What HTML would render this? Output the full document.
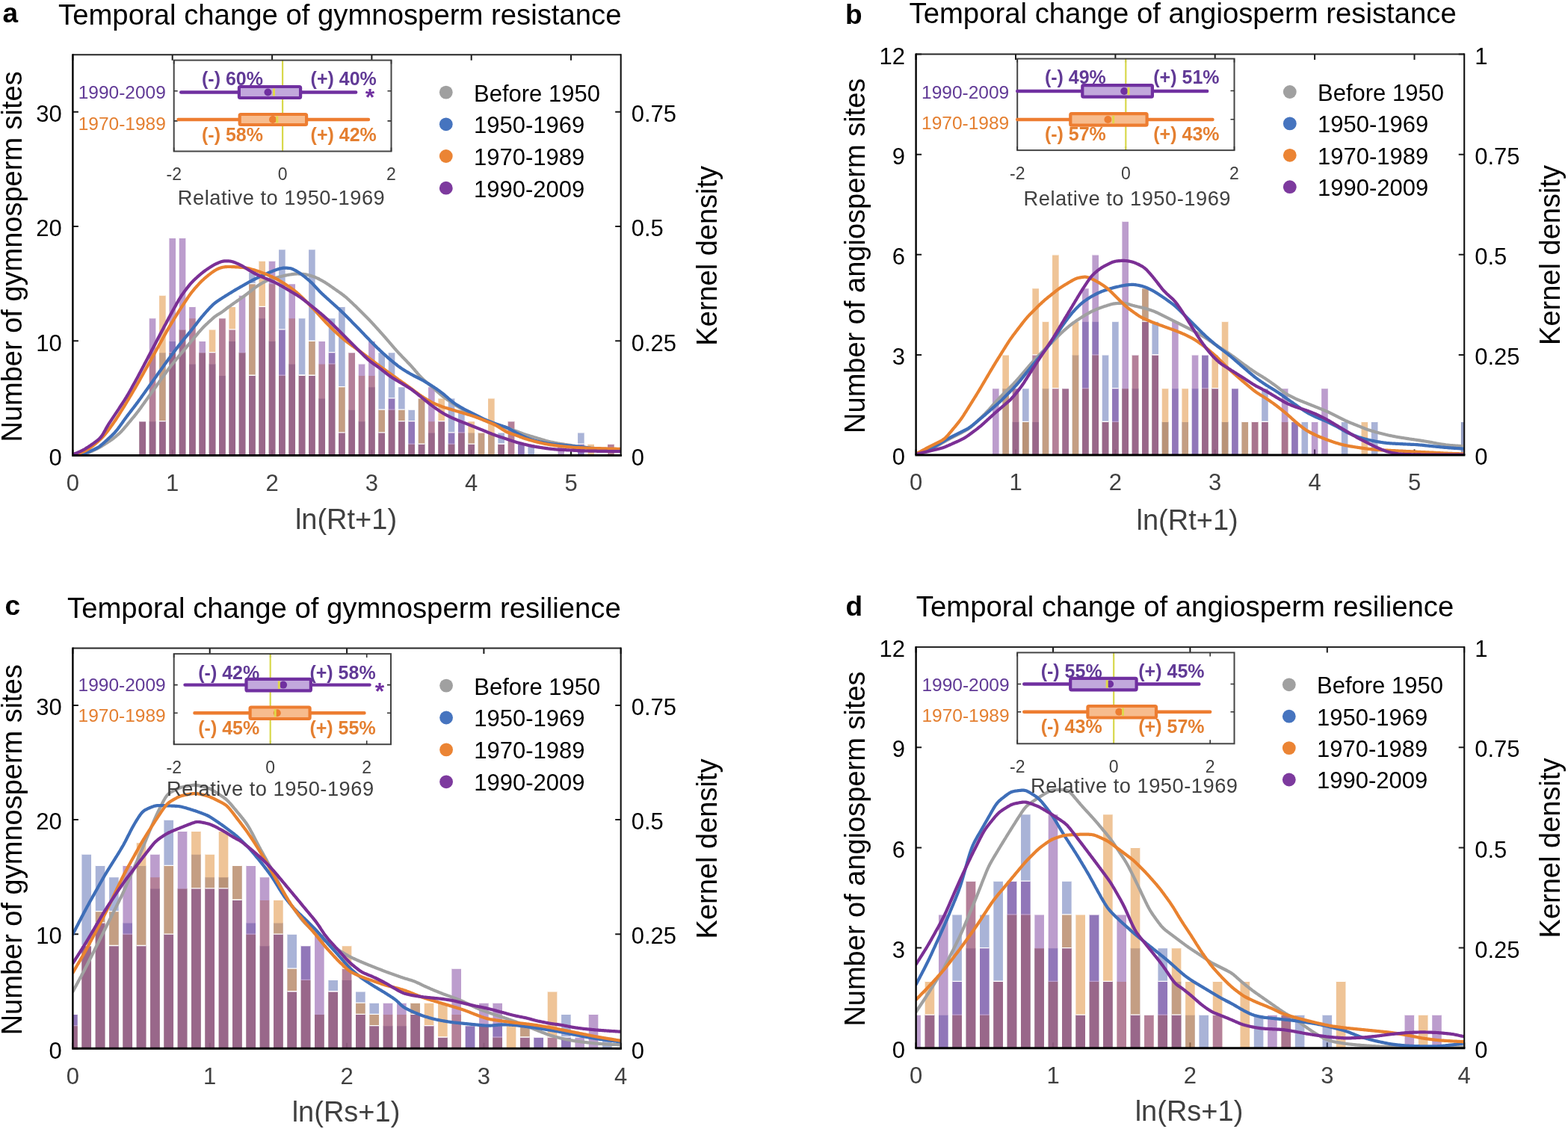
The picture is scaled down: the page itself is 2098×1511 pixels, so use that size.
<!DOCTYPE html><html><head><meta charset="utf-8"><style>html,body{margin:0;padding:0;background:#fff;overflow:hidden}svg{display:block}</style></head><body><svg width="2098" height="1511" viewBox="0 0 2098 1511" font-family="'Liberation Sans', Arial, Helvetica, sans-serif">
<rect width="2098" height="1511" fill="#fff"/>
<clipPath id="clipa"><rect x="97.4" y="71.2" width="733.3000000000001" height="538.3"/></clipPath>
<path d="M97.4,609.5 v-7.5 M97.4,73.2 v7.5 M230.7,609.5 v-7.5 M230.7,73.2 v7.5 M364.1,609.5 v-7.5 M364.1,73.2 v7.5 M497.4,609.5 v-7.5 M497.4,73.2 v7.5 M630.7,609.5 v-7.5 M630.7,73.2 v7.5 M764.0,609.5 v-7.5 M764.0,73.2 v7.5 M97.4,609.5 h7.5 M97.4,456.3 h7.5 M97.4,303.0 h7.5 M97.4,149.8 h7.5 M830.7,609.5 h-7.5 M830.7,456.3 h-7.5 M830.7,303.0 h-7.5 M830.7,149.8 h-7.5" stroke="#1a1a1a" stroke-width="2" fill="none"/>
<g clip-path="url(#clipa)">
<g fill="#a5a5a5" fill-opacity="0.5"><rect x="186.43" y="563.53" width="8.60" height="45.97"/><rect x="199.76" y="563.53" width="8.60" height="45.97"/><rect x="213.09" y="563.53" width="8.60" height="45.97"/><rect x="226.43" y="471.59" width="8.60" height="137.91"/><rect x="239.76" y="471.59" width="8.60" height="137.91"/><rect x="253.09" y="486.92" width="8.60" height="122.58"/><rect x="266.43" y="471.59" width="8.60" height="137.91"/><rect x="279.76" y="486.92" width="8.60" height="122.58"/><rect x="293.09" y="502.24" width="8.60" height="107.26"/><rect x="306.42" y="456.27" width="8.60" height="153.23"/><rect x="319.76" y="471.59" width="8.60" height="137.91"/><rect x="333.09" y="502.24" width="8.60" height="107.26"/><rect x="346.42" y="425.63" width="8.60" height="183.87"/><rect x="359.75" y="456.27" width="8.60" height="153.23"/><rect x="373.09" y="502.24" width="8.60" height="107.26"/><rect x="386.42" y="486.92" width="8.60" height="122.58"/><rect x="399.75" y="502.24" width="8.60" height="107.26"/><rect x="413.09" y="502.24" width="8.60" height="107.26"/><rect x="426.42" y="532.89" width="8.60" height="76.61"/><rect x="439.75" y="486.92" width="8.60" height="122.58"/><rect x="453.08" y="578.85" width="8.60" height="30.65"/><rect x="466.42" y="548.21" width="8.60" height="61.29"/><rect x="479.75" y="563.53" width="8.60" height="45.97"/><rect x="493.08" y="517.56" width="8.60" height="91.94"/><rect x="506.41" y="578.85" width="8.60" height="30.65"/><rect x="519.75" y="548.21" width="8.60" height="61.29"/><rect x="533.08" y="563.53" width="8.60" height="45.97"/><rect x="546.41" y="594.18" width="8.60" height="15.32"/><rect x="559.75" y="594.18" width="8.60" height="15.32"/><rect x="573.08" y="578.85" width="8.60" height="30.65"/><rect x="586.41" y="563.53" width="8.60" height="45.97"/><rect x="599.74" y="594.18" width="8.60" height="15.32"/><rect x="613.08" y="578.85" width="8.60" height="30.65"/><rect x="626.41" y="594.18" width="8.60" height="15.32"/><rect x="666.41" y="594.18" width="8.60" height="15.32"/></g>
<path d="M186.43,563.53 h8.60 M199.76,563.53 h8.60 M213.09,563.53 h8.60 M226.43,471.59 h8.60 M239.76,471.59 h8.60 M253.09,486.92 h8.60 M266.43,471.59 h8.60 M279.76,486.92 h8.60 M293.09,502.24 h8.60 M306.42,456.27 h8.60 M319.76,471.59 h8.60 M333.09,502.24 h8.60 M346.42,425.63 h8.60 M359.75,456.27 h8.60 M373.09,502.24 h8.60 M386.42,486.92 h8.60 M399.75,502.24 h8.60 M413.09,502.24 h8.60 M426.42,532.89 h8.60 M439.75,486.92 h8.60 M453.08,578.85 h8.60 M466.42,548.21 h8.60 M479.75,563.53 h8.60 M493.08,517.56 h8.60 M506.41,578.85 h8.60 M519.75,548.21 h8.60 M533.08,563.53 h8.60 M546.41,594.18 h8.60 M559.75,594.18 h8.60 M573.08,578.85 h8.60 M586.41,563.53 h8.60 M599.74,594.18 h8.60 M613.08,578.85 h8.60 M626.41,594.18 h8.60 M666.41,594.18 h8.60" stroke="#fff" stroke-width="1.3" fill="none"/>
<g fill="#5468b0" fill-opacity="0.5"><rect x="186.43" y="563.53" width="8.60" height="45.97"/><rect x="199.76" y="563.53" width="8.60" height="45.97"/><rect x="213.09" y="471.59" width="8.60" height="137.91"/><rect x="226.43" y="456.27" width="8.60" height="153.23"/><rect x="239.76" y="440.95" width="8.60" height="168.55"/><rect x="253.09" y="486.92" width="8.60" height="122.58"/><rect x="266.43" y="471.59" width="8.60" height="137.91"/><rect x="279.76" y="486.92" width="8.60" height="122.58"/><rect x="293.09" y="502.24" width="8.60" height="107.26"/><rect x="306.42" y="456.27" width="8.60" height="153.23"/><rect x="319.76" y="471.59" width="8.60" height="137.91"/><rect x="333.09" y="364.33" width="8.60" height="245.17"/><rect x="346.42" y="425.63" width="8.60" height="183.87"/><rect x="359.75" y="456.27" width="8.60" height="153.23"/><rect x="373.09" y="333.69" width="8.60" height="275.81"/><rect x="386.42" y="486.92" width="8.60" height="122.58"/><rect x="399.75" y="425.63" width="8.60" height="183.87"/><rect x="413.09" y="333.69" width="8.60" height="275.81"/><rect x="426.42" y="532.89" width="8.60" height="76.61"/><rect x="439.75" y="425.63" width="8.60" height="183.87"/><rect x="453.08" y="410.30" width="8.60" height="199.20"/><rect x="466.42" y="548.21" width="8.60" height="61.29"/><rect x="479.75" y="563.53" width="8.60" height="45.97"/><rect x="493.08" y="517.56" width="8.60" height="91.94"/><rect x="506.41" y="471.59" width="8.60" height="137.91"/><rect x="519.75" y="471.59" width="8.60" height="137.91"/><rect x="533.08" y="517.56" width="8.60" height="91.94"/><rect x="546.41" y="548.21" width="8.60" height="61.29"/><rect x="559.75" y="532.89" width="8.60" height="76.61"/><rect x="573.08" y="578.85" width="8.60" height="30.65"/><rect x="586.41" y="563.53" width="8.60" height="45.97"/><rect x="599.74" y="532.89" width="8.60" height="76.61"/><rect x="613.08" y="548.21" width="8.60" height="61.29"/><rect x="626.41" y="578.85" width="8.60" height="30.65"/><rect x="639.74" y="578.85" width="8.60" height="30.65"/><rect x="653.07" y="578.85" width="8.60" height="30.65"/><rect x="666.41" y="578.85" width="8.60" height="30.65"/><rect x="693.07" y="594.18" width="8.60" height="15.32"/><rect x="706.41" y="594.18" width="8.60" height="15.32"/><rect x="773.07" y="578.85" width="8.60" height="30.65"/></g>
<path d="M186.43,563.53 h8.60 M199.76,563.53 h8.60 M213.09,471.59 h8.60 M226.43,456.27 h8.60 M239.76,440.95 h8.60 M253.09,486.92 h8.60 M266.43,471.59 h8.60 M279.76,486.92 h8.60 M293.09,502.24 h8.60 M306.42,456.27 h8.60 M319.76,471.59 h8.60 M333.09,364.33 h8.60 M346.42,425.63 h8.60 M359.75,456.27 h8.60 M373.09,333.69 h8.60 M386.42,486.92 h8.60 M399.75,425.63 h8.60 M413.09,333.69 h8.60 M426.42,532.89 h8.60 M439.75,425.63 h8.60 M453.08,410.30 h8.60 M466.42,548.21 h8.60 M479.75,563.53 h8.60 M493.08,517.56 h8.60 M506.41,471.59 h8.60 M519.75,471.59 h8.60 M533.08,517.56 h8.60 M546.41,548.21 h8.60 M559.75,532.89 h8.60 M573.08,578.85 h8.60 M586.41,563.53 h8.60 M599.74,532.89 h8.60 M613.08,548.21 h8.60 M626.41,578.85 h8.60 M639.74,578.85 h8.60 M653.07,578.85 h8.60 M666.41,578.85 h8.60 M693.07,594.18 h8.60 M706.41,594.18 h8.60 M773.07,578.85 h8.60" stroke="#fff" stroke-width="1.3" fill="none"/>
<g fill="#e08a30" fill-opacity="0.5"><rect x="186.43" y="563.53" width="8.60" height="45.97"/><rect x="199.76" y="471.59" width="8.60" height="137.91"/><rect x="213.09" y="394.98" width="8.60" height="214.52"/><rect x="226.43" y="471.59" width="8.60" height="137.91"/><rect x="239.76" y="440.95" width="8.60" height="168.55"/><rect x="253.09" y="425.63" width="8.60" height="183.87"/><rect x="266.43" y="471.59" width="8.60" height="137.91"/><rect x="279.76" y="440.95" width="8.60" height="168.55"/><rect x="293.09" y="425.63" width="8.60" height="183.87"/><rect x="306.42" y="410.30" width="8.60" height="199.20"/><rect x="319.76" y="471.59" width="8.60" height="137.91"/><rect x="333.09" y="379.66" width="8.60" height="229.84"/><rect x="346.42" y="349.01" width="8.60" height="260.49"/><rect x="359.75" y="379.66" width="8.60" height="229.84"/><rect x="373.09" y="502.24" width="8.60" height="107.26"/><rect x="386.42" y="425.63" width="8.60" height="183.87"/><rect x="399.75" y="502.24" width="8.60" height="107.26"/><rect x="413.09" y="456.27" width="8.60" height="153.23"/><rect x="426.42" y="486.92" width="8.60" height="122.58"/><rect x="439.75" y="486.92" width="8.60" height="122.58"/><rect x="453.08" y="517.56" width="8.60" height="91.94"/><rect x="466.42" y="471.59" width="8.60" height="137.91"/><rect x="479.75" y="502.24" width="8.60" height="107.26"/><rect x="493.08" y="502.24" width="8.60" height="107.26"/><rect x="506.41" y="548.21" width="8.60" height="61.29"/><rect x="519.75" y="548.21" width="8.60" height="61.29"/><rect x="533.08" y="548.21" width="8.60" height="61.29"/><rect x="546.41" y="594.18" width="8.60" height="15.32"/><rect x="559.75" y="532.89" width="8.60" height="76.61"/><rect x="573.08" y="563.53" width="8.60" height="45.97"/><rect x="586.41" y="532.89" width="8.60" height="76.61"/><rect x="599.74" y="594.18" width="8.60" height="15.32"/><rect x="613.08" y="578.85" width="8.60" height="30.65"/><rect x="626.41" y="563.53" width="8.60" height="45.97"/><rect x="639.74" y="578.85" width="8.60" height="30.65"/><rect x="653.07" y="532.89" width="8.60" height="76.61"/><rect x="666.41" y="594.18" width="8.60" height="15.32"/><rect x="679.74" y="563.53" width="8.60" height="45.97"/><rect x="786.40" y="594.18" width="8.60" height="15.32"/><rect x="813.07" y="594.18" width="8.60" height="15.32"/></g>
<path d="M186.43,563.53 h8.60 M199.76,471.59 h8.60 M213.09,394.98 h8.60 M226.43,471.59 h8.60 M239.76,440.95 h8.60 M253.09,425.63 h8.60 M266.43,471.59 h8.60 M279.76,440.95 h8.60 M293.09,425.63 h8.60 M306.42,410.30 h8.60 M319.76,471.59 h8.60 M333.09,379.66 h8.60 M346.42,349.01 h8.60 M359.75,379.66 h8.60 M373.09,502.24 h8.60 M386.42,425.63 h8.60 M399.75,502.24 h8.60 M413.09,456.27 h8.60 M426.42,486.92 h8.60 M439.75,486.92 h8.60 M453.08,517.56 h8.60 M466.42,471.59 h8.60 M479.75,502.24 h8.60 M493.08,502.24 h8.60 M506.41,548.21 h8.60 M519.75,548.21 h8.60 M533.08,548.21 h8.60 M546.41,594.18 h8.60 M559.75,532.89 h8.60 M573.08,563.53 h8.60 M586.41,532.89 h8.60 M599.74,594.18 h8.60 M613.08,578.85 h8.60 M626.41,563.53 h8.60 M639.74,578.85 h8.60 M653.07,532.89 h8.60 M666.41,594.18 h8.60 M679.74,563.53 h8.60 M786.40,594.18 h8.60 M813.07,594.18 h8.60" stroke="#fff" stroke-width="1.3" fill="none"/>
<g fill="#7a3c9c" fill-opacity="0.5"><rect x="186.43" y="563.53" width="8.60" height="45.97"/><rect x="199.76" y="425.63" width="8.60" height="183.87"/><rect x="213.09" y="563.53" width="8.60" height="45.97"/><rect x="226.43" y="318.37" width="8.60" height="291.13"/><rect x="239.76" y="318.37" width="8.60" height="291.13"/><rect x="253.09" y="410.30" width="8.60" height="199.20"/><rect x="266.43" y="456.27" width="8.60" height="153.23"/><rect x="279.76" y="471.59" width="8.60" height="137.91"/><rect x="293.09" y="425.63" width="8.60" height="183.87"/><rect x="306.42" y="440.95" width="8.60" height="168.55"/><rect x="319.76" y="394.98" width="8.60" height="214.52"/><rect x="333.09" y="502.24" width="8.60" height="107.26"/><rect x="346.42" y="410.30" width="8.60" height="199.20"/><rect x="359.75" y="349.01" width="8.60" height="260.49"/><rect x="373.09" y="440.95" width="8.60" height="168.55"/><rect x="386.42" y="379.66" width="8.60" height="229.84"/><rect x="399.75" y="502.24" width="8.60" height="107.26"/><rect x="413.09" y="502.24" width="8.60" height="107.26"/><rect x="426.42" y="456.27" width="8.60" height="153.23"/><rect x="439.75" y="471.59" width="8.60" height="137.91"/><rect x="453.08" y="578.85" width="8.60" height="30.65"/><rect x="466.42" y="471.59" width="8.60" height="137.91"/><rect x="479.75" y="486.92" width="8.60" height="122.58"/><rect x="493.08" y="456.27" width="8.60" height="153.23"/><rect x="506.41" y="578.85" width="8.60" height="30.65"/><rect x="519.75" y="532.89" width="8.60" height="76.61"/><rect x="533.08" y="563.53" width="8.60" height="45.97"/><rect x="546.41" y="563.53" width="8.60" height="45.97"/><rect x="559.75" y="594.18" width="8.60" height="15.32"/><rect x="573.08" y="517.56" width="8.60" height="91.94"/><rect x="586.41" y="563.53" width="8.60" height="45.97"/><rect x="599.74" y="578.85" width="8.60" height="30.65"/><rect x="613.08" y="563.53" width="8.60" height="45.97"/><rect x="626.41" y="594.18" width="8.60" height="15.32"/><rect x="666.41" y="594.18" width="8.60" height="15.32"/><rect x="679.74" y="563.53" width="8.60" height="45.97"/><rect x="693.07" y="594.18" width="8.60" height="15.32"/><rect x="746.40" y="594.18" width="8.60" height="15.32"/><rect x="773.07" y="594.18" width="8.60" height="15.32"/><rect x="813.07" y="594.18" width="8.60" height="15.32"/></g>
<path d="M186.43,563.53 h8.60 M199.76,425.63 h8.60 M213.09,563.53 h8.60 M226.43,318.37 h8.60 M239.76,318.37 h8.60 M253.09,410.30 h8.60 M266.43,456.27 h8.60 M279.76,471.59 h8.60 M293.09,425.63 h8.60 M306.42,440.95 h8.60 M319.76,394.98 h8.60 M333.09,502.24 h8.60 M346.42,410.30 h8.60 M359.75,349.01 h8.60 M373.09,440.95 h8.60 M386.42,379.66 h8.60 M399.75,502.24 h8.60 M413.09,502.24 h8.60 M426.42,456.27 h8.60 M439.75,471.59 h8.60 M453.08,578.85 h8.60 M466.42,471.59 h8.60 M479.75,486.92 h8.60 M493.08,456.27 h8.60 M506.41,578.85 h8.60 M519.75,532.89 h8.60 M533.08,563.53 h8.60 M546.41,563.53 h8.60 M559.75,594.18 h8.60 M573.08,517.56 h8.60 M586.41,563.53 h8.60 M599.74,578.85 h8.60 M613.08,563.53 h8.60 M626.41,594.18 h8.60 M666.41,594.18 h8.60 M679.74,563.53 h8.60 M693.07,594.18 h8.60 M746.40,594.18 h8.60 M773.07,594.18 h8.60 M813.07,594.18 h8.60" stroke="#fff" stroke-width="1.3" fill="none"/>
</g>
<path d="M97.0,609.2 L98.0,609.1 L99.0,609.1 L100.0,609.0 L101.0,608.9 L102.0,608.8 L103.0,608.8 L104.0,608.7 L105.0,608.6 L106.0,608.5 L107.0,608.5 L108.0,608.4 L109.0,608.3 L110.0,608.2 L111.0,608.0 L112.0,607.9 L113.0,607.6 L114.0,607.4 L115.0,607.1 L116.0,606.7 L117.0,606.4 L118.0,606.0 L119.0,605.5 L120.0,605.1 L121.0,604.7 L122.0,604.2 L123.0,603.7 L124.0,603.3 L125.0,602.8 L126.0,602.4 L127.0,601.9 L128.0,601.4 L129.0,600.9 L130.0,600.5 L131.0,599.9 L132.0,599.4 L133.0,598.9 L134.0,598.3 L135.0,597.7 L136.0,597.1 L137.0,596.5 L138.0,595.8 L139.0,595.2 L140.0,594.6 L141.0,593.9 L142.0,593.3 L143.0,592.6 L144.0,592.0 L145.0,591.3 L146.0,590.7 L147.0,590.0 L148.0,589.4 L149.0,588.7 L150.0,588.0 L151.0,587.2 L152.0,586.5 L153.0,585.7 L154.0,584.9 L155.0,584.1 L156.0,583.2 L157.0,582.4 L158.0,581.5 L159.0,580.6 L160.0,579.7 L161.0,578.7 L162.0,577.7 L163.0,576.7 L164.0,575.6 L165.0,574.5 L166.0,573.3 L167.0,572.1 L168.0,571.0 L169.0,569.8 L170.0,568.6 L171.0,567.4 L172.0,566.2 L173.0,565.0 L174.0,563.8 L175.0,562.6 L176.0,561.4 L177.0,560.2 L178.0,559.0 L179.0,557.8 L180.0,556.6 L181.0,555.3 L182.0,554.1 L183.0,552.8 L184.0,551.5 L185.0,550.2 L186.0,548.9 L187.0,547.5 L188.0,546.2 L189.0,544.8 L190.0,543.4 L191.0,542.0 L192.0,540.6 L193.0,539.2 L194.0,537.8 L195.0,536.4 L196.0,535.0 L197.0,533.6 L198.0,532.2 L199.0,530.8 L200.0,529.4 L201.0,528.0 L202.0,526.6 L203.0,525.2 L204.0,523.8 L205.0,522.4 L206.0,521.0 L207.0,519.6 L208.0,518.2 L209.0,516.8 L210.0,515.4 L211.0,514.0 L212.0,512.6 L213.0,511.2 L214.0,509.8 L215.0,508.4 L216.0,507.0 L217.0,505.6 L218.0,504.2 L219.0,502.8 L220.0,501.4 L221.0,500.1 L222.0,498.7 L223.0,497.3 L224.0,495.9 L225.0,494.5 L226.0,493.2 L227.0,491.9 L228.0,490.6 L229.0,489.3 L230.0,488.0 L231.0,486.8 L232.0,485.6 L233.0,484.4 L234.0,483.1 L235.0,481.9 L236.0,480.7 L237.0,479.5 L238.0,478.3 L239.0,477.1 L240.0,475.9 L241.0,474.7 L242.0,473.5 L243.0,472.3 L244.0,471.1 L245.0,469.9 L246.0,468.7 L247.0,467.5 L248.0,466.3 L249.0,465.1 L250.0,463.9 L251.0,462.7 L252.0,461.5 L253.0,460.3 L254.0,459.1 L255.0,457.9 L256.0,456.7 L257.0,455.5 L258.0,454.3 L259.0,453.1 L260.0,451.9 L261.0,450.7 L262.0,449.5 L263.0,448.3 L264.0,447.1 L265.0,445.9 L266.0,444.7 L267.0,443.6 L268.0,442.4 L269.0,441.3 L270.0,440.2 L271.0,439.1 L272.0,438.0 L273.0,437.0 L274.0,436.0 L275.0,435.1 L276.0,434.1 L277.0,433.2 L278.0,432.3 L279.0,431.3 L280.0,430.4 L281.0,429.5 L282.0,428.6 L283.0,427.7 L284.0,426.8 L285.0,425.9 L286.0,425.0 L287.0,424.2 L288.0,423.4 L289.0,422.7 L290.0,422.0 L291.0,421.3 L292.0,420.7 L293.0,420.1 L294.0,419.6 L295.0,418.9 L296.0,418.3 L297.0,417.6 L298.0,416.9 L299.0,416.2 L300.0,415.4 L301.0,414.6 L302.0,413.8 L303.0,413.0 L304.0,412.3 L305.0,411.5 L306.0,410.8 L307.0,410.1 L308.0,409.4 L309.0,408.7 L310.0,407.9 L311.0,407.2 L312.0,406.5 L313.0,405.8 L314.0,405.1 L315.0,404.4 L316.0,403.7 L317.0,403.0 L318.0,402.3 L319.0,401.6 L320.0,400.9 L321.0,400.2 L322.0,399.5 L323.0,398.8 L324.0,398.1 L325.0,397.4 L326.0,396.7 L327.0,396.0 L328.0,395.2 L329.0,394.5 L330.0,393.7 L331.0,393.0 L332.0,392.2 L333.0,391.4 L334.0,390.6 L335.0,389.8 L336.0,389.0 L337.0,388.2 L338.0,387.5 L339.0,386.7 L340.0,385.9 L341.0,385.2 L342.0,384.4 L343.0,383.7 L344.0,383.0 L345.0,382.4 L346.0,381.7 L347.0,381.1 L348.0,380.5 L349.0,379.9 L350.0,379.3 L351.0,378.7 L352.0,378.1 L353.0,377.6 L354.0,377.1 L355.0,376.6 L356.0,376.1 L357.0,375.7 L358.0,375.2 L359.0,374.9 L360.0,374.5 L361.0,374.2 L362.0,373.9 L363.0,373.5 L364.0,373.2 L365.0,372.9 L366.0,372.6 L367.0,372.4 L368.0,372.1 L369.0,371.8 L370.0,371.5 L371.0,371.2 L372.0,371.0 L373.0,370.7 L374.0,370.5 L375.0,370.2 L376.0,370.0 L377.0,369.7 L378.0,369.5 L379.0,369.2 L380.0,369.0 L381.0,368.8 L382.0,368.6 L383.0,368.4 L384.0,368.2 L385.0,368.0 L386.0,367.8 L387.0,367.7 L388.0,367.5 L389.0,367.4 L390.0,367.2 L391.0,367.1 L392.0,366.9 L393.0,366.8 L394.0,366.7 L395.0,366.6 L396.0,366.6 L397.0,366.5 L398.0,366.5 L399.0,366.5 L400.0,366.6 L401.0,366.6 L402.0,366.6 L403.0,366.7 L404.0,366.8 L405.0,366.8 L406.0,366.9 L407.0,367.0 L408.0,367.2 L409.0,367.3 L410.0,367.5 L411.0,367.7 L412.0,368.0 L413.0,368.2 L414.0,368.5 L415.0,368.8 L416.0,369.1 L417.0,369.4 L418.0,369.7 L419.0,370.1 L420.0,370.4 L421.0,370.8 L422.0,371.2 L423.0,371.6 L424.0,372.1 L425.0,372.5 L426.0,373.0 L427.0,373.5 L428.0,374.1 L429.0,374.6 L430.0,375.2 L431.0,375.7 L432.0,376.3 L433.0,376.9 L434.0,377.4 L435.0,378.0 L436.0,378.7 L437.0,379.3 L438.0,380.0 L439.0,380.6 L440.0,381.3 L441.0,382.0 L442.0,382.7 L443.0,383.4 L444.0,384.1 L445.0,384.8 L446.0,385.5 L447.0,386.2 L448.0,386.9 L449.0,387.6 L450.0,388.3 L451.0,389.0 L452.0,389.7 L453.0,390.4 L454.0,391.1 L455.0,391.8 L456.0,392.5 L457.0,393.2 L458.0,394.0 L459.0,394.7 L460.0,395.5 L461.0,396.3 L462.0,397.1 L463.0,397.9 L464.0,398.8 L465.0,399.7 L466.0,400.6 L467.0,401.5 L468.0,402.5 L469.0,403.4 L470.0,404.4 L471.0,405.3 L472.0,406.3 L473.0,407.2 L474.0,408.2 L475.0,409.1 L476.0,410.1 L477.0,411.1 L478.0,412.1 L479.0,413.0 L480.0,414.0 L481.0,415.0 L482.0,416.0 L483.0,417.0 L484.0,418.0 L485.0,419.0 L486.0,420.0 L487.0,421.0 L488.0,422.0 L489.0,423.0 L490.0,424.0 L491.0,425.0 L492.0,426.0 L493.0,427.0 L494.0,428.1 L495.0,429.1 L496.0,430.2 L497.0,431.2 L498.0,432.3 L499.0,433.4 L500.0,434.5 L501.0,435.6 L502.0,436.7 L503.0,437.8 L504.0,438.9 L505.0,440.0 L506.0,441.1 L507.0,442.2 L508.0,443.3 L509.0,444.5 L510.0,445.6 L511.0,446.7 L512.0,447.8 L513.0,448.9 L514.0,450.1 L515.0,451.2 L516.0,452.4 L517.0,453.5 L518.0,454.7 L519.0,455.8 L520.0,457.0 L521.0,458.2 L522.0,459.3 L523.0,460.5 L524.0,461.7 L525.0,462.8 L526.0,464.0 L527.0,465.2 L528.0,466.3 L529.0,467.4 L530.0,468.6 L531.0,469.7 L532.0,470.8 L533.0,471.9 L534.0,473.0 L535.0,474.0 L536.0,475.1 L537.0,476.1 L538.0,477.2 L539.0,478.2 L540.0,479.2 L541.0,480.3 L542.0,481.3 L543.0,482.3 L544.0,483.3 L545.0,484.4 L546.0,485.4 L547.0,486.5 L548.0,487.5 L549.0,488.6 L550.0,489.7 L551.0,490.8 L552.0,491.9 L553.0,493.1 L554.0,494.2 L555.0,495.4 L556.0,496.6 L557.0,497.7 L558.0,498.9 L559.0,500.1 L560.0,501.2 L561.0,502.3 L562.0,503.4 L563.0,504.5 L564.0,505.5 L565.0,506.5 L566.0,507.5 L567.0,508.4 L568.0,509.3 L569.0,510.2 L570.0,511.0 L571.0,511.9 L572.0,512.7 L573.0,513.5 L574.0,514.4 L575.0,515.2 L576.0,516.1 L577.0,516.9 L578.0,517.8 L579.0,518.7 L580.0,519.5 L581.0,520.4 L582.0,521.3 L583.0,522.2 L584.0,523.1 L585.0,524.0 L586.0,524.9 L587.0,525.7 L588.0,526.6 L589.0,527.5 L590.0,528.3 L591.0,529.2 L592.0,530.0 L593.0,530.8 L594.0,531.6 L595.0,532.3 L596.0,533.1 L597.0,533.8 L598.0,534.5 L599.0,535.2 L600.0,535.9 L601.0,536.6 L602.0,537.3 L603.0,538.0 L604.0,538.7 L605.0,539.4 L606.0,540.0 L607.0,540.7 L608.0,541.3 L609.0,542.0 L610.0,542.6 L611.0,543.2 L612.0,543.8 L613.0,544.4 L614.0,545.0 L615.0,545.6 L616.0,546.2 L617.0,546.7 L618.0,547.3 L619.0,547.9 L620.0,548.4 L621.0,549.0 L622.0,549.5 L623.0,550.1 L624.0,550.6 L625.0,551.1 L626.0,551.6 L627.0,552.1 L628.0,552.6 L629.0,553.1 L630.0,553.6 L631.0,554.1 L632.0,554.6 L633.0,555.1 L634.0,555.6 L635.0,556.1 L636.0,556.6 L637.0,557.1 L638.0,557.6 L639.0,558.1 L640.0,558.6 L641.0,559.1 L642.0,559.6 L643.0,560.1 L644.0,560.6 L645.0,561.1 L646.0,561.5 L647.0,562.0 L648.0,562.5 L649.0,562.9 L650.0,563.4 L651.0,563.8 L652.0,564.2 L653.0,564.6 L654.0,565.0 L655.0,565.4 L656.0,565.8 L657.0,566.2 L658.0,566.6 L659.0,567.0 L660.0,567.4 L661.0,567.7 L662.0,568.1 L663.0,568.4 L664.0,568.8 L665.0,569.1 L666.0,569.4 L667.0,569.7 L668.0,570.0 L669.0,570.3 L670.0,570.6 L671.0,570.9 L672.0,571.2 L673.0,571.5 L674.0,571.8 L675.0,572.1 L676.0,572.4 L677.0,572.7 L678.0,573.0 L679.0,573.3 L680.0,573.6 L681.0,573.9 L682.0,574.2 L683.0,574.5 L684.0,574.8 L685.0,575.1 L686.0,575.4 L687.0,575.8 L688.0,576.1 L689.0,576.4 L690.0,576.8 L691.0,577.1 L692.0,577.5 L693.0,577.9 L694.0,578.3 L695.0,578.7 L696.0,579.1 L697.0,579.4 L698.0,579.8 L699.0,580.2 L700.0,580.6 L701.0,580.9 L702.0,581.3 L703.0,581.6 L704.0,581.9 L705.0,582.2 L706.0,582.5 L707.0,582.8 L708.0,583.1 L709.0,583.4 L710.0,583.7 L711.0,584.0 L712.0,584.3 L713.0,584.6 L714.0,584.9 L715.0,585.2 L716.0,585.5 L717.0,585.8 L718.0,586.1 L719.0,586.4 L720.0,586.7 L721.0,587.0 L722.0,587.3 L723.0,587.6 L724.0,587.9 L725.0,588.2 L726.0,588.5 L727.0,588.8 L728.0,589.1 L729.0,589.4 L730.0,589.7 L731.0,590.0 L732.0,590.2 L733.0,590.5 L734.0,590.8 L735.0,591.0 L736.0,591.3 L737.0,591.5 L738.0,591.7 L739.0,591.9 L740.0,592.1 L741.0,592.3 L742.0,592.5 L743.0,592.7 L744.0,592.9 L745.0,593.1 L746.0,593.3 L747.0,593.5 L748.0,593.6 L749.0,593.8 L750.0,594.0 L751.0,594.1 L752.0,594.3 L753.0,594.4 L754.0,594.6 L755.0,594.7 L756.0,594.9 L757.0,595.0 L758.0,595.2 L759.0,595.3 L760.0,595.5 L761.0,595.6 L762.0,595.8 L763.0,595.9 L764.0,596.1 L765.0,596.2 L766.0,596.4 L767.0,596.5 L768.0,596.7 L769.0,596.8 L770.0,597.0 L771.0,597.1 L772.0,597.3 L773.0,597.4 L774.0,597.6 L775.0,597.7 L776.0,597.8 L777.0,598.0 L778.0,598.1 L779.0,598.2 L780.0,598.3 L781.0,598.4 L782.0,598.6 L783.0,598.7 L784.0,598.8 L785.0,598.9 L786.0,599.0 L787.0,599.1 L788.0,599.2 L789.0,599.3 L790.0,599.4 L791.0,599.5 L792.0,599.6 L793.0,599.7 L794.0,599.8 L795.0,599.9 L796.0,600.0 L797.0,600.1 L798.0,600.2 L799.0,600.3 L800.0,600.4 L801.0,600.5 L802.0,600.5 L803.0,600.6 L804.0,600.7 L805.0,600.7 L806.0,600.8 L807.0,600.8 L808.0,600.8 L809.0,600.9 L810.0,600.9 L811.0,601.0 L812.0,601.0 L813.0,601.0 L814.0,601.1 L815.0,601.1 L816.0,601.1 L817.0,601.2 L818.0,601.2 L819.0,601.3 L820.0,601.3 L821.0,601.3 L822.0,601.4 L823.0,601.4 L824.0,601.4 L825.0,601.5 L826.0,601.5 L827.0,601.6 L828.0,601.6 L829.0,601.6 L830.0,601.7 L831.0,601.7" fill="none" stroke="#a0a0a0" stroke-width="4.2" stroke-linejoin="round" stroke-linecap="round" clip-path="url(#clipa)"/>
<path d="M97.0,609.0 L98.0,608.9 L99.0,608.8 L100.0,608.6 L101.0,608.5 L102.0,608.4 L103.0,608.3 L104.0,608.2 L105.0,608.0 L106.0,607.9 L107.0,607.8 L108.0,607.7 L109.0,607.5 L110.0,607.4 L111.0,607.2 L112.0,607.0 L113.0,606.7 L114.0,606.5 L115.0,606.1 L116.0,605.8 L117.0,605.4 L118.0,605.0 L119.0,604.6 L120.0,604.2 L121.0,603.7 L122.0,603.3 L123.0,602.8 L124.0,602.4 L125.0,601.9 L126.0,601.5 L127.0,601.0 L128.0,600.5 L129.0,600.0 L130.0,599.5 L131.0,598.9 L132.0,598.3 L133.0,597.6 L134.0,596.8 L135.0,596.0 L136.0,595.2 L137.0,594.4 L138.0,593.5 L139.0,592.6 L140.0,591.7 L141.0,590.8 L142.0,589.9 L143.0,589.0 L144.0,588.0 L145.0,587.1 L146.0,586.2 L147.0,585.3 L148.0,584.4 L149.0,583.5 L150.0,582.5 L151.0,581.5 L152.0,580.5 L153.0,579.5 L154.0,578.4 L155.0,577.2 L156.0,576.0 L157.0,574.8 L158.0,573.5 L159.0,572.1 L160.0,570.8 L161.0,569.4 L162.0,568.0 L163.0,566.6 L164.0,565.2 L165.0,563.8 L166.0,562.4 L167.0,561.0 L168.0,559.6 L169.0,558.3 L170.0,556.9 L171.0,555.6 L172.0,554.3 L173.0,553.0 L174.0,551.7 L175.0,550.4 L176.0,549.1 L177.0,547.8 L178.0,546.5 L179.0,545.2 L180.0,543.9 L181.0,542.6 L182.0,541.2 L183.0,539.9 L184.0,538.6 L185.0,537.2 L186.0,535.8 L187.0,534.5 L188.0,533.1 L189.0,531.7 L190.0,530.3 L191.0,528.9 L192.0,527.5 L193.0,526.1 L194.0,524.7 L195.0,523.3 L196.0,521.9 L197.0,520.5 L198.0,519.1 L199.0,517.7 L200.0,516.3 L201.0,514.9 L202.0,513.5 L203.0,512.1 L204.0,510.7 L205.0,509.3 L206.0,507.9 L207.0,506.5 L208.0,505.1 L209.0,503.7 L210.0,502.2 L211.0,500.8 L212.0,499.4 L213.0,498.0 L214.0,496.6 L215.0,495.3 L216.0,493.9 L217.0,492.5 L218.0,491.1 L219.0,489.7 L220.0,488.3 L221.0,486.9 L222.0,485.5 L223.0,484.1 L224.0,482.8 L225.0,481.4 L226.0,480.0 L227.0,478.7 L228.0,477.3 L229.0,476.0 L230.0,474.6 L231.0,473.3 L232.0,472.0 L233.0,470.7 L234.0,469.4 L235.0,468.0 L236.0,466.7 L237.0,465.4 L238.0,464.1 L239.0,462.8 L240.0,461.6 L241.0,460.3 L242.0,459.0 L243.0,457.8 L244.0,456.5 L245.0,455.3 L246.0,454.1 L247.0,452.9 L248.0,451.7 L249.0,450.5 L250.0,449.3 L251.0,448.1 L252.0,446.9 L253.0,445.7 L254.0,444.5 L255.0,443.2 L256.0,442.0 L257.0,440.7 L258.0,439.5 L259.0,438.2 L260.0,436.9 L261.0,435.7 L262.0,434.4 L263.0,433.1 L264.0,431.8 L265.0,430.5 L266.0,429.2 L267.0,427.9 L268.0,426.7 L269.0,425.4 L270.0,424.2 L271.0,423.0 L272.0,421.8 L273.0,420.6 L274.0,419.5 L275.0,418.3 L276.0,417.2 L277.0,416.1 L278.0,415.0 L279.0,413.9 L280.0,412.8 L281.0,411.7 L282.0,410.7 L283.0,409.7 L284.0,408.7 L285.0,407.7 L286.0,406.9 L287.0,406.0 L288.0,405.2 L289.0,404.5 L290.0,403.7 L291.0,403.0 L292.0,402.4 L293.0,401.7 L294.0,401.0 L295.0,400.4 L296.0,399.7 L297.0,399.1 L298.0,398.4 L299.0,397.8 L300.0,397.2 L301.0,396.5 L302.0,395.9 L303.0,395.3 L304.0,394.7 L305.0,394.1 L306.0,393.4 L307.0,392.8 L308.0,392.2 L309.0,391.6 L310.0,391.0 L311.0,390.4 L312.0,389.8 L313.0,389.1 L314.0,388.5 L315.0,388.0 L316.0,387.4 L317.0,386.8 L318.0,386.2 L319.0,385.6 L320.0,385.1 L321.0,384.5 L322.0,383.9 L323.0,383.3 L324.0,382.8 L325.0,382.2 L326.0,381.6 L327.0,381.1 L328.0,380.5 L329.0,379.9 L330.0,379.4 L331.0,378.8 L332.0,378.2 L333.0,377.7 L334.0,377.1 L335.0,376.6 L336.0,376.1 L337.0,375.5 L338.0,375.0 L339.0,374.5 L340.0,374.0 L341.0,373.5 L342.0,373.0 L343.0,372.6 L344.0,372.1 L345.0,371.6 L346.0,371.1 L347.0,370.7 L348.0,370.2 L349.0,369.7 L350.0,369.2 L351.0,368.8 L352.0,368.3 L353.0,367.8 L354.0,367.4 L355.0,366.9 L356.0,366.5 L357.0,366.1 L358.0,365.6 L359.0,365.2 L360.0,364.8 L361.0,364.4 L362.0,364.0 L363.0,363.6 L364.0,363.2 L365.0,362.8 L366.0,362.4 L367.0,362.0 L368.0,361.6 L369.0,361.3 L370.0,360.9 L371.0,360.6 L372.0,360.2 L373.0,359.9 L374.0,359.6 L375.0,359.4 L376.0,359.2 L377.0,359.0 L378.0,358.8 L379.0,358.7 L380.0,358.7 L381.0,358.7 L382.0,358.7 L383.0,358.7 L384.0,358.7 L385.0,358.8 L386.0,358.9 L387.0,359.0 L388.0,359.1 L389.0,359.3 L390.0,359.6 L391.0,359.9 L392.0,360.3 L393.0,360.8 L394.0,361.3 L395.0,361.8 L396.0,362.4 L397.0,363.0 L398.0,363.6 L399.0,364.2 L400.0,364.9 L401.0,365.5 L402.0,366.2 L403.0,366.9 L404.0,367.6 L405.0,368.4 L406.0,369.2 L407.0,369.9 L408.0,370.7 L409.0,371.5 L410.0,372.3 L411.0,373.2 L412.0,374.0 L413.0,374.9 L414.0,375.7 L415.0,376.7 L416.0,377.6 L417.0,378.6 L418.0,379.6 L419.0,380.6 L420.0,381.7 L421.0,382.7 L422.0,383.8 L423.0,384.9 L424.0,386.0 L425.0,387.1 L426.0,388.1 L427.0,389.2 L428.0,390.2 L429.0,391.2 L430.0,392.2 L431.0,393.2 L432.0,394.1 L433.0,395.1 L434.0,396.0 L435.0,396.9 L436.0,397.8 L437.0,398.7 L438.0,399.6 L439.0,400.5 L440.0,401.4 L441.0,402.3 L442.0,403.2 L443.0,404.1 L444.0,405.0 L445.0,405.9 L446.0,406.8 L447.0,407.7 L448.0,408.6 L449.0,409.5 L450.0,410.4 L451.0,411.3 L452.0,412.2 L453.0,413.1 L454.0,414.0 L455.0,415.0 L456.0,415.9 L457.0,416.9 L458.0,417.9 L459.0,418.8 L460.0,419.8 L461.0,420.8 L462.0,421.8 L463.0,422.8 L464.0,423.8 L465.0,424.8 L466.0,425.8 L467.0,426.8 L468.0,427.8 L469.0,428.8 L470.0,429.8 L471.0,430.9 L472.0,431.9 L473.0,432.9 L474.0,433.9 L475.0,434.9 L476.0,435.9 L477.0,437.0 L478.0,438.0 L479.0,439.0 L480.0,440.0 L481.0,441.1 L482.0,442.1 L483.0,443.2 L484.0,444.2 L485.0,445.3 L486.0,446.3 L487.0,447.3 L488.0,448.4 L489.0,449.4 L490.0,450.5 L491.0,451.5 L492.0,452.6 L493.0,453.6 L494.0,454.6 L495.0,455.7 L496.0,456.7 L497.0,457.7 L498.0,458.7 L499.0,459.7 L500.0,460.7 L501.0,461.7 L502.0,462.7 L503.0,463.7 L504.0,464.7 L505.0,465.7 L506.0,466.6 L507.0,467.6 L508.0,468.6 L509.0,469.5 L510.0,470.4 L511.0,471.4 L512.0,472.3 L513.0,473.2 L514.0,474.1 L515.0,475.0 L516.0,475.9 L517.0,476.8 L518.0,477.7 L519.0,478.6 L520.0,479.5 L521.0,480.3 L522.0,481.2 L523.0,482.0 L524.0,482.9 L525.0,483.7 L526.0,484.5 L527.0,485.3 L528.0,486.1 L529.0,486.9 L530.0,487.7 L531.0,488.5 L532.0,489.3 L533.0,490.1 L534.0,490.8 L535.0,491.5 L536.0,492.3 L537.0,492.9 L538.0,493.6 L539.0,494.3 L540.0,494.9 L541.0,495.5 L542.0,496.1 L543.0,496.8 L544.0,497.4 L545.0,498.0 L546.0,498.5 L547.0,499.1 L548.0,499.7 L549.0,500.3 L550.0,500.8 L551.0,501.4 L552.0,501.9 L553.0,502.5 L554.0,503.0 L555.0,503.5 L556.0,504.0 L557.0,504.5 L558.0,505.0 L559.0,505.5 L560.0,506.0 L561.0,506.5 L562.0,507.1 L563.0,507.6 L564.0,508.1 L565.0,508.7 L566.0,509.2 L567.0,509.8 L568.0,510.4 L569.0,511.0 L570.0,511.6 L571.0,512.2 L572.0,512.8 L573.0,513.4 L574.0,514.0 L575.0,514.6 L576.0,515.2 L577.0,515.9 L578.0,516.5 L579.0,517.2 L580.0,517.8 L581.0,518.5 L582.0,519.2 L583.0,519.8 L584.0,520.5 L585.0,521.2 L586.0,521.9 L587.0,522.6 L588.0,523.3 L589.0,524.1 L590.0,524.8 L591.0,525.6 L592.0,526.3 L593.0,527.1 L594.0,528.0 L595.0,528.8 L596.0,529.7 L597.0,530.6 L598.0,531.4 L599.0,532.3 L600.0,533.2 L601.0,534.1 L602.0,535.0 L603.0,535.8 L604.0,536.7 L605.0,537.5 L606.0,538.3 L607.0,539.0 L608.0,539.7 L609.0,540.4 L610.0,541.1 L611.0,541.7 L612.0,542.3 L613.0,542.9 L614.0,543.5 L615.0,544.1 L616.0,544.7 L617.0,545.3 L618.0,545.9 L619.0,546.5 L620.0,547.0 L621.0,547.6 L622.0,548.1 L623.0,548.7 L624.0,549.2 L625.0,549.7 L626.0,550.2 L627.0,550.7 L628.0,551.2 L629.0,551.7 L630.0,552.2 L631.0,552.7 L632.0,553.2 L633.0,553.7 L634.0,554.2 L635.0,554.7 L636.0,555.2 L637.0,555.7 L638.0,556.2 L639.0,556.7 L640.0,557.2 L641.0,557.7 L642.0,558.2 L643.0,558.7 L644.0,559.2 L645.0,559.7 L646.0,560.1 L647.0,560.6 L648.0,561.1 L649.0,561.5 L650.0,562.0 L651.0,562.4 L652.0,562.8 L653.0,563.2 L654.0,563.6 L655.0,564.0 L656.0,564.4 L657.0,564.8 L658.0,565.2 L659.0,565.6 L660.0,566.0 L661.0,566.3 L662.0,566.7 L663.0,567.1 L664.0,567.4 L665.0,567.8 L666.0,568.1 L667.0,568.4 L668.0,568.8 L669.0,569.1 L670.0,569.4 L671.0,569.7 L672.0,570.0 L673.0,570.4 L674.0,570.7 L675.0,571.0 L676.0,571.4 L677.0,571.8 L678.0,572.1 L679.0,572.6 L680.0,573.0 L681.0,573.5 L682.0,574.1 L683.0,574.6 L684.0,575.2 L685.0,575.8 L686.0,576.4 L687.0,577.0 L688.0,577.6 L689.0,578.2 L690.0,578.7 L691.0,579.3 L692.0,579.8 L693.0,580.4 L694.0,580.9 L695.0,581.4 L696.0,581.9 L697.0,582.4 L698.0,582.9 L699.0,583.3 L700.0,583.8 L701.0,584.3 L702.0,584.7 L703.0,585.1 L704.0,585.6 L705.0,586.0 L706.0,586.4 L707.0,586.8 L708.0,587.2 L709.0,587.5 L710.0,587.9 L711.0,588.3 L712.0,588.6 L713.0,588.9 L714.0,589.2 L715.0,589.5 L716.0,589.8 L717.0,590.0 L718.0,590.3 L719.0,590.5 L720.0,590.8 L721.0,591.0 L722.0,591.3 L723.0,591.5 L724.0,591.7 L725.0,591.9 L726.0,592.1 L727.0,592.3 L728.0,592.5 L729.0,592.7 L730.0,592.9 L731.0,593.1 L732.0,593.3 L733.0,593.5 L734.0,593.6 L735.0,593.8 L736.0,593.9 L737.0,594.0 L738.0,594.2 L739.0,594.3 L740.0,594.4 L741.0,594.5 L742.0,594.6 L743.0,594.7 L744.0,594.8 L745.0,594.9 L746.0,595.0 L747.0,595.1 L748.0,595.2 L749.0,595.3 L750.0,595.4 L751.0,595.5 L752.0,595.6 L753.0,595.7 L754.0,595.8 L755.0,595.9 L756.0,596.0 L757.0,596.1 L758.0,596.2 L759.0,596.3 L760.0,596.4 L761.0,596.5 L762.0,596.6 L763.0,596.7 L764.0,596.8 L765.0,596.9 L766.0,597.0 L767.0,597.1 L768.0,597.2 L769.0,597.3 L770.0,597.4 L771.0,597.5 L772.0,597.6 L773.0,597.7 L774.0,597.8 L775.0,597.9 L776.0,598.0 L777.0,598.1 L778.0,598.2 L779.0,598.3 L780.0,598.5 L781.0,598.6 L782.0,598.7 L783.0,598.9 L784.0,599.0 L785.0,599.2 L786.0,599.3 L787.0,599.5 L788.0,599.6 L789.0,599.7 L790.0,599.9 L791.0,600.0 L792.0,600.1 L793.0,600.2 L794.0,600.3 L795.0,600.4 L796.0,600.5 L797.0,600.6 L798.0,600.7 L799.0,600.8 L800.0,600.9 L801.0,601.0 L802.0,601.1 L803.0,601.1 L804.0,601.2 L805.0,601.3 L806.0,601.3 L807.0,601.4 L808.0,601.5 L809.0,601.5 L810.0,601.6 L811.0,601.6 L812.0,601.7 L813.0,601.8 L814.0,601.8 L815.0,601.9 L816.0,601.9 L817.0,602.0 L818.0,602.0 L819.0,602.1 L820.0,602.2 L821.0,602.2 L822.0,602.3 L823.0,602.3 L824.0,602.4 L825.0,602.5 L826.0,602.5 L827.0,602.6 L828.0,602.6 L829.0,602.7 L830.0,602.7 L831.0,602.8" fill="none" stroke="#3e6eb8" stroke-width="4.2" stroke-linejoin="round" stroke-linecap="round" clip-path="url(#clipa)"/>
<path d="M97.0,608.7 L98.0,608.4 L99.0,608.2 L100.0,607.9 L101.0,607.6 L102.0,607.4 L103.0,607.1 L104.0,606.8 L105.0,606.5 L106.0,606.3 L107.0,606.0 L108.0,605.7 L109.0,605.4 L110.0,605.1 L111.0,604.7 L112.0,604.4 L113.0,603.9 L114.0,603.4 L115.0,602.9 L116.0,602.3 L117.0,601.7 L118.0,601.1 L119.0,600.4 L120.0,599.7 L121.0,599.0 L122.0,598.3 L123.0,597.6 L124.0,596.8 L125.0,596.0 L126.0,595.3 L127.0,594.4 L128.0,593.6 L129.0,592.7 L130.0,591.9 L131.0,591.0 L132.0,590.0 L133.0,589.1 L134.0,588.2 L135.0,587.2 L136.0,586.2 L137.0,585.2 L138.0,584.2 L139.0,583.1 L140.0,581.9 L141.0,580.8 L142.0,579.5 L143.0,578.2 L144.0,576.9 L145.0,575.6 L146.0,574.2 L147.0,572.9 L148.0,571.5 L149.0,570.1 L150.0,568.7 L151.0,567.3 L152.0,565.9 L153.0,564.4 L154.0,563.0 L155.0,561.5 L156.0,560.0 L157.0,558.4 L158.0,556.9 L159.0,555.3 L160.0,553.7 L161.0,552.1 L162.0,550.5 L163.0,548.9 L164.0,547.3 L165.0,545.7 L166.0,544.1 L167.0,542.4 L168.0,540.8 L169.0,539.1 L170.0,537.5 L171.0,535.8 L172.0,534.2 L173.0,532.5 L174.0,530.8 L175.0,529.1 L176.0,527.4 L177.0,525.7 L178.0,524.0 L179.0,522.3 L180.0,520.6 L181.0,518.9 L182.0,517.2 L183.0,515.5 L184.0,513.7 L185.0,512.0 L186.0,510.2 L187.0,508.4 L188.0,506.6 L189.0,504.8 L190.0,503.0 L191.0,501.2 L192.0,499.4 L193.0,497.6 L194.0,495.8 L195.0,494.0 L196.0,492.2 L197.0,490.4 L198.0,488.6 L199.0,486.8 L200.0,485.0 L201.0,483.2 L202.0,481.4 L203.0,479.6 L204.0,477.8 L205.0,476.0 L206.0,474.2 L207.0,472.4 L208.0,470.6 L209.0,468.8 L210.0,467.0 L211.0,465.2 L212.0,463.4 L213.0,461.6 L214.0,459.8 L215.0,458.0 L216.0,456.2 L217.0,454.4 L218.0,452.6 L219.0,450.8 L220.0,449.0 L221.0,447.2 L222.0,445.4 L223.0,443.6 L224.0,441.9 L225.0,440.1 L226.0,438.4 L227.0,436.6 L228.0,434.9 L229.0,433.3 L230.0,431.6 L231.0,430.0 L232.0,428.3 L233.0,426.7 L234.0,425.1 L235.0,423.5 L236.0,421.9 L237.0,420.3 L238.0,418.7 L239.0,417.1 L240.0,415.5 L241.0,414.0 L242.0,412.4 L243.0,410.9 L244.0,409.3 L245.0,407.8 L246.0,406.3 L247.0,404.8 L248.0,403.3 L249.0,401.8 L250.0,400.3 L251.0,398.8 L252.0,397.4 L253.0,395.9 L254.0,394.5 L255.0,393.1 L256.0,391.8 L257.0,390.5 L258.0,389.3 L259.0,388.1 L260.0,386.9 L261.0,385.7 L262.0,384.6 L263.0,383.5 L264.0,382.4 L265.0,381.3 L266.0,380.2 L267.0,379.1 L268.0,378.1 L269.0,377.1 L270.0,376.1 L271.0,375.1 L272.0,374.2 L273.0,373.2 L274.0,372.4 L275.0,371.5 L276.0,370.7 L277.0,369.9 L278.0,369.0 L279.0,368.2 L280.0,367.4 L281.0,366.7 L282.0,365.9 L283.0,365.1 L284.0,364.4 L285.0,363.7 L286.0,363.0 L287.0,362.4 L288.0,361.8 L289.0,361.2 L290.0,360.7 L291.0,360.2 L292.0,359.7 L293.0,359.3 L294.0,358.9 L295.0,358.5 L296.0,358.2 L297.0,357.9 L298.0,357.7 L299.0,357.5 L300.0,357.4 L301.0,357.2 L302.0,357.1 L303.0,357.1 L304.0,357.0 L305.0,357.0 L306.0,357.0 L307.0,357.0 L308.0,357.0 L309.0,357.0 L310.0,357.1 L311.0,357.1 L312.0,357.1 L313.0,357.2 L314.0,357.2 L315.0,357.3 L316.0,357.3 L317.0,357.4 L318.0,357.5 L319.0,357.5 L320.0,357.6 L321.0,357.7 L322.0,357.8 L323.0,357.8 L324.0,357.9 L325.0,358.0 L326.0,358.1 L327.0,358.3 L328.0,358.4 L329.0,358.6 L330.0,358.7 L331.0,358.9 L332.0,359.1 L333.0,359.4 L334.0,359.6 L335.0,359.9 L336.0,360.2 L337.0,360.5 L338.0,360.7 L339.0,361.0 L340.0,361.3 L341.0,361.6 L342.0,361.9 L343.0,362.3 L344.0,362.6 L345.0,362.9 L346.0,363.3 L347.0,363.6 L348.0,364.0 L349.0,364.4 L350.0,364.7 L351.0,365.1 L352.0,365.5 L353.0,365.8 L354.0,366.2 L355.0,366.6 L356.0,367.0 L357.0,367.4 L358.0,367.9 L359.0,368.3 L360.0,368.7 L361.0,369.2 L362.0,369.6 L363.0,370.0 L364.0,370.5 L365.0,371.0 L366.0,371.4 L367.0,371.9 L368.0,372.4 L369.0,372.9 L370.0,373.4 L371.0,374.0 L372.0,374.5 L373.0,375.1 L374.0,375.7 L375.0,376.3 L376.0,376.9 L377.0,377.5 L378.0,378.1 L379.0,378.7 L380.0,379.3 L381.0,379.9 L382.0,380.6 L383.0,381.2 L384.0,381.9 L385.0,382.6 L386.0,383.3 L387.0,383.9 L388.0,384.6 L389.0,385.3 L390.0,386.1 L391.0,386.8 L392.0,387.5 L393.0,388.3 L394.0,389.0 L395.0,389.8 L396.0,390.6 L397.0,391.5 L398.0,392.3 L399.0,393.2 L400.0,394.1 L401.0,395.1 L402.0,396.0 L403.0,396.9 L404.0,397.9 L405.0,398.8 L406.0,399.8 L407.0,400.8 L408.0,401.7 L409.0,402.7 L410.0,403.7 L411.0,404.7 L412.0,405.8 L413.0,406.8 L414.0,407.8 L415.0,408.9 L416.0,409.9 L417.0,411.0 L418.0,412.0 L419.0,413.1 L420.0,414.1 L421.0,415.2 L422.0,416.3 L423.0,417.3 L424.0,418.4 L425.0,419.5 L426.0,420.6 L427.0,421.7 L428.0,422.8 L429.0,423.9 L430.0,425.0 L431.0,426.1 L432.0,427.2 L433.0,428.3 L434.0,429.3 L435.0,430.4 L436.0,431.5 L437.0,432.5 L438.0,433.5 L439.0,434.5 L440.0,435.5 L441.0,436.5 L442.0,437.5 L443.0,438.5 L444.0,439.5 L445.0,440.5 L446.0,441.5 L447.0,442.4 L448.0,443.4 L449.0,444.3 L450.0,445.3 L451.0,446.2 L452.0,447.1 L453.0,448.0 L454.0,448.9 L455.0,449.8 L456.0,450.7 L457.0,451.6 L458.0,452.4 L459.0,453.3 L460.0,454.1 L461.0,455.0 L462.0,455.8 L463.0,456.6 L464.0,457.3 L465.0,458.1 L466.0,458.9 L467.0,459.6 L468.0,460.3 L469.0,461.1 L470.0,461.8 L471.0,462.5 L472.0,463.2 L473.0,463.9 L474.0,464.7 L475.0,465.4 L476.0,466.1 L477.0,466.8 L478.0,467.6 L479.0,468.3 L480.0,469.0 L481.0,469.8 L482.0,470.5 L483.0,471.3 L484.0,472.0 L485.0,472.8 L486.0,473.5 L487.0,474.3 L488.0,475.0 L489.0,475.8 L490.0,476.5 L491.0,477.3 L492.0,478.0 L493.0,478.8 L494.0,479.5 L495.0,480.3 L496.0,481.0 L497.0,481.8 L498.0,482.5 L499.0,483.2 L500.0,484.0 L501.0,484.7 L502.0,485.5 L503.0,486.2 L504.0,487.0 L505.0,487.7 L506.0,488.5 L507.0,489.2 L508.0,490.0 L509.0,490.7 L510.0,491.4 L511.0,492.1 L512.0,492.8 L513.0,493.6 L514.0,494.3 L515.0,495.0 L516.0,495.7 L517.0,496.4 L518.0,497.1 L519.0,497.9 L520.0,498.6 L521.0,499.3 L522.0,500.0 L523.0,500.7 L524.0,501.4 L525.0,502.1 L526.0,502.9 L527.0,503.6 L528.0,504.3 L529.0,505.0 L530.0,505.7 L531.0,506.4 L532.0,507.1 L533.0,507.9 L534.0,508.6 L535.0,509.3 L536.0,510.0 L537.0,510.7 L538.0,511.4 L539.0,512.1 L540.0,512.8 L541.0,513.5 L542.0,514.2 L543.0,514.9 L544.0,515.6 L545.0,516.3 L546.0,517.1 L547.0,517.8 L548.0,518.5 L549.0,519.2 L550.0,519.9 L551.0,520.6 L552.0,521.4 L553.0,522.1 L554.0,522.9 L555.0,523.6 L556.0,524.4 L557.0,525.1 L558.0,525.8 L559.0,526.6 L560.0,527.3 L561.0,528.1 L562.0,528.8 L563.0,529.5 L564.0,530.2 L565.0,530.8 L566.0,531.5 L567.0,532.1 L568.0,532.8 L569.0,533.4 L570.0,534.0 L571.0,534.6 L572.0,535.2 L573.0,535.8 L574.0,536.4 L575.0,537.0 L576.0,537.5 L577.0,538.1 L578.0,538.6 L579.0,539.1 L580.0,539.6 L581.0,540.0 L582.0,540.5 L583.0,540.9 L584.0,541.3 L585.0,541.7 L586.0,542.1 L587.0,542.5 L588.0,542.9 L589.0,543.3 L590.0,543.6 L591.0,544.0 L592.0,544.4 L593.0,544.7 L594.0,545.0 L595.0,545.4 L596.0,545.7 L597.0,546.0 L598.0,546.3 L599.0,546.6 L600.0,546.9 L601.0,547.2 L602.0,547.5 L603.0,547.8 L604.0,548.1 L605.0,548.4 L606.0,548.7 L607.0,549.0 L608.0,549.3 L609.0,549.6 L610.0,549.9 L611.0,550.2 L612.0,550.5 L613.0,550.8 L614.0,551.1 L615.0,551.4 L616.0,551.7 L617.0,552.0 L618.0,552.3 L619.0,552.6 L620.0,552.9 L621.0,553.2 L622.0,553.5 L623.0,553.8 L624.0,554.1 L625.0,554.4 L626.0,554.7 L627.0,555.0 L628.0,555.3 L629.0,555.6 L630.0,555.9 L631.0,556.2 L632.0,556.5 L633.0,556.9 L634.0,557.2 L635.0,557.6 L636.0,557.9 L637.0,558.3 L638.0,558.7 L639.0,559.1 L640.0,559.4 L641.0,559.8 L642.0,560.2 L643.0,560.6 L644.0,561.0 L645.0,561.4 L646.0,561.8 L647.0,562.2 L648.0,562.6 L649.0,563.0 L650.0,563.4 L651.0,563.8 L652.0,564.2 L653.0,564.6 L654.0,565.0 L655.0,565.4 L656.0,565.8 L657.0,566.2 L658.0,566.7 L659.0,567.1 L660.0,567.5 L661.0,568.0 L662.0,568.5 L663.0,569.0 L664.0,569.6 L665.0,570.1 L666.0,570.7 L667.0,571.4 L668.0,572.0 L669.0,572.6 L670.0,573.3 L671.0,573.9 L672.0,574.5 L673.0,575.2 L674.0,575.8 L675.0,576.4 L676.0,577.0 L677.0,577.5 L678.0,578.0 L679.0,578.5 L680.0,578.9 L681.0,579.3 L682.0,579.7 L683.0,580.0 L684.0,580.4 L685.0,580.7 L686.0,581.0 L687.0,581.4 L688.0,581.7 L689.0,582.0 L690.0,582.4 L691.0,582.7 L692.0,583.1 L693.0,583.5 L694.0,583.9 L695.0,584.3 L696.0,584.7 L697.0,585.0 L698.0,585.4 L699.0,585.8 L700.0,586.2 L701.0,586.5 L702.0,586.9 L703.0,587.2 L704.0,587.5 L705.0,587.8 L706.0,588.1 L707.0,588.4 L708.0,588.7 L709.0,589.0 L710.0,589.3 L711.0,589.6 L712.0,589.8 L713.0,590.1 L714.0,590.4 L715.0,590.6 L716.0,590.9 L717.0,591.1 L718.0,591.4 L719.0,591.6 L720.0,591.9 L721.0,592.1 L722.0,592.4 L723.0,592.6 L724.0,592.8 L725.0,593.0 L726.0,593.3 L727.0,593.5 L728.0,593.7 L729.0,593.9 L730.0,594.1 L731.0,594.3 L732.0,594.5 L733.0,594.7 L734.0,594.8 L735.0,595.0 L736.0,595.2 L737.0,595.3 L738.0,595.5 L739.0,595.6 L740.0,595.8 L741.0,595.9 L742.0,596.1 L743.0,596.2 L744.0,596.3 L745.0,596.5 L746.0,596.6 L747.0,596.7 L748.0,596.8 L749.0,597.0 L750.0,597.1 L751.0,597.2 L752.0,597.3 L753.0,597.4 L754.0,597.5 L755.0,597.6 L756.0,597.7 L757.0,597.8 L758.0,597.9 L759.0,598.0 L760.0,598.1 L761.0,598.2 L762.0,598.3 L763.0,598.4 L764.0,598.5 L765.0,598.6 L766.0,598.7 L767.0,598.8 L768.0,598.8 L769.0,598.9 L770.0,599.0 L771.0,599.0 L772.0,599.1 L773.0,599.1 L774.0,599.2 L775.0,599.2 L776.0,599.3 L777.0,599.3 L778.0,599.4 L779.0,599.4 L780.0,599.5 L781.0,599.5 L782.0,599.6 L783.0,599.6 L784.0,599.7 L785.0,599.7 L786.0,599.8 L787.0,599.8 L788.0,599.9 L789.0,599.9 L790.0,599.9 L791.0,600.0 L792.0,600.0 L793.0,600.0 L794.0,600.1 L795.0,600.1 L796.0,600.1 L797.0,600.1 L798.0,600.1 L799.0,600.2 L800.0,600.2 L801.0,600.2 L802.0,600.2 L803.0,600.2 L804.0,600.3 L805.0,600.3 L806.0,600.3 L807.0,600.3 L808.0,600.4 L809.0,600.4 L810.0,600.4 L811.0,600.4 L812.0,600.4 L813.0,600.5 L814.0,600.5 L815.0,600.5 L816.0,600.5 L817.0,600.6 L818.0,600.6 L819.0,600.6 L820.0,600.6 L821.0,600.7 L822.0,600.7 L823.0,600.7 L824.0,600.7 L825.0,600.8 L826.0,600.8 L827.0,600.8 L828.0,600.8 L829.0,600.9 L830.0,600.9 L831.0,600.9" fill="none" stroke="#e9822f" stroke-width="4.2" stroke-linejoin="round" stroke-linecap="round" clip-path="url(#clipa)"/>
<path d="M97.0,608.5 L98.0,608.1 L99.0,607.7 L100.0,607.3 L101.0,606.9 L102.0,606.5 L103.0,606.1 L104.0,605.7 L105.0,605.2 L106.0,604.8 L107.0,604.4 L108.0,603.9 L109.0,603.4 L110.0,602.9 L111.0,602.4 L112.0,601.8 L113.0,601.3 L114.0,600.7 L115.0,600.0 L116.0,599.4 L117.0,598.8 L118.0,598.2 L119.0,597.5 L120.0,596.9 L121.0,596.2 L122.0,595.5 L123.0,594.8 L124.0,594.1 L125.0,593.4 L126.0,592.7 L127.0,591.9 L128.0,591.2 L129.0,590.4 L130.0,589.7 L131.0,588.9 L132.0,588.0 L133.0,587.1 L134.0,586.1 L135.0,584.9 L136.0,583.6 L137.0,582.2 L138.0,580.6 L139.0,578.8 L140.0,577.0 L141.0,575.2 L142.0,573.3 L143.0,571.6 L144.0,569.9 L145.0,568.2 L146.0,566.6 L147.0,565.1 L148.0,563.6 L149.0,562.1 L150.0,560.6 L151.0,559.1 L152.0,557.6 L153.0,556.1 L154.0,554.6 L155.0,553.1 L156.0,551.6 L157.0,550.1 L158.0,548.6 L159.0,547.1 L160.0,545.5 L161.0,544.0 L162.0,542.5 L163.0,541.0 L164.0,539.5 L165.0,537.9 L166.0,536.4 L167.0,534.8 L168.0,533.2 L169.0,531.6 L170.0,529.9 L171.0,528.2 L172.0,526.5 L173.0,524.7 L174.0,523.0 L175.0,521.2 L176.0,519.4 L177.0,517.6 L178.0,515.8 L179.0,514.0 L180.0,512.2 L181.0,510.4 L182.0,508.6 L183.0,506.8 L184.0,504.9 L185.0,503.1 L186.0,501.2 L187.0,499.3 L188.0,497.5 L189.0,495.6 L190.0,493.7 L191.0,491.8 L192.0,489.9 L193.0,488.0 L194.0,486.1 L195.0,484.2 L196.0,482.3 L197.0,480.4 L198.0,478.5 L199.0,476.6 L200.0,474.7 L201.0,472.8 L202.0,470.9 L203.0,469.0 L204.0,467.1 L205.0,465.2 L206.0,463.3 L207.0,461.4 L208.0,459.5 L209.0,457.6 L210.0,455.7 L211.0,453.7 L212.0,451.8 L213.0,449.9 L214.0,448.0 L215.0,446.1 L216.0,444.2 L217.0,442.3 L218.0,440.4 L219.0,438.5 L220.0,436.6 L221.0,434.7 L222.0,432.9 L223.0,431.0 L224.0,429.1 L225.0,427.2 L226.0,425.3 L227.0,423.5 L228.0,421.6 L229.0,419.8 L230.0,417.9 L231.0,416.1 L232.0,414.3 L233.0,412.5 L234.0,410.7 L235.0,408.9 L236.0,407.1 L237.0,405.3 L238.0,403.6 L239.0,401.8 L240.0,400.2 L241.0,398.5 L242.0,397.0 L243.0,395.4 L244.0,394.0 L245.0,392.6 L246.0,391.2 L247.0,389.9 L248.0,388.5 L249.0,387.2 L250.0,385.9 L251.0,384.7 L252.0,383.4 L253.0,382.1 L254.0,380.9 L255.0,379.7 L256.0,378.6 L257.0,377.5 L258.0,376.5 L259.0,375.4 L260.0,374.5 L261.0,373.5 L262.0,372.6 L263.0,371.7 L264.0,370.8 L265.0,369.9 L266.0,369.0 L267.0,368.1 L268.0,367.3 L269.0,366.4 L270.0,365.6 L271.0,364.8 L272.0,364.0 L273.0,363.3 L274.0,362.5 L275.0,361.8 L276.0,361.1 L277.0,360.4 L278.0,359.7 L279.0,359.1 L280.0,358.4 L281.0,357.8 L282.0,357.1 L283.0,356.5 L284.0,355.9 L285.0,355.3 L286.0,354.7 L287.0,354.2 L288.0,353.7 L289.0,353.2 L290.0,352.7 L291.0,352.3 L292.0,351.8 L293.0,351.4 L294.0,351.0 L295.0,350.6 L296.0,350.3 L297.0,350.0 L298.0,349.7 L299.0,349.6 L300.0,349.4 L301.0,349.3 L302.0,349.3 L303.0,349.3 L304.0,349.3 L305.0,349.3 L306.0,349.4 L307.0,349.5 L308.0,349.6 L309.0,349.8 L310.0,350.0 L311.0,350.2 L312.0,350.5 L313.0,350.9 L314.0,351.3 L315.0,351.6 L316.0,352.1 L317.0,352.5 L318.0,352.9 L319.0,353.4 L320.0,353.8 L321.0,354.3 L322.0,354.8 L323.0,355.3 L324.0,355.9 L325.0,356.5 L326.0,357.1 L327.0,357.7 L328.0,358.3 L329.0,359.0 L330.0,359.6 L331.0,360.2 L332.0,360.9 L333.0,361.5 L334.0,362.1 L335.0,362.7 L336.0,363.3 L337.0,363.9 L338.0,364.4 L339.0,365.0 L340.0,365.5 L341.0,366.0 L342.0,366.5 L343.0,367.0 L344.0,367.5 L345.0,368.0 L346.0,368.5 L347.0,369.0 L348.0,369.4 L349.0,369.9 L350.0,370.3 L351.0,370.8 L352.0,371.2 L353.0,371.6 L354.0,372.1 L355.0,372.5 L356.0,372.9 L357.0,373.3 L358.0,373.7 L359.0,374.1 L360.0,374.5 L361.0,374.9 L362.0,375.4 L363.0,375.8 L364.0,376.3 L365.0,376.8 L366.0,377.2 L367.0,377.7 L368.0,378.2 L369.0,378.7 L370.0,379.2 L371.0,379.7 L372.0,380.2 L373.0,380.7 L374.0,381.3 L375.0,381.8 L376.0,382.3 L377.0,382.9 L378.0,383.5 L379.0,384.0 L380.0,384.6 L381.0,385.2 L382.0,385.8 L383.0,386.4 L384.0,387.0 L385.0,387.6 L386.0,388.2 L387.0,388.8 L388.0,389.4 L389.0,390.0 L390.0,390.6 L391.0,391.2 L392.0,391.8 L393.0,392.4 L394.0,393.0 L395.0,393.6 L396.0,394.2 L397.0,394.8 L398.0,395.4 L399.0,396.1 L400.0,396.7 L401.0,397.4 L402.0,398.0 L403.0,398.7 L404.0,399.5 L405.0,400.2 L406.0,401.0 L407.0,401.7 L408.0,402.5 L409.0,403.3 L410.0,404.1 L411.0,404.9 L412.0,405.7 L413.0,406.5 L414.0,407.3 L415.0,408.1 L416.0,408.9 L417.0,409.7 L418.0,410.5 L419.0,411.3 L420.0,412.1 L421.0,412.9 L422.0,413.7 L423.0,414.5 L424.0,415.3 L425.0,416.1 L426.0,416.9 L427.0,417.8 L428.0,418.6 L429.0,419.4 L430.0,420.3 L431.0,421.2 L432.0,422.0 L433.0,422.9 L434.0,423.8 L435.0,424.7 L436.0,425.6 L437.0,426.5 L438.0,427.4 L439.0,428.3 L440.0,429.3 L441.0,430.2 L442.0,431.1 L443.0,432.1 L444.0,433.0 L445.0,434.0 L446.0,435.0 L447.0,436.0 L448.0,437.0 L449.0,438.0 L450.0,438.9 L451.0,439.9 L452.0,440.9 L453.0,441.9 L454.0,442.9 L455.0,443.9 L456.0,444.9 L457.0,445.9 L458.0,446.9 L459.0,447.9 L460.0,448.9 L461.0,449.9 L462.0,450.9 L463.0,452.0 L464.0,453.0 L465.0,454.0 L466.0,455.0 L467.0,456.0 L468.0,457.0 L469.0,458.0 L470.0,459.0 L471.0,460.0 L472.0,461.0 L473.0,462.0 L474.0,463.0 L475.0,464.0 L476.0,465.0 L477.0,466.0 L478.0,467.0 L479.0,468.0 L480.0,469.0 L481.0,470.0 L482.0,471.0 L483.0,472.0 L484.0,473.0 L485.0,473.9 L486.0,474.9 L487.0,475.9 L488.0,476.9 L489.0,477.9 L490.0,478.8 L491.0,479.7 L492.0,480.7 L493.0,481.5 L494.0,482.4 L495.0,483.2 L496.0,484.0 L497.0,484.8 L498.0,485.5 L499.0,486.2 L500.0,487.0 L501.0,487.7 L502.0,488.4 L503.0,489.1 L504.0,489.8 L505.0,490.5 L506.0,491.2 L507.0,491.9 L508.0,492.7 L509.0,493.4 L510.0,494.2 L511.0,495.0 L512.0,495.8 L513.0,496.6 L514.0,497.4 L515.0,498.2 L516.0,499.0 L517.0,499.8 L518.0,500.6 L519.0,501.3 L520.0,502.1 L521.0,502.8 L522.0,503.5 L523.0,504.2 L524.0,504.9 L525.0,505.6 L526.0,506.2 L527.0,506.8 L528.0,507.4 L529.0,508.0 L530.0,508.6 L531.0,509.2 L532.0,509.8 L533.0,510.4 L534.0,511.0 L535.0,511.6 L536.0,512.2 L537.0,512.8 L538.0,513.4 L539.0,514.0 L540.0,514.6 L541.0,515.2 L542.0,515.8 L543.0,516.4 L544.0,517.0 L545.0,517.6 L546.0,518.2 L547.0,518.9 L548.0,519.5 L549.0,520.2 L550.0,520.8 L551.0,521.5 L552.0,522.3 L553.0,523.0 L554.0,523.8 L555.0,524.6 L556.0,525.4 L557.0,526.1 L558.0,526.9 L559.0,527.7 L560.0,528.5 L561.0,529.3 L562.0,530.1 L563.0,530.9 L564.0,531.7 L565.0,532.6 L566.0,533.4 L567.0,534.2 L568.0,535.0 L569.0,535.8 L570.0,536.6 L571.0,537.4 L572.0,538.2 L573.0,539.0 L574.0,539.8 L575.0,540.6 L576.0,541.4 L577.0,542.1 L578.0,542.9 L579.0,543.6 L580.0,544.4 L581.0,545.1 L582.0,545.8 L583.0,546.5 L584.0,547.2 L585.0,547.9 L586.0,548.6 L587.0,549.3 L588.0,550.0 L589.0,550.6 L590.0,551.3 L591.0,551.9 L592.0,552.5 L593.0,553.1 L594.0,553.7 L595.0,554.3 L596.0,554.8 L597.0,555.3 L598.0,555.8 L599.0,556.3 L600.0,556.8 L601.0,557.3 L602.0,557.8 L603.0,558.3 L604.0,558.8 L605.0,559.3 L606.0,559.7 L607.0,560.2 L608.0,560.6 L609.0,561.0 L610.0,561.4 L611.0,561.9 L612.0,562.3 L613.0,562.7 L614.0,563.1 L615.0,563.5 L616.0,563.9 L617.0,564.3 L618.0,564.6 L619.0,565.0 L620.0,565.4 L621.0,565.8 L622.0,566.2 L623.0,566.6 L624.0,567.0 L625.0,567.4 L626.0,567.8 L627.0,568.2 L628.0,568.6 L629.0,569.0 L630.0,569.4 L631.0,569.8 L632.0,570.2 L633.0,570.6 L634.0,571.0 L635.0,571.4 L636.0,571.8 L637.0,572.2 L638.0,572.6 L639.0,573.0 L640.0,573.4 L641.0,573.8 L642.0,574.2 L643.0,574.6 L644.0,575.0 L645.0,575.4 L646.0,575.8 L647.0,576.2 L648.0,576.6 L649.0,577.0 L650.0,577.4 L651.0,577.9 L652.0,578.3 L653.0,578.7 L654.0,579.1 L655.0,579.5 L656.0,579.9 L657.0,580.3 L658.0,580.7 L659.0,581.1 L660.0,581.5 L661.0,581.8 L662.0,582.2 L663.0,582.6 L664.0,582.9 L665.0,583.3 L666.0,583.6 L667.0,584.0 L668.0,584.3 L669.0,584.6 L670.0,585.0 L671.0,585.3 L672.0,585.6 L673.0,585.9 L674.0,586.3 L675.0,586.6 L676.0,586.9 L677.0,587.3 L678.0,587.6 L679.0,587.9 L680.0,588.3 L681.0,588.6 L682.0,589.0 L683.0,589.3 L684.0,589.6 L685.0,590.0 L686.0,590.3 L687.0,590.6 L688.0,591.0 L689.0,591.3 L690.0,591.6 L691.0,591.9 L692.0,592.2 L693.0,592.4 L694.0,592.7 L695.0,592.9 L696.0,593.2 L697.0,593.4 L698.0,593.7 L699.0,593.9 L700.0,594.2 L701.0,594.5 L702.0,594.7 L703.0,594.9 L704.0,595.2 L705.0,595.4 L706.0,595.7 L707.0,595.9 L708.0,596.2 L709.0,596.4 L710.0,596.6 L711.0,596.9 L712.0,597.1 L713.0,597.3 L714.0,597.4 L715.0,597.6 L716.0,597.8 L717.0,597.9 L718.0,598.1 L719.0,598.3 L720.0,598.4 L721.0,598.6 L722.0,598.7 L723.0,598.9 L724.0,599.0 L725.0,599.2 L726.0,599.3 L727.0,599.5 L728.0,599.6 L729.0,599.8 L730.0,599.9 L731.0,600.1 L732.0,600.2 L733.0,600.3 L734.0,600.5 L735.0,600.6 L736.0,600.7 L737.0,600.8 L738.0,600.9 L739.0,601.0 L740.0,601.1 L741.0,601.2 L742.0,601.3 L743.0,601.4 L744.0,601.5 L745.0,601.6 L746.0,601.7 L747.0,601.7 L748.0,601.8 L749.0,601.8 L750.0,601.9 L751.0,601.9 L752.0,602.0 L753.0,602.0 L754.0,602.1 L755.0,602.1 L756.0,602.2 L757.0,602.2 L758.0,602.3 L759.0,602.3 L760.0,602.4 L761.0,602.4 L762.0,602.5 L763.0,602.5 L764.0,602.6 L765.0,602.6 L766.0,602.7 L767.0,602.7 L768.0,602.8 L769.0,602.9 L770.0,602.9 L771.0,603.0 L772.0,603.0 L773.0,603.1 L774.0,603.1 L775.0,603.2 L776.0,603.2 L777.0,603.3 L778.0,603.3 L779.0,603.3 L780.0,603.4 L781.0,603.4 L782.0,603.4 L783.0,603.5 L784.0,603.5 L785.0,603.5 L786.0,603.5 L787.0,603.5 L788.0,603.6 L789.0,603.6 L790.0,603.6 L791.0,603.6 L792.0,603.6 L793.0,603.6 L794.0,603.7 L795.0,603.7 L796.0,603.7 L797.0,603.7 L798.0,603.7 L799.0,603.8 L800.0,603.8 L801.0,603.8 L802.0,603.8 L803.0,603.8 L804.0,603.8 L805.0,603.8 L806.0,603.9 L807.0,603.9 L808.0,603.9 L809.0,603.9 L810.0,603.9 L811.0,603.9 L812.0,603.9 L813.0,604.0 L814.0,604.0 L815.0,604.0 L816.0,604.0 L817.0,604.0 L818.0,604.0 L819.0,604.0 L820.0,604.1 L821.0,604.1 L822.0,604.1 L823.0,604.1 L824.0,604.1 L825.0,604.1 L826.0,604.1 L827.0,604.1 L828.0,604.2 L829.0,604.2 L830.0,604.2 L831.0,604.2" fill="none" stroke="#7b2f95" stroke-width="4.2" stroke-linejoin="round" stroke-linecap="round" clip-path="url(#clipa)"/>
<path d="M97.4,73.2 H830.7" fill="none" stroke="#262626" stroke-width="2"/>
<path d="M830.7,72.2 V609.5" fill="none" stroke="#111" stroke-width="2.1"/>
<path d="M97.4,72.2 V609.5" fill="none" stroke="#000" stroke-width="2.4"/>
<path d="M96.2,609.5 H831.9000000000001" fill="none" stroke="#000" stroke-width="3"/>
<text x="97.4" y="656.8" font-size="31" fill="#404040" text-anchor="middle" >0</text>
<text x="230.7" y="656.8" font-size="31" fill="#404040" text-anchor="middle" >1</text>
<text x="364.1" y="656.8" font-size="31" fill="#404040" text-anchor="middle" >2</text>
<text x="497.4" y="656.8" font-size="31" fill="#404040" text-anchor="middle" >3</text>
<text x="630.7" y="656.8" font-size="31" fill="#404040" text-anchor="middle" >4</text>
<text x="764.0" y="656.8" font-size="31" fill="#404040" text-anchor="middle" >5</text>
<text x="82.7" y="622.7" font-size="31" fill="#000" text-anchor="end" >0</text>
<text x="82.7" y="469.5" font-size="31" fill="#000" text-anchor="end" >10</text>
<text x="82.7" y="316.2" font-size="31" fill="#000" text-anchor="end" >20</text>
<text x="82.7" y="163.0" font-size="31" fill="#000" text-anchor="end" >30</text>
<text x="844.7" y="622.7" font-size="31" fill="#000" text-anchor="start" >0</text>
<text x="844.7" y="469.5" font-size="31" fill="#000" text-anchor="start" >0.25</text>
<text x="844.7" y="316.2" font-size="31" fill="#000" text-anchor="start" >0.5</text>
<text x="844.7" y="163.0" font-size="31" fill="#000" text-anchor="start" >0.75</text>
<text x="29.5" y="343.4" font-size="38" fill="#000" text-anchor="middle" transform="rotate(-90 29.5 343.4)">Number of gymnosperm sites</text>
<text x="959.0" y="342.3" font-size="38" fill="#000" text-anchor="middle" transform="rotate(-90 959 342.3)">Kernel density</text>
<text x="463.0" y="707.5" font-size="38" fill="#404040" text-anchor="middle" >ln(Rt+1)</text>
<text x="3.5" y="29.8" font-size="37" fill="#000" text-anchor="start" font-weight="bold" >a</text>
<text x="78.0" y="33.0" font-size="38.3" fill="#000" text-anchor="start" >Temporal change of gymnosperm resistance</text>
<circle cx="596.8" cy="123.6" r="8.9" fill="#a0a0a0"/>
<text x="634.0" y="135.5" font-size="31" fill="#000" text-anchor="start" >Before 1950</text>
<circle cx="596.8" cy="166.3" r="8.9" fill="#4674bf"/>
<text x="634.0" y="178.2" font-size="31" fill="#000" text-anchor="start" >1950-1969</text>
<circle cx="596.8" cy="209.0" r="8.9" fill="#eb8434"/>
<text x="634.0" y="220.9" font-size="31" fill="#000" text-anchor="start" >1970-1989</text>
<circle cx="596.8" cy="251.7" r="8.9" fill="#7d3a9e"/>
<text x="634.0" y="263.6" font-size="31" fill="#000" text-anchor="start" >1990-2009</text>
<rect x="232.7" y="80.6" width="290.8" height="121.9" fill="#fff" stroke="#454545" stroke-width="2"/>
<text x="232.7" y="240.9" font-size="23" fill="#404040" text-anchor="middle" >-2</text>
<text x="378.1" y="240.9" font-size="23" fill="#404040" text-anchor="middle" >0</text>
<text x="523.5" y="240.9" font-size="23" fill="#404040" text-anchor="middle" >2</text>
<path d="M232.7,80.6 v5 M232.7,202.5 v-5 M378.1,80.6 v5 M378.1,202.5 v-5 M523.5,80.6 v5 M523.5,202.5 v-5 M232.7,121.7 h5 M523.5,121.7 h-5 M232.7,161.9 h5 M523.5,161.9 h-5" stroke="#333" stroke-width="1.6" fill="none"/>
<text x="376.3" y="274.0" font-size="27.3" fill="#404040" text-anchor="middle" textLength="277">Relative to 1950-1969</text>
<path d="M378.1,81.6 V201.5" stroke="#d8d84c" stroke-width="2.2"/>
<path d="M242.2,123.5 H319.9 M402.1,123.5 H476.2" stroke="#7030a0" stroke-width="4.4" stroke-linecap="round"/>
<rect x="319.9" y="116.0" width="82.2" height="15" fill="#c2a8dc" stroke="#7030a0" stroke-width="4.2" rx="1.5"/>
<circle cx="358.5" cy="123.5" r="5" fill="#7030a0"/>
<path d="M366.5,118.5 V128.5" stroke="#e0d84a" stroke-width="3"/>
<path d="M238.5,160.0 H320.7 M410.1,160.0 H493.0" stroke="#ed7d31" stroke-width="4.4" stroke-linecap="round"/>
<rect x="320.7" y="153.0" width="89.4" height="14" fill="#f7bc8e" stroke="#ed7d31" stroke-width="4.2" rx="1.5"/>
<circle cx="365.0" cy="160.0" r="5" fill="#ed7d31"/>
<path d="M370.8,155.5 V164.5" stroke="#e0d84a" stroke-width="3"/>
<text x="270.0" y="114.0" font-size="25" fill="#613a96" text-anchor="start" font-weight="bold" >(-) 60%</text>
<text x="415.6" y="114.0" font-size="25" fill="#613a96" text-anchor="start" font-weight="bold" >(+) 40%</text>
<text x="270.0" y="189.0" font-size="25" fill="#e47f30" text-anchor="start" font-weight="bold" >(-) 58%</text>
<text x="415.6" y="189.0" font-size="25" fill="#e47f30" text-anchor="start" font-weight="bold" >(+) 42%</text>
<text x="221.8" y="131.9" font-size="24.5" fill="#613a96" text-anchor="end" >1990-2009</text>
<text x="221.8" y="174.1" font-size="24.5" fill="#e47f30" text-anchor="end" >1970-1989</text>
<text x="495.0" y="141.0" font-size="32" fill="#7030a0" text-anchor="middle" font-weight="bold" >*</text>
<clipPath id="clipb"><rect x="1225.6" y="70.6" width="733.6000000000001" height="538.4"/></clipPath>
<path d="M1225.6,609 v-7.5 M1225.6,72.6 v7.5 M1359.0,609 v-7.5 M1359.0,72.6 v7.5 M1492.4,609 v-7.5 M1492.4,72.6 v7.5 M1625.7,609 v-7.5 M1625.7,72.6 v7.5 M1759.1,609 v-7.5 M1759.1,72.6 v7.5 M1892.5,609 v-7.5 M1892.5,72.6 v7.5 M1225.6,609.0 h7.5 M1225.6,474.9 h7.5 M1225.6,340.8 h7.5 M1225.6,206.7 h7.5 M1225.6,72.6 h7.5 M1959.2,609.0 h-7.5 M1959.2,474.9 h-7.5 M1959.2,340.8 h-7.5 M1959.2,206.7 h-7.5 M1959.2,72.6 h-7.5" stroke="#1a1a1a" stroke-width="2" fill="none"/>
<g clip-path="url(#clipb)">
<g fill="#a5a5a5" fill-opacity="0.5"><rect x="1354.68" y="564.30" width="8.60" height="44.70"/><rect x="1368.02" y="564.30" width="8.60" height="44.70"/><rect x="1381.36" y="564.30" width="8.60" height="44.70"/><rect x="1448.05" y="519.60" width="8.60" height="89.40"/><rect x="1461.39" y="474.90" width="8.60" height="134.10"/><rect x="1474.73" y="564.30" width="8.60" height="44.70"/><rect x="1488.06" y="564.30" width="8.60" height="44.70"/><rect x="1501.40" y="519.60" width="8.60" height="89.40"/><rect x="1514.74" y="519.60" width="8.60" height="89.40"/><rect x="1528.08" y="430.20" width="8.60" height="178.80"/><rect x="1541.42" y="474.90" width="8.60" height="134.10"/><rect x="1554.75" y="564.30" width="8.60" height="44.70"/><rect x="1608.11" y="519.60" width="8.60" height="89.40"/><rect x="1621.45" y="519.60" width="8.60" height="89.40"/><rect x="1634.78" y="564.30" width="8.60" height="44.70"/><rect x="1674.80" y="564.30" width="8.60" height="44.70"/><rect x="1714.81" y="564.30" width="8.60" height="44.70"/><rect x="1954.90" y="564.30" width="8.60" height="44.70"/></g>
<path d="M1354.68,564.30 h8.60 M1368.02,564.30 h8.60 M1381.36,564.30 h8.60 M1448.05,519.60 h8.60 M1461.39,474.90 h8.60 M1474.73,564.30 h8.60 M1488.06,564.30 h8.60 M1501.40,519.60 h8.60 M1514.74,519.60 h8.60 M1528.08,430.20 h8.60 M1541.42,474.90 h8.60 M1554.75,564.30 h8.60 M1608.11,519.60 h8.60 M1621.45,519.60 h8.60 M1634.78,564.30 h8.60 M1674.80,564.30 h8.60 M1714.81,564.30 h8.60 M1954.90,564.30 h8.60" stroke="#fff" stroke-width="1.3" fill="none"/>
<g fill="#5468b0" fill-opacity="0.5"><rect x="1341.34" y="519.60" width="8.60" height="89.40"/><rect x="1354.68" y="564.30" width="8.60" height="44.70"/><rect x="1368.02" y="519.60" width="8.60" height="89.40"/><rect x="1381.36" y="564.30" width="8.60" height="44.70"/><rect x="1394.70" y="519.60" width="8.60" height="89.40"/><rect x="1421.37" y="519.60" width="8.60" height="89.40"/><rect x="1434.71" y="474.90" width="8.60" height="134.10"/><rect x="1448.05" y="430.20" width="8.60" height="178.80"/><rect x="1461.39" y="430.20" width="8.60" height="178.80"/><rect x="1474.73" y="474.90" width="8.60" height="134.10"/><rect x="1488.06" y="430.20" width="8.60" height="178.80"/><rect x="1501.40" y="519.60" width="8.60" height="89.40"/><rect x="1514.74" y="519.60" width="8.60" height="89.40"/><rect x="1528.08" y="385.50" width="8.60" height="223.50"/><rect x="1541.42" y="430.20" width="8.60" height="178.80"/><rect x="1554.75" y="564.30" width="8.60" height="44.70"/><rect x="1568.09" y="519.60" width="8.60" height="89.40"/><rect x="1581.43" y="564.30" width="8.60" height="44.70"/><rect x="1594.77" y="519.60" width="8.60" height="89.40"/><rect x="1608.11" y="474.90" width="8.60" height="134.10"/><rect x="1621.45" y="519.60" width="8.60" height="89.40"/><rect x="1634.78" y="564.30" width="8.60" height="44.70"/><rect x="1648.12" y="519.60" width="8.60" height="89.40"/><rect x="1661.46" y="564.30" width="8.60" height="44.70"/><rect x="1688.14" y="519.60" width="8.60" height="89.40"/><rect x="1728.15" y="564.30" width="8.60" height="44.70"/><rect x="1741.49" y="564.30" width="8.60" height="44.70"/><rect x="1794.84" y="564.30" width="8.60" height="44.70"/><rect x="1834.86" y="564.30" width="8.60" height="44.70"/><rect x="1954.90" y="564.30" width="8.60" height="44.70"/></g>
<path d="M1341.34,519.60 h8.60 M1354.68,564.30 h8.60 M1368.02,519.60 h8.60 M1381.36,564.30 h8.60 M1394.70,519.60 h8.60 M1421.37,519.60 h8.60 M1434.71,474.90 h8.60 M1448.05,430.20 h8.60 M1461.39,430.20 h8.60 M1474.73,474.90 h8.60 M1488.06,430.20 h8.60 M1501.40,519.60 h8.60 M1514.74,519.60 h8.60 M1528.08,385.50 h8.60 M1541.42,430.20 h8.60 M1554.75,564.30 h8.60 M1568.09,519.60 h8.60 M1581.43,564.30 h8.60 M1594.77,519.60 h8.60 M1608.11,474.90 h8.60 M1621.45,519.60 h8.60 M1634.78,564.30 h8.60 M1648.12,519.60 h8.60 M1661.46,564.30 h8.60 M1688.14,519.60 h8.60 M1728.15,564.30 h8.60 M1741.49,564.30 h8.60 M1794.84,564.30 h8.60 M1834.86,564.30 h8.60 M1954.90,564.30 h8.60" stroke="#fff" stroke-width="1.3" fill="none"/>
<g fill="#e08a30" fill-opacity="0.5"><rect x="1341.34" y="474.90" width="8.60" height="134.10"/><rect x="1354.68" y="519.60" width="8.60" height="89.40"/><rect x="1368.02" y="564.30" width="8.60" height="44.70"/><rect x="1381.36" y="385.50" width="8.60" height="223.50"/><rect x="1394.70" y="430.20" width="8.60" height="178.80"/><rect x="1408.03" y="340.80" width="8.60" height="268.20"/><rect x="1421.37" y="519.60" width="8.60" height="89.40"/><rect x="1434.71" y="430.20" width="8.60" height="178.80"/><rect x="1448.05" y="519.60" width="8.60" height="89.40"/><rect x="1461.39" y="474.90" width="8.60" height="134.10"/><rect x="1474.73" y="564.30" width="8.60" height="44.70"/><rect x="1488.06" y="564.30" width="8.60" height="44.70"/><rect x="1501.40" y="519.60" width="8.60" height="89.40"/><rect x="1514.74" y="474.90" width="8.60" height="134.10"/><rect x="1528.08" y="385.50" width="8.60" height="223.50"/><rect x="1541.42" y="474.90" width="8.60" height="134.10"/><rect x="1554.75" y="519.60" width="8.60" height="89.40"/><rect x="1581.43" y="519.60" width="8.60" height="89.40"/><rect x="1608.11" y="519.60" width="8.60" height="89.40"/><rect x="1621.45" y="474.90" width="8.60" height="134.10"/><rect x="1634.78" y="430.20" width="8.60" height="178.80"/><rect x="1661.46" y="564.30" width="8.60" height="44.70"/><rect x="1674.80" y="564.30" width="8.60" height="44.70"/><rect x="1688.14" y="564.30" width="8.60" height="44.70"/><rect x="1714.81" y="564.30" width="8.60" height="44.70"/><rect x="1821.52" y="564.30" width="8.60" height="44.70"/></g>
<path d="M1341.34,474.90 h8.60 M1354.68,519.60 h8.60 M1368.02,564.30 h8.60 M1381.36,385.50 h8.60 M1394.70,430.20 h8.60 M1408.03,340.80 h8.60 M1421.37,519.60 h8.60 M1434.71,430.20 h8.60 M1448.05,519.60 h8.60 M1461.39,474.90 h8.60 M1474.73,564.30 h8.60 M1488.06,564.30 h8.60 M1501.40,519.60 h8.60 M1514.74,474.90 h8.60 M1528.08,385.50 h8.60 M1541.42,474.90 h8.60 M1554.75,519.60 h8.60 M1581.43,519.60 h8.60 M1608.11,519.60 h8.60 M1621.45,474.90 h8.60 M1634.78,430.20 h8.60 M1661.46,564.30 h8.60 M1674.80,564.30 h8.60 M1688.14,564.30 h8.60 M1714.81,564.30 h8.60 M1821.52,564.30 h8.60" stroke="#fff" stroke-width="1.3" fill="none"/>
<g fill="#7a3c9c" fill-opacity="0.5"><rect x="1328.01" y="519.60" width="8.60" height="89.40"/><rect x="1354.68" y="519.60" width="8.60" height="89.40"/><rect x="1381.36" y="474.90" width="8.60" height="134.10"/><rect x="1408.03" y="519.60" width="8.60" height="89.40"/><rect x="1421.37" y="519.60" width="8.60" height="89.40"/><rect x="1448.05" y="385.50" width="8.60" height="223.50"/><rect x="1461.39" y="340.80" width="8.60" height="268.20"/><rect x="1474.73" y="564.30" width="8.60" height="44.70"/><rect x="1488.06" y="519.60" width="8.60" height="89.40"/><rect x="1501.40" y="296.10" width="8.60" height="312.90"/><rect x="1514.74" y="474.90" width="8.60" height="134.10"/><rect x="1528.08" y="430.20" width="8.60" height="178.80"/><rect x="1541.42" y="474.90" width="8.60" height="134.10"/><rect x="1568.09" y="430.20" width="8.60" height="178.80"/><rect x="1594.77" y="474.90" width="8.60" height="134.10"/><rect x="1608.11" y="474.90" width="8.60" height="134.10"/><rect x="1621.45" y="519.60" width="8.60" height="89.40"/><rect x="1648.12" y="519.60" width="8.60" height="89.40"/><rect x="1674.80" y="564.30" width="8.60" height="44.70"/><rect x="1688.14" y="564.30" width="8.60" height="44.70"/><rect x="1714.81" y="519.60" width="8.60" height="89.40"/><rect x="1728.15" y="564.30" width="8.60" height="44.70"/><rect x="1754.83" y="564.30" width="8.60" height="44.70"/><rect x="1768.17" y="519.60" width="8.60" height="89.40"/></g>
<path d="M1328.01,519.60 h8.60 M1354.68,519.60 h8.60 M1381.36,474.90 h8.60 M1408.03,519.60 h8.60 M1421.37,519.60 h8.60 M1448.05,385.50 h8.60 M1461.39,340.80 h8.60 M1474.73,564.30 h8.60 M1488.06,519.60 h8.60 M1501.40,296.10 h8.60 M1514.74,474.90 h8.60 M1528.08,430.20 h8.60 M1541.42,474.90 h8.60 M1568.09,430.20 h8.60 M1594.77,474.90 h8.60 M1608.11,474.90 h8.60 M1621.45,519.60 h8.60 M1648.12,519.60 h8.60 M1674.80,564.30 h8.60 M1688.14,564.30 h8.60 M1714.81,519.60 h8.60 M1728.15,564.30 h8.60 M1754.83,564.30 h8.60 M1768.17,519.60 h8.60" stroke="#fff" stroke-width="1.3" fill="none"/>
</g>
<path d="M1225.6,608.0 L1226.6,607.6 L1227.6,607.3 L1228.6,606.9 L1229.6,606.6 L1230.6,606.2 L1231.6,605.9 L1232.6,605.5 L1233.6,605.1 L1234.6,604.8 L1235.6,604.4 L1236.6,604.1 L1237.6,603.7 L1238.6,603.4 L1239.6,603.0 L1240.6,602.6 L1241.6,602.3 L1242.6,601.9 L1243.6,601.5 L1244.6,601.2 L1245.6,600.8 L1246.6,600.3 L1247.6,599.9 L1248.6,599.4 L1249.6,598.9 L1250.6,598.4 L1251.6,597.9 L1252.6,597.4 L1253.6,596.8 L1254.6,596.2 L1255.6,595.7 L1256.6,595.1 L1257.6,594.5 L1258.6,594.0 L1259.6,593.4 L1260.6,592.8 L1261.6,592.3 L1262.6,591.7 L1263.6,591.1 L1264.6,590.6 L1265.6,590.0 L1266.6,589.4 L1267.6,588.9 L1268.6,588.3 L1269.6,587.8 L1270.6,587.3 L1271.6,586.7 L1272.6,586.2 L1273.6,585.7 L1274.6,585.2 L1275.6,584.6 L1276.6,584.1 L1277.6,583.6 L1278.6,583.1 L1279.6,582.6 L1280.6,582.1 L1281.6,581.5 L1282.6,581.0 L1283.6,580.5 L1284.6,580.0 L1285.6,579.5 L1286.6,579.0 L1287.6,578.5 L1288.6,577.9 L1289.6,577.4 L1290.6,576.9 L1291.6,576.4 L1292.6,575.8 L1293.6,575.2 L1294.6,574.6 L1295.6,574.0 L1296.6,573.3 L1297.6,572.6 L1298.6,571.8 L1299.6,571.0 L1300.6,570.2 L1301.6,569.3 L1302.6,568.4 L1303.6,567.4 L1304.6,566.5 L1305.6,565.6 L1306.6,564.6 L1307.6,563.7 L1308.6,562.8 L1309.6,561.8 L1310.6,560.9 L1311.6,559.9 L1312.6,559.0 L1313.6,558.0 L1314.6,557.1 L1315.6,556.1 L1316.6,555.1 L1317.6,554.2 L1318.6,553.1 L1319.6,552.1 L1320.6,551.1 L1321.6,550.0 L1322.6,548.9 L1323.6,547.8 L1324.6,546.6 L1325.6,545.5 L1326.6,544.3 L1327.6,543.2 L1328.6,542.0 L1329.6,540.9 L1330.6,539.8 L1331.6,538.6 L1332.6,537.5 L1333.6,536.5 L1334.6,535.4 L1335.6,534.4 L1336.6,533.3 L1337.6,532.3 L1338.6,531.3 L1339.6,530.3 L1340.6,529.3 L1341.6,528.3 L1342.6,527.3 L1343.6,526.3 L1344.6,525.3 L1345.6,524.3 L1346.6,523.3 L1347.6,522.3 L1348.6,521.3 L1349.6,520.3 L1350.6,519.3 L1351.6,518.2 L1352.6,517.2 L1353.6,516.2 L1354.6,515.2 L1355.6,514.2 L1356.6,513.1 L1357.6,512.0 L1358.6,511.0 L1359.6,509.9 L1360.6,508.7 L1361.6,507.6 L1362.6,506.5 L1363.6,505.3 L1364.6,504.2 L1365.6,503.0 L1366.6,501.8 L1367.6,500.7 L1368.6,499.5 L1369.6,498.3 L1370.6,497.2 L1371.6,496.0 L1372.6,494.9 L1373.6,493.7 L1374.6,492.5 L1375.6,491.4 L1376.6,490.2 L1377.6,489.0 L1378.6,487.9 L1379.6,486.7 L1380.6,485.6 L1381.6,484.5 L1382.6,483.3 L1383.6,482.3 L1384.6,481.2 L1385.6,480.1 L1386.6,479.1 L1387.6,478.0 L1388.6,477.0 L1389.6,476.0 L1390.6,475.0 L1391.6,474.0 L1392.6,473.0 L1393.6,472.0 L1394.6,471.0 L1395.6,470.0 L1396.6,469.0 L1397.6,468.0 L1398.6,467.0 L1399.6,466.0 L1400.6,465.0 L1401.6,464.0 L1402.6,463.0 L1403.6,462.0 L1404.6,461.0 L1405.6,460.0 L1406.6,459.0 L1407.6,458.0 L1408.6,457.0 L1409.6,456.0 L1410.6,455.0 L1411.6,454.0 L1412.6,453.0 L1413.6,452.0 L1414.6,451.0 L1415.6,450.0 L1416.6,449.0 L1417.6,448.0 L1418.6,447.0 L1419.6,446.1 L1420.6,445.1 L1421.6,444.2 L1422.6,443.3 L1423.6,442.4 L1424.6,441.5 L1425.6,440.6 L1426.6,439.8 L1427.6,438.9 L1428.6,438.1 L1429.6,437.2 L1430.6,436.4 L1431.6,435.6 L1432.6,434.8 L1433.6,434.0 L1434.6,433.2 L1435.6,432.5 L1436.6,431.8 L1437.6,431.1 L1438.6,430.4 L1439.6,429.7 L1440.6,429.0 L1441.6,428.3 L1442.6,427.7 L1443.6,427.0 L1444.6,426.4 L1445.6,425.7 L1446.6,425.1 L1447.6,424.4 L1448.6,423.8 L1449.6,423.2 L1450.6,422.6 L1451.6,422.0 L1452.6,421.4 L1453.6,420.8 L1454.6,420.2 L1455.6,419.6 L1456.6,419.1 L1457.6,418.5 L1458.6,418.0 L1459.6,417.4 L1460.6,416.9 L1461.6,416.4 L1462.6,416.0 L1463.6,415.5 L1464.6,415.1 L1465.6,414.6 L1466.6,414.2 L1467.6,413.8 L1468.6,413.4 L1469.6,413.0 L1470.6,412.6 L1471.6,412.2 L1472.6,411.8 L1473.6,411.5 L1474.6,411.1 L1475.6,410.8 L1476.6,410.4 L1477.6,410.1 L1478.6,409.8 L1479.6,409.5 L1480.6,409.2 L1481.6,408.8 L1482.6,408.5 L1483.6,408.2 L1484.6,407.9 L1485.6,407.6 L1486.6,407.3 L1487.6,407.1 L1488.6,406.8 L1489.6,406.6 L1490.6,406.4 L1491.6,406.3 L1492.6,406.2 L1493.6,406.1 L1494.6,406.0 L1495.6,405.9 L1496.6,405.9 L1497.6,405.8 L1498.6,405.8 L1499.6,405.8 L1500.6,405.7 L1501.6,405.7 L1502.6,405.8 L1503.6,405.8 L1504.6,405.9 L1505.6,406.1 L1506.6,406.2 L1507.6,406.4 L1508.6,406.7 L1509.6,407.0 L1510.6,407.3 L1511.6,407.6 L1512.6,407.9 L1513.6,408.2 L1514.6,408.5 L1515.6,408.8 L1516.6,409.0 L1517.6,409.3 L1518.6,409.6 L1519.6,409.8 L1520.6,410.0 L1521.6,410.3 L1522.6,410.5 L1523.6,410.7 L1524.6,410.9 L1525.6,411.2 L1526.6,411.4 L1527.6,411.6 L1528.6,411.8 L1529.6,412.1 L1530.6,412.3 L1531.6,412.6 L1532.6,412.9 L1533.6,413.1 L1534.6,413.4 L1535.6,413.7 L1536.6,414.1 L1537.6,414.4 L1538.6,414.7 L1539.6,415.0 L1540.6,415.4 L1541.6,415.7 L1542.6,416.1 L1543.6,416.5 L1544.6,416.9 L1545.6,417.3 L1546.6,417.8 L1547.6,418.2 L1548.6,418.7 L1549.6,419.2 L1550.6,419.7 L1551.6,420.2 L1552.6,420.7 L1553.6,421.2 L1554.6,421.7 L1555.6,422.2 L1556.6,422.7 L1557.6,423.2 L1558.6,423.7 L1559.6,424.2 L1560.6,424.7 L1561.6,425.2 L1562.6,425.7 L1563.6,426.2 L1564.6,426.7 L1565.6,427.2 L1566.6,427.7 L1567.6,428.2 L1568.6,428.7 L1569.6,429.2 L1570.6,429.7 L1571.6,430.2 L1572.6,430.7 L1573.6,431.2 L1574.6,431.7 L1575.6,432.2 L1576.6,432.7 L1577.6,433.2 L1578.6,433.7 L1579.6,434.2 L1580.6,434.7 L1581.6,435.2 L1582.6,435.7 L1583.6,436.2 L1584.6,436.7 L1585.6,437.2 L1586.6,437.7 L1587.6,438.2 L1588.6,438.7 L1589.6,439.2 L1590.6,439.7 L1591.6,440.2 L1592.6,440.7 L1593.6,441.2 L1594.6,441.7 L1595.6,442.2 L1596.6,442.8 L1597.6,443.3 L1598.6,443.8 L1599.6,444.4 L1600.6,444.9 L1601.6,445.5 L1602.6,446.0 L1603.6,446.6 L1604.6,447.2 L1605.6,447.7 L1606.6,448.3 L1607.6,448.9 L1608.6,449.5 L1609.6,450.1 L1610.6,450.7 L1611.6,451.3 L1612.6,451.9 L1613.6,452.5 L1614.6,453.2 L1615.6,453.9 L1616.6,454.6 L1617.6,455.3 L1618.6,456.0 L1619.6,456.7 L1620.6,457.4 L1621.6,458.1 L1622.6,458.8 L1623.6,459.5 L1624.6,460.2 L1625.6,460.9 L1626.6,461.6 L1627.6,462.3 L1628.6,462.9 L1629.6,463.6 L1630.6,464.2 L1631.6,464.9 L1632.6,465.5 L1633.6,466.1 L1634.6,466.8 L1635.6,467.4 L1636.6,468.0 L1637.6,468.7 L1638.6,469.3 L1639.6,469.9 L1640.6,470.6 L1641.6,471.2 L1642.6,471.9 L1643.6,472.5 L1644.6,473.2 L1645.6,473.9 L1646.6,474.6 L1647.6,475.3 L1648.6,476.1 L1649.6,476.8 L1650.6,477.5 L1651.6,478.3 L1652.6,479.0 L1653.6,479.8 L1654.6,480.5 L1655.6,481.3 L1656.6,482.0 L1657.6,482.8 L1658.6,483.5 L1659.6,484.3 L1660.6,485.0 L1661.6,485.7 L1662.6,486.5 L1663.6,487.2 L1664.6,487.9 L1665.6,488.6 L1666.6,489.3 L1667.6,490.0 L1668.6,490.7 L1669.6,491.4 L1670.6,492.2 L1671.6,492.9 L1672.6,493.6 L1673.6,494.3 L1674.6,495.0 L1675.6,495.7 L1676.6,496.4 L1677.6,497.0 L1678.6,497.7 L1679.6,498.4 L1680.6,499.0 L1681.6,499.7 L1682.6,500.3 L1683.6,500.9 L1684.6,501.5 L1685.6,502.1 L1686.6,502.7 L1687.6,503.3 L1688.6,503.9 L1689.6,504.5 L1690.6,505.2 L1691.6,505.8 L1692.6,506.4 L1693.6,507.1 L1694.6,507.7 L1695.6,508.4 L1696.6,509.1 L1697.6,509.7 L1698.6,510.4 L1699.6,511.1 L1700.6,511.8 L1701.6,512.6 L1702.6,513.3 L1703.6,514.0 L1704.6,514.7 L1705.6,515.4 L1706.6,516.2 L1707.6,516.9 L1708.6,517.7 L1709.6,518.5 L1710.6,519.2 L1711.6,520.0 L1712.6,520.8 L1713.6,521.6 L1714.6,522.4 L1715.6,523.1 L1716.6,523.9 L1717.6,524.7 L1718.6,525.4 L1719.6,526.1 L1720.6,526.8 L1721.6,527.4 L1722.6,528.0 L1723.6,528.6 L1724.6,529.1 L1725.6,529.7 L1726.6,530.2 L1727.6,530.7 L1728.6,531.2 L1729.6,531.7 L1730.6,532.2 L1731.6,532.7 L1732.6,533.2 L1733.6,533.6 L1734.6,534.1 L1735.6,534.5 L1736.6,535.0 L1737.6,535.4 L1738.6,535.8 L1739.6,536.2 L1740.6,536.6 L1741.6,537.0 L1742.6,537.4 L1743.6,537.8 L1744.6,538.2 L1745.6,538.6 L1746.6,539.0 L1747.6,539.4 L1748.6,539.8 L1749.6,540.2 L1750.6,540.6 L1751.6,541.0 L1752.6,541.4 L1753.6,541.8 L1754.6,542.2 L1755.6,542.6 L1756.6,543.0 L1757.6,543.4 L1758.6,543.8 L1759.6,544.2 L1760.6,544.6 L1761.6,545.0 L1762.6,545.4 L1763.6,545.8 L1764.6,546.2 L1765.6,546.6 L1766.6,547.0 L1767.6,547.4 L1768.6,547.8 L1769.6,548.2 L1770.6,548.6 L1771.6,549.0 L1772.6,549.5 L1773.6,549.9 L1774.6,550.3 L1775.6,550.8 L1776.6,551.2 L1777.6,551.7 L1778.6,552.2 L1779.6,552.7 L1780.6,553.2 L1781.6,553.7 L1782.6,554.2 L1783.6,554.7 L1784.6,555.2 L1785.6,555.7 L1786.6,556.2 L1787.6,556.7 L1788.6,557.2 L1789.6,557.7 L1790.6,558.2 L1791.6,558.7 L1792.6,559.1 L1793.6,559.6 L1794.6,560.1 L1795.6,560.6 L1796.6,561.1 L1797.6,561.6 L1798.6,562.1 L1799.6,562.6 L1800.6,563.1 L1801.6,563.5 L1802.6,564.0 L1803.6,564.4 L1804.6,564.9 L1805.6,565.3 L1806.6,565.7 L1807.6,566.1 L1808.6,566.5 L1809.6,566.9 L1810.6,567.3 L1811.6,567.7 L1812.6,568.1 L1813.6,568.5 L1814.6,568.9 L1815.6,569.3 L1816.6,569.7 L1817.6,570.1 L1818.6,570.5 L1819.6,570.9 L1820.6,571.3 L1821.6,571.7 L1822.6,572.1 L1823.6,572.5 L1824.6,572.9 L1825.6,573.3 L1826.6,573.7 L1827.6,574.1 L1828.6,574.5 L1829.6,574.8 L1830.6,575.2 L1831.6,575.5 L1832.6,575.8 L1833.6,576.1 L1834.6,576.4 L1835.6,576.7 L1836.6,577.0 L1837.6,577.3 L1838.6,577.6 L1839.6,577.9 L1840.6,578.2 L1841.6,578.5 L1842.6,578.7 L1843.6,579.0 L1844.6,579.3 L1845.6,579.5 L1846.6,579.8 L1847.6,580.0 L1848.6,580.3 L1849.6,580.5 L1850.6,580.8 L1851.6,581.0 L1852.6,581.3 L1853.6,581.5 L1854.6,581.8 L1855.6,582.0 L1856.6,582.2 L1857.6,582.5 L1858.6,582.7 L1859.6,582.9 L1860.6,583.1 L1861.6,583.3 L1862.6,583.5 L1863.6,583.7 L1864.6,583.9 L1865.6,584.1 L1866.6,584.3 L1867.6,584.5 L1868.6,584.7 L1869.6,584.8 L1870.6,585.0 L1871.6,585.2 L1872.6,585.3 L1873.6,585.5 L1874.6,585.7 L1875.6,585.8 L1876.6,586.0 L1877.6,586.1 L1878.6,586.3 L1879.6,586.5 L1880.6,586.6 L1881.6,586.8 L1882.6,586.9 L1883.6,587.1 L1884.6,587.2 L1885.6,587.4 L1886.6,587.5 L1887.6,587.7 L1888.6,587.8 L1889.6,588.0 L1890.6,588.1 L1891.6,588.2 L1892.6,588.4 L1893.6,588.5 L1894.6,588.7 L1895.6,588.8 L1896.6,589.0 L1897.6,589.1 L1898.6,589.3 L1899.6,589.4 L1900.6,589.6 L1901.6,589.8 L1902.6,589.9 L1903.6,590.1 L1904.6,590.2 L1905.6,590.4 L1906.6,590.5 L1907.6,590.7 L1908.6,590.9 L1909.6,591.0 L1910.6,591.2 L1911.6,591.4 L1912.6,591.6 L1913.6,591.8 L1914.6,591.9 L1915.6,592.1 L1916.6,592.3 L1917.6,592.5 L1918.6,592.7 L1919.6,592.9 L1920.6,593.1 L1921.6,593.3 L1922.6,593.5 L1923.6,593.7 L1924.6,593.8 L1925.6,594.0 L1926.6,594.2 L1927.6,594.3 L1928.6,594.5 L1929.6,594.6 L1930.6,594.8 L1931.6,594.9 L1932.6,595.1 L1933.6,595.2 L1934.6,595.4 L1935.6,595.5 L1936.6,595.6 L1937.6,595.7 L1938.6,595.8 L1939.6,595.9 L1940.6,596.0 L1941.6,596.1 L1942.6,596.2 L1943.6,596.2 L1944.6,596.3 L1945.6,596.4 L1946.6,596.4 L1947.6,596.5 L1948.6,596.6 L1949.6,596.6 L1950.6,596.7 L1951.6,596.8 L1952.6,596.8 L1953.6,596.9 L1954.6,597.0 L1955.6,597.0 L1956.6,597.1 L1957.6,597.1 L1958.6,597.2 L1959.6,597.2 L1960.0,597.3" fill="none" stroke="#a0a0a0" stroke-width="4.2" stroke-linejoin="round" stroke-linecap="round" clip-path="url(#clipb)"/>
<path d="M1225.6,607.5 L1226.6,607.1 L1227.6,606.8 L1228.6,606.4 L1229.6,606.0 L1230.6,605.7 L1231.6,605.3 L1232.6,604.9 L1233.6,604.6 L1234.6,604.2 L1235.6,603.8 L1236.6,603.5 L1237.6,603.1 L1238.6,602.7 L1239.6,602.4 L1240.6,602.0 L1241.6,601.6 L1242.6,601.3 L1243.6,600.9 L1244.6,600.5 L1245.6,600.1 L1246.6,599.6 L1247.6,599.2 L1248.6,598.7 L1249.6,598.2 L1250.6,597.6 L1251.6,597.1 L1252.6,596.5 L1253.6,595.9 L1254.6,595.4 L1255.6,594.8 L1256.6,594.2 L1257.6,593.6 L1258.6,593.0 L1259.6,592.4 L1260.6,591.8 L1261.6,591.2 L1262.6,590.6 L1263.6,590.0 L1264.6,589.4 L1265.6,588.8 L1266.6,588.2 L1267.6,587.7 L1268.6,587.1 L1269.6,586.6 L1270.6,586.0 L1271.6,585.5 L1272.6,585.0 L1273.6,584.5 L1274.6,583.9 L1275.6,583.4 L1276.6,582.9 L1277.6,582.4 L1278.6,581.9 L1279.6,581.4 L1280.6,580.9 L1281.6,580.4 L1282.6,579.9 L1283.6,579.4 L1284.6,578.9 L1285.6,578.4 L1286.6,577.9 L1287.6,577.4 L1288.6,576.9 L1289.6,576.4 L1290.6,575.9 L1291.6,575.4 L1292.6,574.9 L1293.6,574.3 L1294.6,573.8 L1295.6,573.2 L1296.6,572.5 L1297.6,571.9 L1298.6,571.2 L1299.6,570.4 L1300.6,569.6 L1301.6,568.9 L1302.6,568.0 L1303.6,567.2 L1304.6,566.4 L1305.6,565.6 L1306.6,564.7 L1307.6,563.9 L1308.6,563.0 L1309.6,562.2 L1310.6,561.4 L1311.6,560.5 L1312.6,559.7 L1313.6,558.8 L1314.6,558.0 L1315.6,557.2 L1316.6,556.3 L1317.6,555.5 L1318.6,554.6 L1319.6,553.7 L1320.6,552.9 L1321.6,552.0 L1322.6,551.1 L1323.6,550.3 L1324.6,549.4 L1325.6,548.5 L1326.6,547.6 L1327.6,546.8 L1328.6,545.9 L1329.6,545.0 L1330.6,544.1 L1331.6,543.2 L1332.6,542.4 L1333.6,541.5 L1334.6,540.6 L1335.6,539.7 L1336.6,538.8 L1337.6,537.9 L1338.6,537.0 L1339.6,536.0 L1340.6,535.1 L1341.6,534.1 L1342.6,533.1 L1343.6,532.1 L1344.6,531.1 L1345.6,530.1 L1346.6,529.1 L1347.6,528.0 L1348.6,527.0 L1349.6,526.0 L1350.6,525.0 L1351.6,524.0 L1352.6,522.9 L1353.6,521.9 L1354.6,520.9 L1355.6,519.9 L1356.6,518.8 L1357.6,517.8 L1358.6,516.7 L1359.6,515.6 L1360.6,514.5 L1361.6,513.3 L1362.6,512.2 L1363.6,511.0 L1364.6,509.8 L1365.6,508.6 L1366.6,507.3 L1367.6,506.1 L1368.6,504.9 L1369.6,503.6 L1370.6,502.4 L1371.6,501.2 L1372.6,499.9 L1373.6,498.7 L1374.6,497.5 L1375.6,496.2 L1376.6,495.0 L1377.6,493.8 L1378.6,492.5 L1379.6,491.3 L1380.6,490.1 L1381.6,488.9 L1382.6,487.7 L1383.6,486.4 L1384.6,485.2 L1385.6,484.1 L1386.6,482.9 L1387.6,481.7 L1388.6,480.5 L1389.6,479.3 L1390.6,478.1 L1391.6,477.0 L1392.6,475.8 L1393.6,474.6 L1394.6,473.4 L1395.6,472.1 L1396.6,470.9 L1397.6,469.7 L1398.6,468.4 L1399.6,467.1 L1400.6,465.8 L1401.6,464.5 L1402.6,463.2 L1403.6,461.8 L1404.6,460.5 L1405.6,459.1 L1406.6,457.8 L1407.6,456.4 L1408.6,455.0 L1409.6,453.6 L1410.6,452.2 L1411.6,450.7 L1412.6,449.2 L1413.6,447.8 L1414.6,446.3 L1415.6,444.8 L1416.6,443.3 L1417.6,441.8 L1418.6,440.3 L1419.6,438.8 L1420.6,437.4 L1421.6,435.9 L1422.6,434.5 L1423.6,433.1 L1424.6,431.7 L1425.6,430.3 L1426.6,429.0 L1427.6,427.6 L1428.6,426.3 L1429.6,425.0 L1430.6,423.7 L1431.6,422.4 L1432.6,421.2 L1433.6,419.9 L1434.6,418.7 L1435.6,417.6 L1436.6,416.4 L1437.6,415.4 L1438.6,414.3 L1439.6,413.3 L1440.6,412.2 L1441.6,411.2 L1442.6,410.2 L1443.6,409.3 L1444.6,408.3 L1445.6,407.4 L1446.6,406.5 L1447.6,405.6 L1448.6,404.8 L1449.6,404.0 L1450.6,403.3 L1451.6,402.6 L1452.6,401.9 L1453.6,401.2 L1454.6,400.5 L1455.6,399.8 L1456.6,399.2 L1457.6,398.6 L1458.6,397.9 L1459.6,397.3 L1460.6,396.7 L1461.6,396.2 L1462.6,395.6 L1463.6,395.1 L1464.6,394.5 L1465.6,394.0 L1466.6,393.5 L1467.6,393.0 L1468.6,392.5 L1469.6,392.0 L1470.6,391.6 L1471.6,391.1 L1472.6,390.7 L1473.6,390.3 L1474.6,389.9 L1475.6,389.5 L1476.6,389.2 L1477.6,388.8 L1478.6,388.5 L1479.6,388.2 L1480.6,387.9 L1481.6,387.5 L1482.6,387.2 L1483.6,386.9 L1484.6,386.6 L1485.6,386.3 L1486.6,386.0 L1487.6,385.7 L1488.6,385.4 L1489.6,385.1 L1490.6,384.9 L1491.6,384.6 L1492.6,384.4 L1493.6,384.1 L1494.6,383.9 L1495.6,383.7 L1496.6,383.5 L1497.6,383.3 L1498.6,383.0 L1499.6,382.8 L1500.6,382.6 L1501.6,382.4 L1502.6,382.2 L1503.6,382.0 L1504.6,381.9 L1505.6,381.7 L1506.6,381.6 L1507.6,381.4 L1508.6,381.3 L1509.6,381.2 L1510.6,381.1 L1511.6,381.0 L1512.6,381.0 L1513.6,380.9 L1514.6,380.9 L1515.6,380.9 L1516.6,380.9 L1517.6,381.0 L1518.6,381.1 L1519.6,381.2 L1520.6,381.4 L1521.6,381.5 L1522.6,381.7 L1523.6,381.9 L1524.6,382.1 L1525.6,382.4 L1526.6,382.6 L1527.6,382.8 L1528.6,383.1 L1529.6,383.4 L1530.6,383.7 L1531.6,384.0 L1532.6,384.4 L1533.6,384.7 L1534.6,385.2 L1535.6,385.6 L1536.6,386.1 L1537.6,386.6 L1538.6,387.1 L1539.6,387.6 L1540.6,388.1 L1541.6,388.6 L1542.6,389.1 L1543.6,389.7 L1544.6,390.3 L1545.6,390.9 L1546.6,391.5 L1547.6,392.1 L1548.6,392.7 L1549.6,393.4 L1550.6,394.0 L1551.6,394.7 L1552.6,395.4 L1553.6,396.0 L1554.6,396.7 L1555.6,397.4 L1556.6,398.1 L1557.6,398.7 L1558.6,399.4 L1559.6,400.1 L1560.6,400.8 L1561.6,401.6 L1562.6,402.3 L1563.6,403.0 L1564.6,403.7 L1565.6,404.4 L1566.6,405.2 L1567.6,405.9 L1568.6,406.6 L1569.6,407.4 L1570.6,408.2 L1571.6,409.0 L1572.6,409.9 L1573.6,410.7 L1574.6,411.7 L1575.6,412.6 L1576.6,413.6 L1577.6,414.5 L1578.6,415.5 L1579.6,416.5 L1580.6,417.5 L1581.6,418.5 L1582.6,419.5 L1583.6,420.5 L1584.6,421.5 L1585.6,422.5 L1586.6,423.5 L1587.6,424.5 L1588.6,425.5 L1589.6,426.5 L1590.6,427.5 L1591.6,428.4 L1592.6,429.4 L1593.6,430.4 L1594.6,431.4 L1595.6,432.4 L1596.6,433.4 L1597.6,434.4 L1598.6,435.4 L1599.6,436.4 L1600.6,437.4 L1601.6,438.4 L1602.6,439.4 L1603.6,440.4 L1604.6,441.4 L1605.6,442.4 L1606.6,443.4 L1607.6,444.4 L1608.6,445.4 L1609.6,446.4 L1610.6,447.3 L1611.6,448.3 L1612.6,449.2 L1613.6,450.2 L1614.6,451.1 L1615.6,452.0 L1616.6,452.8 L1617.6,453.7 L1618.6,454.6 L1619.6,455.5 L1620.6,456.3 L1621.6,457.2 L1622.6,458.0 L1623.6,458.9 L1624.6,459.7 L1625.6,460.6 L1626.6,461.4 L1627.6,462.2 L1628.6,463.0 L1629.6,463.8 L1630.6,464.6 L1631.6,465.3 L1632.6,466.1 L1633.6,466.9 L1634.6,467.6 L1635.6,468.4 L1636.6,469.1 L1637.6,469.9 L1638.6,470.6 L1639.6,471.4 L1640.6,472.2 L1641.6,472.9 L1642.6,473.7 L1643.6,474.5 L1644.6,475.3 L1645.6,476.1 L1646.6,476.9 L1647.6,477.8 L1648.6,478.6 L1649.6,479.5 L1650.6,480.4 L1651.6,481.2 L1652.6,482.1 L1653.6,483.0 L1654.6,483.8 L1655.6,484.7 L1656.6,485.6 L1657.6,486.4 L1658.6,487.3 L1659.6,488.2 L1660.6,489.1 L1661.6,489.9 L1662.6,490.8 L1663.6,491.6 L1664.6,492.5 L1665.6,493.3 L1666.6,494.2 L1667.6,495.0 L1668.6,495.9 L1669.6,496.8 L1670.6,497.6 L1671.6,498.5 L1672.6,499.3 L1673.6,500.1 L1674.6,501.0 L1675.6,501.8 L1676.6,502.7 L1677.6,503.5 L1678.6,504.3 L1679.6,505.1 L1680.6,505.9 L1681.6,506.6 L1682.6,507.3 L1683.6,508.1 L1684.6,508.8 L1685.6,509.5 L1686.6,510.2 L1687.6,510.9 L1688.6,511.6 L1689.6,512.3 L1690.6,513.0 L1691.6,513.6 L1692.6,514.3 L1693.6,515.0 L1694.6,515.6 L1695.6,516.2 L1696.6,516.8 L1697.6,517.5 L1698.6,518.1 L1699.6,518.7 L1700.6,519.3 L1701.6,519.9 L1702.6,520.5 L1703.6,521.1 L1704.6,521.7 L1705.6,522.3 L1706.6,523.0 L1707.6,523.6 L1708.6,524.3 L1709.6,524.9 L1710.6,525.6 L1711.6,526.3 L1712.6,527.0 L1713.6,527.7 L1714.6,528.4 L1715.6,529.1 L1716.6,529.8 L1717.6,530.5 L1718.6,531.2 L1719.6,532.0 L1720.6,532.7 L1721.6,533.4 L1722.6,534.1 L1723.6,534.8 L1724.6,535.5 L1725.6,536.2 L1726.6,536.9 L1727.6,537.6 L1728.6,538.3 L1729.6,539.0 L1730.6,539.7 L1731.6,540.4 L1732.6,541.1 L1733.6,541.8 L1734.6,542.5 L1735.6,543.2 L1736.6,543.9 L1737.6,544.6 L1738.6,545.3 L1739.6,546.0 L1740.6,546.7 L1741.6,547.4 L1742.6,548.1 L1743.6,548.8 L1744.6,549.4 L1745.6,550.1 L1746.6,550.7 L1747.6,551.3 L1748.6,551.9 L1749.6,552.5 L1750.6,553.1 L1751.6,553.6 L1752.6,554.1 L1753.6,554.6 L1754.6,555.1 L1755.6,555.6 L1756.6,556.1 L1757.6,556.6 L1758.6,557.1 L1759.6,557.6 L1760.6,558.0 L1761.6,558.5 L1762.6,558.9 L1763.6,559.4 L1764.6,559.8 L1765.6,560.2 L1766.6,560.6 L1767.6,561.0 L1768.6,561.4 L1769.6,561.8 L1770.6,562.2 L1771.6,562.6 L1772.6,563.1 L1773.6,563.5 L1774.6,563.9 L1775.6,564.4 L1776.6,564.8 L1777.6,565.3 L1778.6,565.8 L1779.6,566.3 L1780.6,566.8 L1781.6,567.3 L1782.6,567.8 L1783.6,568.3 L1784.6,568.8 L1785.6,569.3 L1786.6,569.8 L1787.6,570.3 L1788.6,570.9 L1789.6,571.4 L1790.6,572.0 L1791.6,572.6 L1792.6,573.1 L1793.6,573.7 L1794.6,574.3 L1795.6,574.9 L1796.6,575.5 L1797.6,576.1 L1798.6,576.6 L1799.6,577.2 L1800.6,577.8 L1801.6,578.3 L1802.6,578.8 L1803.6,579.3 L1804.6,579.7 L1805.6,580.2 L1806.6,580.6 L1807.6,581.0 L1808.6,581.5 L1809.6,581.9 L1810.6,582.3 L1811.6,582.7 L1812.6,583.1 L1813.6,583.4 L1814.6,583.8 L1815.6,584.2 L1816.6,584.5 L1817.6,584.9 L1818.6,585.2 L1819.6,585.5 L1820.6,585.8 L1821.6,586.1 L1822.6,586.4 L1823.6,586.7 L1824.6,587.0 L1825.6,587.3 L1826.6,587.5 L1827.6,587.8 L1828.6,588.1 L1829.6,588.3 L1830.6,588.6 L1831.6,588.8 L1832.6,589.0 L1833.6,589.2 L1834.6,589.5 L1835.6,589.7 L1836.6,589.9 L1837.6,590.1 L1838.6,590.3 L1839.6,590.5 L1840.6,590.7 L1841.6,590.9 L1842.6,591.0 L1843.6,591.2 L1844.6,591.4 L1845.6,591.6 L1846.6,591.7 L1847.6,591.9 L1848.6,592.0 L1849.6,592.2 L1850.6,592.3 L1851.6,592.5 L1852.6,592.6 L1853.6,592.7 L1854.6,592.8 L1855.6,593.0 L1856.6,593.1 L1857.6,593.2 L1858.6,593.2 L1859.6,593.3 L1860.6,593.4 L1861.6,593.4 L1862.6,593.5 L1863.6,593.6 L1864.6,593.6 L1865.6,593.7 L1866.6,593.7 L1867.6,593.8 L1868.6,593.8 L1869.6,593.9 L1870.6,593.9 L1871.6,594.0 L1872.6,594.0 L1873.6,594.1 L1874.6,594.1 L1875.6,594.2 L1876.6,594.2 L1877.6,594.3 L1878.6,594.3 L1879.6,594.4 L1880.6,594.4 L1881.6,594.5 L1882.6,594.5 L1883.6,594.6 L1884.6,594.6 L1885.6,594.7 L1886.6,594.7 L1887.6,594.8 L1888.6,594.8 L1889.6,594.9 L1890.6,594.9 L1891.6,594.9 L1892.6,595.0 L1893.6,595.0 L1894.6,595.1 L1895.6,595.2 L1896.6,595.2 L1897.6,595.3 L1898.6,595.4 L1899.6,595.5 L1900.6,595.6 L1901.6,595.6 L1902.6,595.7 L1903.6,595.8 L1904.6,595.9 L1905.6,596.1 L1906.6,596.2 L1907.6,596.3 L1908.6,596.4 L1909.6,596.5 L1910.6,596.6 L1911.6,596.7 L1912.6,596.8 L1913.6,596.9 L1914.6,597.0 L1915.6,597.1 L1916.6,597.2 L1917.6,597.3 L1918.6,597.4 L1919.6,597.5 L1920.6,597.6 L1921.6,597.7 L1922.6,597.8 L1923.6,597.9 L1924.6,598.0 L1925.6,598.1 L1926.6,598.2 L1927.6,598.3 L1928.6,598.4 L1929.6,598.5 L1930.6,598.6 L1931.6,598.7 L1932.6,598.8 L1933.6,598.9 L1934.6,599.0 L1935.6,599.0 L1936.6,599.1 L1937.6,599.2 L1938.6,599.3 L1939.6,599.4 L1940.6,599.4 L1941.6,599.5 L1942.6,599.6 L1943.6,599.6 L1944.6,599.7 L1945.6,599.8 L1946.6,599.8 L1947.6,599.9 L1948.6,600.0 L1949.6,600.0 L1950.6,600.1 L1951.6,600.2 L1952.6,600.2 L1953.6,600.3 L1954.6,600.4 L1955.6,600.4 L1956.6,600.5 L1957.6,600.5 L1958.6,600.6 L1959.6,600.6 L1960.0,600.7" fill="none" stroke="#3e6eb8" stroke-width="4.2" stroke-linejoin="round" stroke-linecap="round" clip-path="url(#clipb)"/>
<path d="M1225.6,607.5 L1226.6,607.0 L1227.6,606.4 L1228.6,605.9 L1229.6,605.4 L1230.6,604.8 L1231.6,604.3 L1232.6,603.7 L1233.6,603.2 L1234.6,602.7 L1235.6,602.1 L1236.6,601.6 L1237.6,601.1 L1238.6,600.5 L1239.6,600.0 L1240.6,599.5 L1241.6,599.0 L1242.6,598.4 L1243.6,597.9 L1244.6,597.4 L1245.6,596.9 L1246.6,596.4 L1247.6,595.9 L1248.6,595.4 L1249.6,594.9 L1250.6,594.4 L1251.6,593.9 L1252.6,593.4 L1253.6,592.9 L1254.6,592.4 L1255.6,591.9 L1256.6,591.4 L1257.6,590.9 L1258.6,590.3 L1259.6,589.8 L1260.6,589.2 L1261.6,588.5 L1262.6,587.8 L1263.6,587.1 L1264.6,586.2 L1265.6,585.3 L1266.6,584.2 L1267.6,583.2 L1268.6,582.1 L1269.6,580.9 L1270.6,579.7 L1271.6,578.5 L1272.6,577.3 L1273.6,576.1 L1274.6,574.9 L1275.6,573.7 L1276.6,572.5 L1277.6,571.3 L1278.6,570.1 L1279.6,568.9 L1280.6,567.7 L1281.6,566.4 L1282.6,565.2 L1283.6,563.9 L1284.6,562.5 L1285.6,561.2 L1286.6,559.8 L1287.6,558.3 L1288.6,556.8 L1289.6,555.3 L1290.6,553.7 L1291.6,552.2 L1292.6,550.6 L1293.6,549.0 L1294.6,547.4 L1295.6,545.8 L1296.6,544.2 L1297.6,542.6 L1298.6,541.0 L1299.6,539.4 L1300.6,537.8 L1301.6,536.2 L1302.6,534.6 L1303.6,533.0 L1304.6,531.4 L1305.6,529.8 L1306.6,528.2 L1307.6,526.5 L1308.6,524.9 L1309.6,523.2 L1310.6,521.6 L1311.6,519.9 L1312.6,518.2 L1313.6,516.5 L1314.6,514.8 L1315.6,513.1 L1316.6,511.4 L1317.6,509.7 L1318.6,508.0 L1319.6,506.3 L1320.6,504.6 L1321.6,502.9 L1322.6,501.2 L1323.6,499.5 L1324.6,497.8 L1325.6,496.1 L1326.6,494.4 L1327.6,492.8 L1328.6,491.1 L1329.6,489.4 L1330.6,487.8 L1331.6,486.1 L1332.6,484.5 L1333.6,482.9 L1334.6,481.3 L1335.6,479.7 L1336.6,478.1 L1337.6,476.5 L1338.6,474.9 L1339.6,473.3 L1340.6,471.7 L1341.6,470.1 L1342.6,468.5 L1343.6,466.9 L1344.6,465.3 L1345.6,463.7 L1346.6,462.1 L1347.6,460.5 L1348.6,459.0 L1349.6,457.4 L1350.6,455.9 L1351.6,454.4 L1352.6,453.0 L1353.6,451.6 L1354.6,450.2 L1355.6,448.8 L1356.6,447.5 L1357.6,446.2 L1358.6,444.9 L1359.6,443.5 L1360.6,442.2 L1361.6,440.9 L1362.6,439.6 L1363.6,438.3 L1364.6,437.0 L1365.6,435.7 L1366.6,434.4 L1367.6,433.1 L1368.6,431.8 L1369.6,430.5 L1370.6,429.3 L1371.6,428.0 L1372.6,426.8 L1373.6,425.7 L1374.6,424.5 L1375.6,423.4 L1376.6,422.3 L1377.6,421.3 L1378.6,420.3 L1379.6,419.2 L1380.6,418.2 L1381.6,417.2 L1382.6,416.2 L1383.6,415.2 L1384.6,414.2 L1385.6,413.3 L1386.6,412.3 L1387.6,411.3 L1388.6,410.3 L1389.6,409.3 L1390.6,408.3 L1391.6,407.3 L1392.6,406.4 L1393.6,405.4 L1394.6,404.5 L1395.6,403.6 L1396.6,402.7 L1397.6,401.8 L1398.6,400.9 L1399.6,400.1 L1400.6,399.3 L1401.6,398.5 L1402.6,397.7 L1403.6,396.9 L1404.6,396.1 L1405.6,395.3 L1406.6,394.5 L1407.6,393.7 L1408.6,392.9 L1409.6,392.1 L1410.6,391.3 L1411.6,390.5 L1412.6,389.7 L1413.6,388.9 L1414.6,388.1 L1415.6,387.4 L1416.6,386.6 L1417.6,385.9 L1418.6,385.2 L1419.6,384.6 L1420.6,383.9 L1421.6,383.3 L1422.6,382.6 L1423.6,382.0 L1424.6,381.4 L1425.6,380.8 L1426.6,380.2 L1427.6,379.6 L1428.6,379.0 L1429.6,378.4 L1430.6,377.8 L1431.6,377.2 L1432.6,376.6 L1433.6,376.0 L1434.6,375.5 L1435.6,374.9 L1436.6,374.4 L1437.6,373.9 L1438.6,373.4 L1439.6,373.0 L1440.6,372.6 L1441.6,372.3 L1442.6,372.0 L1443.6,371.8 L1444.6,371.6 L1445.6,371.4 L1446.6,371.2 L1447.6,371.1 L1448.6,370.9 L1449.6,370.8 L1450.6,370.7 L1451.6,370.7 L1452.6,370.7 L1453.6,370.8 L1454.6,371.0 L1455.6,371.2 L1456.6,371.5 L1457.6,371.9 L1458.6,372.3 L1459.6,372.7 L1460.6,373.2 L1461.6,373.6 L1462.6,374.1 L1463.6,374.6 L1464.6,375.1 L1465.6,375.6 L1466.6,376.2 L1467.6,376.7 L1468.6,377.3 L1469.6,377.8 L1470.6,378.4 L1471.6,379.0 L1472.6,379.7 L1473.6,380.3 L1474.6,381.0 L1475.6,381.6 L1476.6,382.3 L1477.6,383.0 L1478.6,383.7 L1479.6,384.5 L1480.6,385.2 L1481.6,386.0 L1482.6,386.9 L1483.6,387.7 L1484.6,388.6 L1485.6,389.6 L1486.6,390.5 L1487.6,391.5 L1488.6,392.5 L1489.6,393.5 L1490.6,394.5 L1491.6,395.5 L1492.6,396.5 L1493.6,397.5 L1494.6,398.5 L1495.6,399.5 L1496.6,400.4 L1497.6,401.4 L1498.6,402.4 L1499.6,403.4 L1500.6,404.4 L1501.6,405.3 L1502.6,406.3 L1503.6,407.2 L1504.6,408.2 L1505.6,409.1 L1506.6,410.0 L1507.6,410.8 L1508.6,411.7 L1509.6,412.5 L1510.6,413.2 L1511.6,414.0 L1512.6,414.7 L1513.6,415.5 L1514.6,416.2 L1515.6,416.9 L1516.6,417.7 L1517.6,418.4 L1518.6,419.1 L1519.6,419.8 L1520.6,420.5 L1521.6,421.2 L1522.6,421.9 L1523.6,422.6 L1524.6,423.2 L1525.6,423.8 L1526.6,424.4 L1527.6,424.9 L1528.6,425.4 L1529.6,425.9 L1530.6,426.3 L1531.6,426.8 L1532.6,427.2 L1533.6,427.7 L1534.6,428.1 L1535.6,428.6 L1536.6,429.0 L1537.6,429.4 L1538.6,429.8 L1539.6,430.3 L1540.6,430.7 L1541.6,431.1 L1542.6,431.5 L1543.6,431.9 L1544.6,432.3 L1545.6,432.7 L1546.6,433.0 L1547.6,433.4 L1548.6,433.8 L1549.6,434.1 L1550.6,434.5 L1551.6,434.9 L1552.6,435.2 L1553.6,435.6 L1554.6,435.9 L1555.6,436.3 L1556.6,436.7 L1557.6,437.0 L1558.6,437.4 L1559.6,437.7 L1560.6,438.1 L1561.6,438.5 L1562.6,438.8 L1563.6,439.2 L1564.6,439.5 L1565.6,439.9 L1566.6,440.2 L1567.6,440.6 L1568.6,441.0 L1569.6,441.3 L1570.6,441.7 L1571.6,442.1 L1572.6,442.5 L1573.6,442.8 L1574.6,443.2 L1575.6,443.6 L1576.6,444.1 L1577.6,444.5 L1578.6,444.9 L1579.6,445.3 L1580.6,445.7 L1581.6,446.1 L1582.6,446.6 L1583.6,447.0 L1584.6,447.4 L1585.6,447.9 L1586.6,448.4 L1587.6,448.8 L1588.6,449.3 L1589.6,449.8 L1590.6,450.3 L1591.6,450.8 L1592.6,451.3 L1593.6,451.8 L1594.6,452.4 L1595.6,452.9 L1596.6,453.5 L1597.6,454.1 L1598.6,454.7 L1599.6,455.3 L1600.6,456.0 L1601.6,456.6 L1602.6,457.3 L1603.6,458.0 L1604.6,458.7 L1605.6,459.5 L1606.6,460.2 L1607.6,460.9 L1608.6,461.6 L1609.6,462.4 L1610.6,463.1 L1611.6,463.9 L1612.6,464.7 L1613.6,465.4 L1614.6,466.2 L1615.6,467.1 L1616.6,467.9 L1617.6,468.7 L1618.6,469.6 L1619.6,470.4 L1620.6,471.3 L1621.6,472.1 L1622.6,473.0 L1623.6,473.8 L1624.6,474.7 L1625.6,475.6 L1626.6,476.5 L1627.6,477.4 L1628.6,478.4 L1629.6,479.3 L1630.6,480.3 L1631.6,481.3 L1632.6,482.2 L1633.6,483.2 L1634.6,484.2 L1635.6,485.2 L1636.6,486.3 L1637.6,487.3 L1638.6,488.3 L1639.6,489.3 L1640.6,490.3 L1641.6,491.2 L1642.6,492.2 L1643.6,493.2 L1644.6,494.1 L1645.6,495.1 L1646.6,496.0 L1647.6,496.9 L1648.6,497.8 L1649.6,498.7 L1650.6,499.5 L1651.6,500.4 L1652.6,501.3 L1653.6,502.2 L1654.6,503.0 L1655.6,503.9 L1656.6,504.8 L1657.6,505.6 L1658.6,506.5 L1659.6,507.4 L1660.6,508.2 L1661.6,509.1 L1662.6,510.0 L1663.6,510.8 L1664.6,511.7 L1665.6,512.5 L1666.6,513.3 L1667.6,514.2 L1668.6,515.0 L1669.6,515.9 L1670.6,516.7 L1671.6,517.5 L1672.6,518.4 L1673.6,519.2 L1674.6,520.0 L1675.6,520.9 L1676.6,521.7 L1677.6,522.5 L1678.6,523.2 L1679.6,524.0 L1680.6,524.7 L1681.6,525.4 L1682.6,526.1 L1683.6,526.7 L1684.6,527.3 L1685.6,528.0 L1686.6,528.6 L1687.6,529.2 L1688.6,529.8 L1689.6,530.4 L1690.6,531.0 L1691.6,531.7 L1692.6,532.3 L1693.6,532.9 L1694.6,533.6 L1695.6,534.3 L1696.6,534.9 L1697.6,535.6 L1698.6,536.3 L1699.6,537.0 L1700.6,537.7 L1701.6,538.4 L1702.6,539.1 L1703.6,539.8 L1704.6,540.5 L1705.6,541.3 L1706.6,542.0 L1707.6,542.7 L1708.6,543.5 L1709.6,544.3 L1710.6,545.0 L1711.6,545.8 L1712.6,546.6 L1713.6,547.4 L1714.6,548.2 L1715.6,549.0 L1716.6,549.8 L1717.6,550.6 L1718.6,551.4 L1719.6,552.2 L1720.6,553.1 L1721.6,553.9 L1722.6,554.8 L1723.6,555.7 L1724.6,556.6 L1725.6,557.5 L1726.6,558.4 L1727.6,559.3 L1728.6,560.2 L1729.6,561.1 L1730.6,562.0 L1731.6,562.9 L1732.6,563.8 L1733.6,564.6 L1734.6,565.5 L1735.6,566.3 L1736.6,567.2 L1737.6,568.0 L1738.6,568.8 L1739.6,569.6 L1740.6,570.4 L1741.6,571.2 L1742.6,572.0 L1743.6,572.7 L1744.6,573.5 L1745.6,574.2 L1746.6,574.9 L1747.6,575.6 L1748.6,576.2 L1749.6,576.8 L1750.6,577.4 L1751.6,578.0 L1752.6,578.5 L1753.6,579.0 L1754.6,579.5 L1755.6,580.0 L1756.6,580.5 L1757.6,581.0 L1758.6,581.5 L1759.6,582.0 L1760.6,582.4 L1761.6,582.9 L1762.6,583.3 L1763.6,583.8 L1764.6,584.2 L1765.6,584.6 L1766.6,585.0 L1767.6,585.4 L1768.6,585.8 L1769.6,586.2 L1770.6,586.6 L1771.6,587.0 L1772.6,587.4 L1773.6,587.8 L1774.6,588.2 L1775.6,588.5 L1776.6,588.9 L1777.6,589.3 L1778.6,589.6 L1779.6,590.0 L1780.6,590.3 L1781.6,590.7 L1782.6,591.0 L1783.6,591.4 L1784.6,591.7 L1785.6,592.1 L1786.6,592.4 L1787.6,592.7 L1788.6,593.0 L1789.6,593.3 L1790.6,593.6 L1791.6,593.9 L1792.6,594.2 L1793.6,594.4 L1794.6,594.7 L1795.6,594.9 L1796.6,595.2 L1797.6,595.4 L1798.6,595.7 L1799.6,595.9 L1800.6,596.1 L1801.6,596.3 L1802.6,596.5 L1803.6,596.7 L1804.6,596.9 L1805.6,597.1 L1806.6,597.3 L1807.6,597.4 L1808.6,597.6 L1809.6,597.7 L1810.6,597.9 L1811.6,598.0 L1812.6,598.2 L1813.6,598.4 L1814.6,598.5 L1815.6,598.7 L1816.6,598.8 L1817.6,599.0 L1818.6,599.1 L1819.6,599.3 L1820.6,599.4 L1821.6,599.6 L1822.6,599.7 L1823.6,599.8 L1824.6,600.0 L1825.6,600.1 L1826.6,600.3 L1827.6,600.4 L1828.6,600.5 L1829.6,600.7 L1830.6,600.8 L1831.6,600.9 L1832.6,601.0 L1833.6,601.1 L1834.6,601.2 L1835.6,601.3 L1836.6,601.4 L1837.6,601.5 L1838.6,601.6 L1839.6,601.7 L1840.6,601.8 L1841.6,601.9 L1842.6,602.0 L1843.6,602.1 L1844.6,602.1 L1845.6,602.2 L1846.6,602.2 L1847.6,602.3 L1848.6,602.3 L1849.6,602.4 L1850.6,602.4 L1851.6,602.5 L1852.6,602.5 L1853.6,602.6 L1854.6,602.6 L1855.6,602.7 L1856.6,602.7 L1857.6,602.8 L1858.6,602.8 L1859.6,602.9 L1860.6,602.9 L1861.6,603.0 L1862.6,603.0 L1863.6,603.1 L1864.6,603.1 L1865.6,603.2 L1866.6,603.2 L1867.6,603.3 L1868.6,603.3 L1869.6,603.4 L1870.6,603.4 L1871.6,603.5 L1872.6,603.5 L1873.6,603.6 L1874.6,603.6 L1875.6,603.7 L1876.6,603.7 L1877.6,603.8 L1878.6,603.8 L1879.6,603.9 L1880.6,603.9 L1881.6,604.0 L1882.6,604.0 L1883.6,604.1 L1884.6,604.1 L1885.6,604.2 L1886.6,604.2 L1887.6,604.3 L1888.6,604.3 L1889.6,604.4 L1890.6,604.4 L1891.6,604.5 L1892.6,604.6 L1893.6,604.6 L1894.6,604.7 L1895.6,604.7 L1896.6,604.8 L1897.6,604.8 L1898.6,604.8 L1899.6,604.9 L1900.6,604.9 L1901.6,605.0 L1902.6,605.0 L1903.6,605.1 L1904.6,605.1 L1905.6,605.2 L1906.6,605.2 L1907.6,605.3 L1908.6,605.3 L1909.6,605.3 L1910.6,605.4 L1911.6,605.4 L1912.6,605.5 L1913.6,605.5 L1914.6,605.6 L1915.6,605.6 L1916.6,605.7 L1917.6,605.7 L1918.6,605.8 L1919.6,605.8 L1920.6,605.9 L1921.6,606.0 L1922.6,606.0 L1923.6,606.1 L1924.6,606.1 L1925.6,606.2 L1926.6,606.2 L1927.6,606.3 L1928.6,606.3 L1929.6,606.4 L1930.6,606.4 L1931.6,606.5 L1932.6,606.5 L1933.6,606.6 L1934.6,606.6 L1935.6,606.7 L1936.6,606.7 L1937.6,606.8 L1938.6,606.8 L1939.6,606.8 L1940.6,606.9 L1941.6,606.9 L1942.6,606.9 L1943.6,607.0 L1944.6,607.0 L1945.6,607.0 L1946.6,607.1 L1947.6,607.1 L1948.6,607.1 L1949.6,607.2 L1950.6,607.2 L1951.6,607.2 L1952.6,607.3 L1953.6,607.3 L1954.6,607.3 L1955.6,607.4 L1956.6,607.4 L1957.6,607.4 L1958.6,607.4 L1959.6,607.5 L1960.0,607.5" fill="none" stroke="#e9822f" stroke-width="4.2" stroke-linejoin="round" stroke-linecap="round" clip-path="url(#clipb)"/>
<path d="M1225.6,608.0 L1226.6,607.8 L1227.6,607.5 L1228.6,607.3 L1229.6,607.0 L1230.6,606.8 L1231.6,606.6 L1232.6,606.3 L1233.6,606.1 L1234.6,605.9 L1235.6,605.6 L1236.6,605.4 L1237.6,605.1 L1238.6,604.9 L1239.6,604.7 L1240.6,604.4 L1241.6,604.2 L1242.6,603.9 L1243.6,603.7 L1244.6,603.5 L1245.6,603.2 L1246.6,603.0 L1247.6,602.8 L1248.6,602.5 L1249.6,602.3 L1250.6,602.0 L1251.6,601.8 L1252.6,601.6 L1253.6,601.3 L1254.6,601.1 L1255.6,600.8 L1256.6,600.6 L1257.6,600.3 L1258.6,600.1 L1259.6,599.8 L1260.6,599.5 L1261.6,599.2 L1262.6,598.8 L1263.6,598.5 L1264.6,598.1 L1265.6,597.7 L1266.6,597.2 L1267.6,596.8 L1268.6,596.4 L1269.6,595.9 L1270.6,595.5 L1271.6,595.0 L1272.6,594.6 L1273.6,594.1 L1274.6,593.7 L1275.6,593.2 L1276.6,592.8 L1277.6,592.3 L1278.6,591.9 L1279.6,591.5 L1280.6,591.0 L1281.6,590.6 L1282.6,590.1 L1283.6,589.6 L1284.6,589.2 L1285.6,588.7 L1286.6,588.2 L1287.6,587.7 L1288.6,587.2 L1289.6,586.6 L1290.6,586.1 L1291.6,585.4 L1292.6,584.8 L1293.6,584.1 L1294.6,583.4 L1295.6,582.7 L1296.6,582.0 L1297.6,581.2 L1298.6,580.5 L1299.6,579.8 L1300.6,579.0 L1301.6,578.3 L1302.6,577.5 L1303.6,576.8 L1304.6,576.1 L1305.6,575.3 L1306.6,574.6 L1307.6,573.8 L1308.6,573.0 L1309.6,572.2 L1310.6,571.4 L1311.6,570.6 L1312.6,569.8 L1313.6,568.9 L1314.6,568.0 L1315.6,567.1 L1316.6,566.2 L1317.6,565.3 L1318.6,564.4 L1319.6,563.5 L1320.6,562.6 L1321.6,561.6 L1322.6,560.7 L1323.6,559.8 L1324.6,558.9 L1325.6,558.0 L1326.6,557.0 L1327.6,556.1 L1328.6,555.2 L1329.6,554.3 L1330.6,553.4 L1331.6,552.5 L1332.6,551.6 L1333.6,550.8 L1334.6,549.9 L1335.6,549.0 L1336.6,548.2 L1337.6,547.3 L1338.6,546.5 L1339.6,545.6 L1340.6,544.8 L1341.6,543.9 L1342.6,543.1 L1343.6,542.2 L1344.6,541.4 L1345.6,540.5 L1346.6,539.7 L1347.6,538.8 L1348.6,537.9 L1349.6,537.0 L1350.6,536.1 L1351.6,535.2 L1352.6,534.2 L1353.6,533.1 L1354.6,532.1 L1355.6,530.9 L1356.6,529.8 L1357.6,528.6 L1358.6,527.4 L1359.6,526.2 L1360.6,524.9 L1361.6,523.7 L1362.6,522.4 L1363.6,521.1 L1364.6,519.8 L1365.6,518.5 L1366.6,517.1 L1367.6,515.7 L1368.6,514.3 L1369.6,512.8 L1370.6,511.3 L1371.6,509.7 L1372.6,508.2 L1373.6,506.6 L1374.6,505.0 L1375.6,503.4 L1376.6,501.8 L1377.6,500.2 L1378.6,498.7 L1379.6,497.1 L1380.6,495.5 L1381.6,493.9 L1382.6,492.4 L1383.6,490.8 L1384.6,489.3 L1385.6,487.7 L1386.6,486.2 L1387.6,484.7 L1388.6,483.2 L1389.6,481.7 L1390.6,480.2 L1391.6,478.7 L1392.6,477.2 L1393.6,475.7 L1394.6,474.2 L1395.6,472.7 L1396.6,471.2 L1397.6,469.7 L1398.6,468.2 L1399.6,466.7 L1400.6,465.2 L1401.6,463.7 L1402.6,462.2 L1403.6,460.7 L1404.6,459.2 L1405.6,457.7 L1406.6,456.2 L1407.6,454.6 L1408.6,453.1 L1409.6,451.5 L1410.6,449.9 L1411.6,448.3 L1412.6,446.6 L1413.6,445.0 L1414.6,443.3 L1415.6,441.7 L1416.6,440.0 L1417.6,438.3 L1418.6,436.6 L1419.6,435.0 L1420.6,433.3 L1421.6,431.6 L1422.6,430.0 L1423.6,428.3 L1424.6,426.6 L1425.6,424.9 L1426.6,423.3 L1427.6,421.6 L1428.6,420.0 L1429.6,418.3 L1430.6,416.6 L1431.6,415.0 L1432.6,413.3 L1433.6,411.6 L1434.6,410.0 L1435.6,408.3 L1436.6,406.6 L1437.6,405.0 L1438.6,403.3 L1439.6,401.6 L1440.6,400.0 L1441.6,398.3 L1442.6,396.7 L1443.6,395.0 L1444.6,393.4 L1445.6,391.8 L1446.6,390.1 L1447.6,388.5 L1448.6,387.0 L1449.6,385.4 L1450.6,383.9 L1451.6,382.3 L1452.6,380.8 L1453.6,379.3 L1454.6,377.8 L1455.6,376.4 L1456.6,374.9 L1457.6,373.5 L1458.6,372.2 L1459.6,370.9 L1460.6,369.7 L1461.6,368.6 L1462.6,367.5 L1463.6,366.6 L1464.6,365.6 L1465.6,364.7 L1466.6,363.9 L1467.6,363.0 L1468.6,362.2 L1469.6,361.4 L1470.6,360.7 L1471.6,359.9 L1472.6,359.2 L1473.6,358.5 L1474.6,357.9 L1475.6,357.3 L1476.6,356.7 L1477.6,356.1 L1478.6,355.6 L1479.6,355.1 L1480.6,354.6 L1481.6,354.1 L1482.6,353.6 L1483.6,353.1 L1484.6,352.6 L1485.6,352.1 L1486.6,351.6 L1487.6,351.2 L1488.6,350.8 L1489.6,350.5 L1490.6,350.2 L1491.6,349.9 L1492.6,349.7 L1493.6,349.5 L1494.6,349.4 L1495.6,349.3 L1496.6,349.2 L1497.6,349.1 L1498.6,349.1 L1499.6,349.0 L1500.6,348.9 L1501.6,348.9 L1502.6,348.9 L1503.6,348.9 L1504.6,348.9 L1505.6,349.0 L1506.6,349.0 L1507.6,349.1 L1508.6,349.3 L1509.6,349.4 L1510.6,349.6 L1511.6,349.8 L1512.6,350.0 L1513.6,350.2 L1514.6,350.4 L1515.6,350.7 L1516.6,351.0 L1517.6,351.4 L1518.6,351.7 L1519.6,352.2 L1520.6,352.6 L1521.6,353.1 L1522.6,353.5 L1523.6,354.0 L1524.6,354.5 L1525.6,355.1 L1526.6,355.6 L1527.6,356.2 L1528.6,356.7 L1529.6,357.4 L1530.6,358.1 L1531.6,358.9 L1532.6,359.7 L1533.6,360.6 L1534.6,361.6 L1535.6,362.7 L1536.6,363.8 L1537.6,364.9 L1538.6,366.0 L1539.6,367.2 L1540.6,368.4 L1541.6,369.5 L1542.6,370.7 L1543.6,372.0 L1544.6,373.2 L1545.6,374.5 L1546.6,375.7 L1547.6,377.0 L1548.6,378.3 L1549.6,379.6 L1550.6,380.9 L1551.6,382.2 L1552.6,383.5 L1553.6,384.8 L1554.6,386.1 L1555.6,387.3 L1556.6,388.4 L1557.6,389.6 L1558.6,390.6 L1559.6,391.6 L1560.6,392.6 L1561.6,393.5 L1562.6,394.4 L1563.6,395.3 L1564.6,396.2 L1565.6,397.1 L1566.6,398.0 L1567.6,398.9 L1568.6,399.8 L1569.6,400.8 L1570.6,401.8 L1571.6,402.9 L1572.6,404.0 L1573.6,405.3 L1574.6,406.6 L1575.6,407.9 L1576.6,409.3 L1577.6,410.8 L1578.6,412.2 L1579.6,413.7 L1580.6,415.2 L1581.6,416.7 L1582.6,418.2 L1583.6,419.8 L1584.6,421.3 L1585.6,422.9 L1586.6,424.4 L1587.6,426.0 L1588.6,427.6 L1589.6,429.2 L1590.6,430.8 L1591.6,432.4 L1592.6,434.0 L1593.6,435.6 L1594.6,437.2 L1595.6,438.8 L1596.6,440.4 L1597.6,441.9 L1598.6,443.5 L1599.6,445.1 L1600.6,446.7 L1601.6,448.3 L1602.6,449.8 L1603.6,451.4 L1604.6,452.9 L1605.6,454.4 L1606.6,455.9 L1607.6,457.3 L1608.6,458.8 L1609.6,460.2 L1610.6,461.5 L1611.6,462.9 L1612.6,464.2 L1613.6,465.6 L1614.6,466.9 L1615.6,468.2 L1616.6,469.4 L1617.6,470.7 L1618.6,471.9 L1619.6,473.1 L1620.6,474.2 L1621.6,475.3 L1622.6,476.4 L1623.6,477.4 L1624.6,478.5 L1625.6,479.5 L1626.6,480.5 L1627.6,481.4 L1628.6,482.4 L1629.6,483.3 L1630.6,484.2 L1631.6,485.1 L1632.6,485.9 L1633.6,486.6 L1634.6,487.4 L1635.6,488.1 L1636.6,488.7 L1637.6,489.4 L1638.6,490.0 L1639.6,490.7 L1640.6,491.3 L1641.6,491.9 L1642.6,492.5 L1643.6,493.2 L1644.6,493.8 L1645.6,494.4 L1646.6,495.0 L1647.6,495.7 L1648.6,496.3 L1649.6,496.9 L1650.6,497.5 L1651.6,498.2 L1652.6,498.8 L1653.6,499.4 L1654.6,500.1 L1655.6,500.7 L1656.6,501.3 L1657.6,502.0 L1658.6,502.6 L1659.6,503.2 L1660.6,503.8 L1661.6,504.5 L1662.6,505.1 L1663.6,505.7 L1664.6,506.4 L1665.6,507.0 L1666.6,507.7 L1667.6,508.3 L1668.6,509.0 L1669.6,509.6 L1670.6,510.3 L1671.6,510.9 L1672.6,511.6 L1673.6,512.3 L1674.6,512.9 L1675.6,513.6 L1676.6,514.2 L1677.6,514.8 L1678.6,515.4 L1679.6,516.0 L1680.6,516.6 L1681.6,517.2 L1682.6,517.7 L1683.6,518.2 L1684.6,518.7 L1685.6,519.2 L1686.6,519.7 L1687.6,520.2 L1688.6,520.7 L1689.6,521.3 L1690.6,521.8 L1691.6,522.3 L1692.6,522.8 L1693.6,523.4 L1694.6,523.9 L1695.6,524.5 L1696.6,525.0 L1697.6,525.6 L1698.6,526.2 L1699.6,526.8 L1700.6,527.4 L1701.6,528.0 L1702.6,528.6 L1703.6,529.2 L1704.6,529.8 L1705.6,530.4 L1706.6,531.0 L1707.6,531.6 L1708.6,532.2 L1709.6,532.8 L1710.6,533.4 L1711.6,534.0 L1712.6,534.6 L1713.6,535.2 L1714.6,535.8 L1715.6,536.4 L1716.6,537.0 L1717.6,537.5 L1718.6,538.1 L1719.6,538.6 L1720.6,539.1 L1721.6,539.6 L1722.6,540.1 L1723.6,540.6 L1724.6,541.0 L1725.6,541.4 L1726.6,541.8 L1727.6,542.3 L1728.6,542.7 L1729.6,543.1 L1730.6,543.5 L1731.6,543.9 L1732.6,544.2 L1733.6,544.6 L1734.6,545.0 L1735.6,545.3 L1736.6,545.6 L1737.6,546.0 L1738.6,546.3 L1739.6,546.6 L1740.6,546.9 L1741.6,547.2 L1742.6,547.5 L1743.6,547.8 L1744.6,548.1 L1745.6,548.5 L1746.6,548.8 L1747.6,549.1 L1748.6,549.5 L1749.6,549.8 L1750.6,550.2 L1751.6,550.6 L1752.6,551.0 L1753.6,551.4 L1754.6,551.8 L1755.6,552.2 L1756.6,552.6 L1757.6,553.0 L1758.6,553.4 L1759.6,553.8 L1760.6,554.2 L1761.6,554.7 L1762.6,555.1 L1763.6,555.6 L1764.6,556.1 L1765.6,556.6 L1766.6,557.1 L1767.6,557.6 L1768.6,558.1 L1769.6,558.6 L1770.6,559.1 L1771.6,559.6 L1772.6,560.1 L1773.6,560.6 L1774.6,561.2 L1775.6,561.7 L1776.6,562.3 L1777.6,562.8 L1778.6,563.4 L1779.6,564.0 L1780.6,564.6 L1781.6,565.2 L1782.6,565.8 L1783.6,566.4 L1784.6,567.0 L1785.6,567.6 L1786.6,568.2 L1787.6,568.8 L1788.6,569.4 L1789.6,569.9 L1790.6,570.6 L1791.6,571.2 L1792.6,571.8 L1793.6,572.4 L1794.6,573.0 L1795.6,573.6 L1796.6,574.2 L1797.6,574.8 L1798.6,575.4 L1799.6,576.0 L1800.6,576.6 L1801.6,577.2 L1802.6,577.8 L1803.6,578.4 L1804.6,579.0 L1805.6,579.6 L1806.6,580.2 L1807.6,580.8 L1808.6,581.4 L1809.6,582.0 L1810.6,582.6 L1811.6,583.2 L1812.6,583.7 L1813.6,584.3 L1814.6,584.9 L1815.6,585.5 L1816.6,586.0 L1817.6,586.5 L1818.6,587.1 L1819.6,587.6 L1820.6,588.1 L1821.6,588.6 L1822.6,589.1 L1823.6,589.6 L1824.6,590.1 L1825.6,590.6 L1826.6,591.1 L1827.6,591.6 L1828.6,592.1 L1829.6,592.6 L1830.6,593.1 L1831.6,593.6 L1832.6,594.1 L1833.6,594.6 L1834.6,595.1 L1835.6,595.6 L1836.6,596.1 L1837.6,596.6 L1838.6,597.1 L1839.6,597.6 L1840.6,598.1 L1841.6,598.5 L1842.6,599.0 L1843.6,599.4 L1844.6,599.9 L1845.6,600.3 L1846.6,600.7 L1847.6,601.1 L1848.6,601.6 L1849.6,602.0 L1850.6,602.4 L1851.6,602.8 L1852.6,603.1 L1853.6,603.5 L1854.6,603.9 L1855.6,604.2 L1856.6,604.5 L1857.6,604.8 L1858.6,605.1 L1859.6,605.3 L1860.6,605.6 L1861.6,605.8 L1862.6,606.0 L1863.6,606.2 L1864.6,606.4 L1865.6,606.6 L1866.6,606.7 L1867.6,606.9 L1868.6,607.1 L1869.6,607.2 L1870.6,607.3 L1871.6,607.5 L1872.6,607.5 L1873.6,607.6 L1874.6,607.7 L1875.6,607.8 L1876.6,607.8 L1877.6,607.9 L1878.6,607.9 L1879.6,608.0 L1880.6,608.0 L1881.6,608.1 L1882.6,608.1 L1883.6,608.1 L1884.6,608.2 L1885.6,608.2 L1886.6,608.2 L1887.6,608.2 L1888.6,608.3 L1889.6,608.3 L1890.6,608.3 L1891.6,608.3 L1892.6,608.3 L1893.6,608.3 L1894.6,608.4 L1895.6,608.4 L1896.6,608.4 L1897.6,608.4 L1898.6,608.4 L1899.6,608.4 L1900.6,608.4 L1901.6,608.5 L1902.6,608.5 L1903.6,608.5 L1904.6,608.5 L1905.6,608.5 L1906.6,608.5 L1907.6,608.5 L1908.6,608.6 L1909.6,608.6 L1910.6,608.6 L1911.6,608.6 L1912.6,608.6 L1913.6,608.6 L1914.6,608.6 L1915.6,608.6 L1916.6,608.6 L1917.6,608.6 L1918.6,608.6 L1919.6,608.6 L1920.6,608.6 L1921.6,608.6 L1922.6,608.6 L1923.6,608.6 L1924.6,608.6 L1925.6,608.6 L1926.6,608.6 L1927.6,608.6 L1928.6,608.6 L1929.6,608.6 L1930.6,608.6 L1931.6,608.6 L1932.6,608.6 L1933.6,608.6 L1934.6,608.6 L1935.6,608.6 L1936.6,608.6 L1937.6,608.6 L1938.6,608.6 L1939.6,608.6 L1940.6,608.6 L1941.6,608.6 L1942.6,608.6 L1943.6,608.6 L1944.6,608.6 L1945.6,608.6 L1946.6,608.6 L1947.6,608.6 L1948.6,608.6 L1949.6,608.6 L1950.6,608.6 L1951.6,608.6 L1952.6,608.6 L1953.6,608.6 L1954.6,608.6 L1955.6,608.6 L1956.6,608.6 L1957.6,608.6 L1958.6,608.6 L1959.6,608.6 L1960.0,608.6" fill="none" stroke="#7b2f95" stroke-width="4.2" stroke-linejoin="round" stroke-linecap="round" clip-path="url(#clipb)"/>
<path d="M1225.6,72.6 H1959.2" fill="none" stroke="#262626" stroke-width="2"/>
<path d="M1959.2,71.6 V609" fill="none" stroke="#111" stroke-width="2.1"/>
<path d="M1225.6,71.6 V609" fill="none" stroke="#000" stroke-width="2.4"/>
<path d="M1224.3999999999999,609 H1960.4" fill="none" stroke="#000" stroke-width="3"/>
<text x="1225.6" y="656.3" font-size="31" fill="#404040" text-anchor="middle" >0</text>
<text x="1359.0" y="656.3" font-size="31" fill="#404040" text-anchor="middle" >1</text>
<text x="1492.4" y="656.3" font-size="31" fill="#404040" text-anchor="middle" >2</text>
<text x="1625.7" y="656.3" font-size="31" fill="#404040" text-anchor="middle" >3</text>
<text x="1759.1" y="656.3" font-size="31" fill="#404040" text-anchor="middle" >4</text>
<text x="1892.5" y="656.3" font-size="31" fill="#404040" text-anchor="middle" >5</text>
<text x="1210.9" y="622.2" font-size="31" fill="#000" text-anchor="end" >0</text>
<text x="1210.9" y="488.1" font-size="31" fill="#000" text-anchor="end" >3</text>
<text x="1210.9" y="354.0" font-size="31" fill="#000" text-anchor="end" >6</text>
<text x="1210.9" y="219.9" font-size="31" fill="#000" text-anchor="end" >9</text>
<text x="1210.9" y="85.8" font-size="31" fill="#000" text-anchor="end" >12</text>
<text x="1973.2" y="622.2" font-size="31" fill="#000" text-anchor="start" >0</text>
<text x="1973.2" y="488.1" font-size="31" fill="#000" text-anchor="start" >0.25</text>
<text x="1973.2" y="354.0" font-size="31" fill="#000" text-anchor="start" >0.5</text>
<text x="1973.2" y="219.9" font-size="31" fill="#000" text-anchor="start" >0.75</text>
<text x="1973.2" y="85.8" font-size="31" fill="#000" text-anchor="start" >1</text>
<text x="1157.3" y="342.3" font-size="38" fill="#000" text-anchor="middle" transform="rotate(-90 1157.3 342.3)">Number of angiosperm sites</text>
<text x="2086.5" y="341.5" font-size="38" fill="#000" text-anchor="middle" transform="rotate(-90 2086.5 341.5)">Kernel density</text>
<text x="1588.6" y="708.5" font-size="38" fill="#404040" text-anchor="middle" >ln(Rt+1)</text>
<text x="1131.0" y="32.2" font-size="37" fill="#000" text-anchor="start" font-weight="bold" >b</text>
<text x="1216.5" y="31.0" font-size="38.3" fill="#000" text-anchor="start" >Temporal change of angiosperm resistance</text>
<circle cx="1725.8" cy="123.0" r="8.9" fill="#a0a0a0"/>
<text x="1763.0" y="134.9" font-size="31" fill="#000" text-anchor="start" >Before 1950</text>
<circle cx="1725.8" cy="165.4" r="8.9" fill="#4674bf"/>
<text x="1763.0" y="177.3" font-size="31" fill="#000" text-anchor="start" >1950-1969</text>
<circle cx="1725.8" cy="207.8" r="8.9" fill="#eb8434"/>
<text x="1763.0" y="219.7" font-size="31" fill="#000" text-anchor="start" >1970-1989</text>
<circle cx="1725.8" cy="250.2" r="8.9" fill="#7d3a9e"/>
<text x="1763.0" y="262.1" font-size="31" fill="#000" text-anchor="start" >1990-2009</text>
<rect x="1361.2" y="78.6" width="290.29999999999995" height="122.5" fill="#fff" stroke="#454545" stroke-width="2"/>
<text x="1361.2" y="239.5" font-size="23" fill="#404040" text-anchor="middle" >-2</text>
<text x="1506.3" y="239.5" font-size="23" fill="#404040" text-anchor="middle" >0</text>
<text x="1651.5" y="239.5" font-size="23" fill="#404040" text-anchor="middle" >2</text>
<path d="M1361.2,78.6 v5 M1361.2,201.1 v-5 M1506.3,78.6 v5 M1506.3,201.1 v-5 M1651.5,78.6 v5 M1651.5,201.1 v-5 M1361.2,121.5 h5 M1651.5,121.5 h-5 M1361.2,159.7 h5 M1651.5,159.7 h-5" stroke="#333" stroke-width="1.6" fill="none"/>
<text x="1508.0" y="275.0" font-size="27.3" fill="#404040" text-anchor="middle" textLength="277">Relative to 1950-1969</text>
<path d="M1506.3,79.6 V200.1" stroke="#d8d84c" stroke-width="2.2"/>
<path d="M1361.2,122.0 H1448.3 M1541.9,122.0 H1615.2" stroke="#7030a0" stroke-width="4.4" stroke-linecap="round"/>
<rect x="1448.3" y="114.2" width="93.6" height="15.5" fill="#c2a8dc" stroke="#7030a0" stroke-width="4.2" rx="1.5"/>
<circle cx="1504.2" cy="122.0" r="5" fill="#7030a0"/>
<path d="M1510.0,116.8 V127.2" stroke="#e0d84a" stroke-width="3"/>
<path d="M1361.2,160.0 H1432.3 M1534.7,160.0 H1622.5" stroke="#ed7d31" stroke-width="4.4" stroke-linecap="round"/>
<rect x="1432.3" y="152.2" width="102.3" height="15.5" fill="#f7bc8e" stroke="#ed7d31" stroke-width="4.2" rx="1.5"/>
<circle cx="1482.4" cy="160.0" r="5" fill="#ed7d31"/>
<path d="M1489.7,154.8 V165.2" stroke="#e0d84a" stroke-width="3"/>
<text x="1397.9" y="112.0" font-size="25" fill="#613a96" text-anchor="start" font-weight="bold" >(-) 49%</text>
<text x="1543.3" y="112.0" font-size="25" fill="#613a96" text-anchor="start" font-weight="bold" >(+) 51%</text>
<text x="1397.9" y="188.3" font-size="25" fill="#e47f30" text-anchor="start" font-weight="bold" >(-) 57%</text>
<text x="1543.3" y="188.3" font-size="25" fill="#e47f30" text-anchor="start" font-weight="bold" >(+) 43%</text>
<text x="1350.2" y="131.5" font-size="24.5" fill="#613a96" text-anchor="end" >1990-2009</text>
<text x="1350.2" y="172.5" font-size="24.5" fill="#e47f30" text-anchor="end" >1970-1989</text>
<clipPath id="clipc"><rect x="97.4" y="865.4" width="733.3000000000001" height="537.9"/></clipPath>
<path d="M97.4,1403.3 v-7.5 M97.4,867.4 v7.5 M280.7,1403.3 v-7.5 M280.7,867.4 v7.5 M464.1,1403.3 v-7.5 M464.1,867.4 v7.5 M647.4,1403.3 v-7.5 M647.4,867.4 v7.5 M830.7,1403.3 v-7.5 M830.7,867.4 v7.5 M97.4,1403.3 h7.5 M97.4,1250.2 h7.5 M97.4,1097.1 h7.5 M97.4,944.0 h7.5 M830.7,1403.3 h-7.5 M830.7,1250.2 h-7.5 M830.7,1097.1 h-7.5 M830.7,944.0 h-7.5" stroke="#1a1a1a" stroke-width="2" fill="none"/>
<g clip-path="url(#clipc)">
<g fill="#a5a5a5" fill-opacity="0.5"><rect x="91.10" y="1372.68" width="12.60" height="30.62"/><rect x="109.43" y="1265.50" width="12.60" height="137.80"/><rect x="127.77" y="1234.87" width="12.60" height="168.43"/><rect x="146.10" y="1265.50" width="12.60" height="137.80"/><rect x="164.43" y="1250.19" width="12.60" height="153.11"/><rect x="182.76" y="1265.50" width="12.60" height="137.80"/><rect x="201.10" y="1188.94" width="12.60" height="214.36"/><rect x="219.43" y="1250.19" width="12.60" height="153.11"/><rect x="237.76" y="1188.94" width="12.60" height="214.36"/><rect x="256.09" y="1188.94" width="12.60" height="214.36"/><rect x="274.43" y="1188.94" width="12.60" height="214.36"/><rect x="292.76" y="1173.63" width="12.60" height="229.67"/><rect x="311.09" y="1204.25" width="12.60" height="199.05"/><rect x="329.42" y="1250.19" width="12.60" height="153.11"/><rect x="347.76" y="1265.50" width="12.60" height="137.80"/><rect x="366.09" y="1250.19" width="12.60" height="153.11"/><rect x="384.42" y="1326.74" width="12.60" height="76.56"/><rect x="402.75" y="1311.43" width="12.60" height="91.87"/><rect x="421.08" y="1357.37" width="12.60" height="45.93"/><rect x="439.42" y="1326.74" width="12.60" height="76.56"/><rect x="457.75" y="1311.43" width="12.60" height="91.87"/><rect x="476.08" y="1357.37" width="12.60" height="45.93"/><rect x="494.42" y="1372.68" width="12.60" height="30.62"/><rect x="512.75" y="1372.68" width="12.60" height="30.62"/><rect x="531.08" y="1372.68" width="12.60" height="30.62"/><rect x="549.41" y="1357.37" width="12.60" height="45.93"/><rect x="567.75" y="1372.68" width="12.60" height="30.62"/><rect x="586.08" y="1387.99" width="12.60" height="15.31"/><rect x="641.08" y="1372.68" width="12.60" height="30.62"/><rect x="659.41" y="1387.99" width="12.60" height="15.31"/></g>
<path d="M91.10,1372.68 h12.60 M109.43,1265.50 h12.60 M127.77,1234.87 h12.60 M146.10,1265.50 h12.60 M164.43,1250.19 h12.60 M182.76,1265.50 h12.60 M201.10,1188.94 h12.60 M219.43,1250.19 h12.60 M237.76,1188.94 h12.60 M256.09,1188.94 h12.60 M274.43,1188.94 h12.60 M292.76,1173.63 h12.60 M311.09,1204.25 h12.60 M329.42,1250.19 h12.60 M347.76,1265.50 h12.60 M366.09,1250.19 h12.60 M384.42,1326.74 h12.60 M402.75,1311.43 h12.60 M421.08,1357.37 h12.60 M439.42,1326.74 h12.60 M457.75,1311.43 h12.60 M476.08,1357.37 h12.60 M494.42,1372.68 h12.60 M512.75,1372.68 h12.60 M531.08,1372.68 h12.60 M549.41,1357.37 h12.60 M567.75,1372.68 h12.60 M586.08,1387.99 h12.60 M641.08,1372.68 h12.60 M659.41,1387.99 h12.60" stroke="#fff" stroke-width="1.3" fill="none"/>
<g fill="#5468b0" fill-opacity="0.5"><rect x="91.10" y="1357.37" width="12.60" height="45.93"/><rect x="109.43" y="1143.01" width="12.60" height="260.29"/><rect x="127.77" y="1158.32" width="12.60" height="244.98"/><rect x="146.10" y="1173.63" width="12.60" height="229.67"/><rect x="164.43" y="1234.87" width="12.60" height="168.43"/><rect x="182.76" y="1158.32" width="12.60" height="244.98"/><rect x="201.10" y="1188.94" width="12.60" height="214.36"/><rect x="219.43" y="1097.07" width="12.60" height="306.23"/><rect x="237.76" y="1188.94" width="12.60" height="214.36"/><rect x="256.09" y="1143.01" width="12.60" height="260.29"/><rect x="274.43" y="1173.63" width="12.60" height="229.67"/><rect x="292.76" y="1173.63" width="12.60" height="229.67"/><rect x="311.09" y="1158.32" width="12.60" height="244.98"/><rect x="329.42" y="1234.87" width="12.60" height="168.43"/><rect x="347.76" y="1265.50" width="12.60" height="137.80"/><rect x="366.09" y="1234.87" width="12.60" height="168.43"/><rect x="384.42" y="1250.19" width="12.60" height="153.11"/><rect x="402.75" y="1265.50" width="12.60" height="137.80"/><rect x="421.08" y="1357.37" width="12.60" height="45.93"/><rect x="439.42" y="1311.43" width="12.60" height="91.87"/><rect x="457.75" y="1311.43" width="12.60" height="91.87"/><rect x="476.08" y="1326.74" width="12.60" height="76.56"/><rect x="494.42" y="1342.05" width="12.60" height="61.25"/><rect x="512.75" y="1372.68" width="12.60" height="30.62"/><rect x="531.08" y="1372.68" width="12.60" height="30.62"/><rect x="549.41" y="1342.05" width="12.60" height="61.25"/><rect x="567.75" y="1372.68" width="12.60" height="30.62"/><rect x="586.08" y="1387.99" width="12.60" height="15.31"/><rect x="622.74" y="1372.68" width="12.60" height="30.62"/><rect x="641.08" y="1372.68" width="12.60" height="30.62"/><rect x="659.41" y="1372.68" width="12.60" height="30.62"/><rect x="696.07" y="1372.68" width="12.60" height="30.62"/><rect x="714.41" y="1387.99" width="12.60" height="15.31"/><rect x="751.07" y="1357.37" width="12.60" height="45.93"/><rect x="806.07" y="1387.99" width="12.60" height="15.31"/></g>
<path d="M91.10,1357.37 h12.60 M109.43,1143.01 h12.60 M127.77,1158.32 h12.60 M146.10,1173.63 h12.60 M164.43,1234.87 h12.60 M182.76,1158.32 h12.60 M201.10,1188.94 h12.60 M219.43,1097.07 h12.60 M237.76,1188.94 h12.60 M256.09,1143.01 h12.60 M274.43,1173.63 h12.60 M292.76,1173.63 h12.60 M311.09,1158.32 h12.60 M329.42,1234.87 h12.60 M347.76,1265.50 h12.60 M366.09,1234.87 h12.60 M384.42,1250.19 h12.60 M402.75,1265.50 h12.60 M421.08,1357.37 h12.60 M439.42,1311.43 h12.60 M457.75,1311.43 h12.60 M476.08,1326.74 h12.60 M494.42,1342.05 h12.60 M512.75,1372.68 h12.60 M531.08,1372.68 h12.60 M549.41,1342.05 h12.60 M567.75,1372.68 h12.60 M586.08,1387.99 h12.60 M622.74,1372.68 h12.60 M641.08,1372.68 h12.60 M659.41,1372.68 h12.60 M696.07,1372.68 h12.60 M714.41,1387.99 h12.60 M751.07,1357.37 h12.60 M806.07,1387.99 h12.60" stroke="#fff" stroke-width="1.3" fill="none"/>
<g fill="#e08a30" fill-opacity="0.5"><rect x="91.10" y="1372.68" width="12.60" height="30.62"/><rect x="109.43" y="1265.50" width="12.60" height="137.80"/><rect x="127.77" y="1219.56" width="12.60" height="183.74"/><rect x="146.10" y="1219.56" width="12.60" height="183.74"/><rect x="164.43" y="1250.19" width="12.60" height="153.11"/><rect x="182.76" y="1127.69" width="12.60" height="275.61"/><rect x="201.10" y="1173.63" width="12.60" height="229.67"/><rect x="219.43" y="1158.32" width="12.60" height="244.98"/><rect x="237.76" y="1188.94" width="12.60" height="214.36"/><rect x="256.09" y="1112.38" width="12.60" height="290.92"/><rect x="274.43" y="1143.01" width="12.60" height="260.29"/><rect x="292.76" y="1112.38" width="12.60" height="290.92"/><rect x="311.09" y="1158.32" width="12.60" height="244.98"/><rect x="329.42" y="1250.19" width="12.60" height="153.11"/><rect x="347.76" y="1204.25" width="12.60" height="199.05"/><rect x="366.09" y="1204.25" width="12.60" height="199.05"/><rect x="384.42" y="1296.12" width="12.60" height="107.18"/><rect x="402.75" y="1311.43" width="12.60" height="91.87"/><rect x="421.08" y="1357.37" width="12.60" height="45.93"/><rect x="439.42" y="1326.74" width="12.60" height="76.56"/><rect x="457.75" y="1265.50" width="12.60" height="137.80"/><rect x="476.08" y="1342.05" width="12.60" height="61.25"/><rect x="494.42" y="1357.37" width="12.60" height="45.93"/><rect x="512.75" y="1357.37" width="12.60" height="45.93"/><rect x="531.08" y="1357.37" width="12.60" height="45.93"/><rect x="549.41" y="1342.05" width="12.60" height="61.25"/><rect x="567.75" y="1342.05" width="12.60" height="61.25"/><rect x="586.08" y="1342.05" width="12.60" height="61.25"/><rect x="604.41" y="1357.37" width="12.60" height="45.93"/><rect x="641.08" y="1372.68" width="12.60" height="30.62"/><rect x="659.41" y="1387.99" width="12.60" height="15.31"/><rect x="677.74" y="1372.68" width="12.60" height="30.62"/><rect x="696.07" y="1372.68" width="12.60" height="30.62"/><rect x="732.74" y="1326.74" width="12.60" height="76.56"/></g>
<path d="M91.10,1372.68 h12.60 M109.43,1265.50 h12.60 M127.77,1219.56 h12.60 M146.10,1219.56 h12.60 M164.43,1250.19 h12.60 M182.76,1127.69 h12.60 M201.10,1173.63 h12.60 M219.43,1158.32 h12.60 M237.76,1188.94 h12.60 M256.09,1112.38 h12.60 M274.43,1143.01 h12.60 M292.76,1112.38 h12.60 M311.09,1158.32 h12.60 M329.42,1250.19 h12.60 M347.76,1204.25 h12.60 M366.09,1204.25 h12.60 M384.42,1296.12 h12.60 M402.75,1311.43 h12.60 M421.08,1357.37 h12.60 M439.42,1326.74 h12.60 M457.75,1265.50 h12.60 M476.08,1342.05 h12.60 M494.42,1357.37 h12.60 M512.75,1357.37 h12.60 M531.08,1357.37 h12.60 M549.41,1342.05 h12.60 M567.75,1342.05 h12.60 M586.08,1342.05 h12.60 M604.41,1357.37 h12.60 M641.08,1372.68 h12.60 M659.41,1387.99 h12.60 M677.74,1372.68 h12.60 M696.07,1372.68 h12.60 M732.74,1326.74 h12.60" stroke="#fff" stroke-width="1.3" fill="none"/>
<g fill="#7a3c9c" fill-opacity="0.5"><rect x="91.10" y="1357.37" width="12.60" height="45.93"/><rect x="109.43" y="1265.50" width="12.60" height="137.80"/><rect x="127.77" y="1234.87" width="12.60" height="168.43"/><rect x="146.10" y="1265.50" width="12.60" height="137.80"/><rect x="164.43" y="1158.32" width="12.60" height="244.98"/><rect x="182.76" y="1265.50" width="12.60" height="137.80"/><rect x="201.10" y="1143.01" width="12.60" height="260.29"/><rect x="219.43" y="1250.19" width="12.60" height="153.11"/><rect x="237.76" y="1112.38" width="12.60" height="290.92"/><rect x="256.09" y="1188.94" width="12.60" height="214.36"/><rect x="274.43" y="1188.94" width="12.60" height="214.36"/><rect x="292.76" y="1188.94" width="12.60" height="214.36"/><rect x="311.09" y="1204.25" width="12.60" height="199.05"/><rect x="329.42" y="1158.32" width="12.60" height="244.98"/><rect x="347.76" y="1173.63" width="12.60" height="229.67"/><rect x="366.09" y="1250.19" width="12.60" height="153.11"/><rect x="384.42" y="1326.74" width="12.60" height="76.56"/><rect x="402.75" y="1265.50" width="12.60" height="137.80"/><rect x="421.08" y="1250.19" width="12.60" height="153.11"/><rect x="439.42" y="1326.74" width="12.60" height="76.56"/><rect x="457.75" y="1296.12" width="12.60" height="107.18"/><rect x="476.08" y="1357.37" width="12.60" height="45.93"/><rect x="494.42" y="1372.68" width="12.60" height="30.62"/><rect x="512.75" y="1342.05" width="12.60" height="61.25"/><rect x="531.08" y="1342.05" width="12.60" height="61.25"/><rect x="549.41" y="1357.37" width="12.60" height="45.93"/><rect x="567.75" y="1372.68" width="12.60" height="30.62"/><rect x="586.08" y="1387.99" width="12.60" height="15.31"/><rect x="604.41" y="1296.12" width="12.60" height="107.18"/><rect x="622.74" y="1372.68" width="12.60" height="30.62"/><rect x="641.08" y="1342.05" width="12.60" height="61.25"/><rect x="659.41" y="1342.05" width="12.60" height="61.25"/><rect x="696.07" y="1387.99" width="12.60" height="15.31"/><rect x="714.41" y="1387.99" width="12.60" height="15.31"/><rect x="732.74" y="1387.99" width="12.60" height="15.31"/><rect x="751.07" y="1387.99" width="12.60" height="15.31"/><rect x="769.40" y="1387.99" width="12.60" height="15.31"/><rect x="787.74" y="1357.37" width="12.60" height="45.93"/></g>
<path d="M91.10,1357.37 h12.60 M109.43,1265.50 h12.60 M127.77,1234.87 h12.60 M146.10,1265.50 h12.60 M164.43,1158.32 h12.60 M182.76,1265.50 h12.60 M201.10,1143.01 h12.60 M219.43,1250.19 h12.60 M237.76,1112.38 h12.60 M256.09,1188.94 h12.60 M274.43,1188.94 h12.60 M292.76,1188.94 h12.60 M311.09,1204.25 h12.60 M329.42,1158.32 h12.60 M347.76,1173.63 h12.60 M366.09,1250.19 h12.60 M384.42,1326.74 h12.60 M402.75,1265.50 h12.60 M421.08,1250.19 h12.60 M439.42,1326.74 h12.60 M457.75,1296.12 h12.60 M476.08,1357.37 h12.60 M494.42,1372.68 h12.60 M512.75,1342.05 h12.60 M531.08,1342.05 h12.60 M549.41,1357.37 h12.60 M567.75,1372.68 h12.60 M586.08,1387.99 h12.60 M604.41,1296.12 h12.60 M622.74,1372.68 h12.60 M641.08,1342.05 h12.60 M659.41,1342.05 h12.60 M696.07,1387.99 h12.60 M714.41,1387.99 h12.60 M732.74,1387.99 h12.60 M751.07,1387.99 h12.60 M769.40,1387.99 h12.60 M787.74,1357.37 h12.60" stroke="#fff" stroke-width="1.3" fill="none"/>
</g>
<path d="M97.6,1326.8 L98.6,1324.9 L99.6,1323.1 L100.6,1321.2 L101.6,1319.4 L102.6,1317.5 L103.6,1315.7 L104.6,1313.8 L105.6,1311.9 L106.6,1310.1 L107.6,1308.2 L108.6,1306.4 L109.6,1304.5 L110.6,1302.6 L111.6,1300.7 L112.6,1298.9 L113.6,1297.0 L114.6,1295.1 L115.6,1293.1 L116.6,1291.2 L117.6,1289.2 L118.6,1287.2 L119.6,1285.3 L120.6,1283.3 L121.6,1281.3 L122.6,1279.3 L123.6,1277.3 L124.6,1275.3 L125.6,1273.3 L126.6,1271.3 L127.6,1269.3 L128.6,1267.2 L129.6,1265.2 L130.6,1263.2 L131.6,1261.2 L132.6,1259.2 L133.6,1257.2 L134.6,1255.2 L135.6,1253.2 L136.6,1251.2 L137.6,1249.2 L138.6,1247.2 L139.6,1245.2 L140.6,1243.2 L141.6,1241.2 L142.6,1239.2 L143.6,1237.2 L144.6,1235.2 L145.6,1233.2 L146.6,1231.2 L147.6,1229.2 L148.6,1227.2 L149.6,1225.2 L150.6,1223.2 L151.6,1221.2 L152.6,1219.2 L153.6,1217.3 L154.6,1215.3 L155.6,1213.3 L156.6,1211.3 L157.6,1209.3 L158.6,1207.3 L159.6,1205.3 L160.6,1203.2 L161.6,1201.2 L162.6,1199.2 L163.6,1197.1 L164.6,1195.0 L165.6,1192.9 L166.6,1190.7 L167.6,1188.5 L168.6,1186.2 L169.6,1184.0 L170.6,1181.7 L171.6,1179.4 L172.6,1177.1 L173.6,1174.8 L174.6,1172.5 L175.6,1170.2 L176.6,1167.9 L177.6,1165.6 L178.6,1163.3 L179.6,1161.0 L180.6,1158.7 L181.6,1156.4 L182.6,1154.1 L183.6,1151.7 L184.6,1149.4 L185.6,1147.1 L186.6,1144.8 L187.6,1142.5 L188.6,1140.1 L189.6,1137.8 L190.6,1135.4 L191.6,1133.1 L192.6,1130.7 L193.6,1128.3 L194.6,1125.9 L195.6,1123.5 L196.6,1121.0 L197.6,1118.6 L198.6,1116.2 L199.6,1113.8 L200.6,1111.3 L201.6,1108.9 L202.6,1106.5 L203.6,1104.1 L204.6,1101.7 L205.6,1099.4 L206.6,1097.1 L207.6,1094.8 L208.6,1092.6 L209.6,1090.4 L210.6,1088.3 L211.6,1086.2 L212.6,1084.2 L213.6,1082.1 L214.6,1080.1 L215.6,1078.1 L216.6,1076.1 L217.6,1074.2 L218.6,1072.3 L219.6,1070.5 L220.6,1068.8 L221.6,1067.1 L222.6,1065.7 L223.6,1064.4 L224.6,1063.3 L225.6,1062.3 L226.6,1061.5 L227.6,1060.8 L228.6,1060.2 L229.6,1059.6 L230.6,1059.1 L231.6,1058.6 L232.6,1058.1 L233.6,1057.6 L234.6,1057.1 L235.6,1056.6 L236.6,1056.1 L237.6,1055.6 L238.6,1055.2 L239.6,1054.8 L240.6,1054.4 L241.6,1054.1 L242.6,1053.8 L243.6,1053.5 L244.6,1053.3 L245.6,1053.1 L246.6,1052.8 L247.6,1052.6 L248.6,1052.4 L249.6,1052.3 L250.6,1052.1 L251.6,1051.9 L252.6,1051.7 L253.6,1051.5 L254.6,1051.3 L255.6,1051.2 L256.6,1051.0 L257.6,1050.9 L258.6,1050.8 L259.6,1050.7 L260.6,1050.7 L261.6,1050.7 L262.6,1050.8 L263.6,1051.0 L264.6,1051.1 L265.6,1051.3 L266.6,1051.6 L267.6,1051.8 L268.6,1052.0 L269.6,1052.3 L270.6,1052.5 L271.6,1052.8 L272.6,1053.0 L273.6,1053.3 L274.6,1053.6 L275.6,1053.8 L276.6,1054.1 L277.6,1054.4 L278.6,1054.8 L279.6,1055.1 L280.6,1055.5 L281.6,1056.0 L282.6,1056.5 L283.6,1057.0 L284.6,1057.6 L285.6,1058.2 L286.6,1058.9 L287.6,1059.5 L288.6,1060.2 L289.6,1060.8 L290.6,1061.5 L291.6,1062.1 L292.6,1062.8 L293.6,1063.5 L294.6,1064.1 L295.6,1064.8 L296.6,1065.5 L297.6,1066.1 L298.6,1066.8 L299.6,1067.5 L300.6,1068.3 L301.6,1069.0 L302.6,1069.9 L303.6,1070.8 L304.6,1071.7 L305.6,1072.7 L306.6,1073.8 L307.6,1074.9 L308.6,1076.0 L309.6,1077.2 L310.6,1078.4 L311.6,1079.6 L312.6,1080.8 L313.6,1082.0 L314.6,1083.2 L315.6,1084.4 L316.6,1085.6 L317.6,1086.8 L318.6,1088.0 L319.6,1089.2 L320.6,1090.4 L321.6,1091.6 L322.6,1092.8 L323.6,1094.1 L324.6,1095.3 L325.6,1096.6 L326.6,1097.8 L327.6,1099.2 L328.6,1100.5 L329.6,1102.0 L330.6,1103.5 L331.6,1105.0 L332.6,1106.6 L333.6,1108.3 L334.6,1110.1 L335.6,1111.9 L336.6,1113.7 L337.6,1115.6 L338.6,1117.5 L339.6,1119.5 L340.6,1121.4 L341.6,1123.4 L342.6,1125.4 L343.6,1127.3 L344.6,1129.2 L345.6,1131.1 L346.6,1133.0 L347.6,1134.8 L348.6,1136.7 L349.6,1138.5 L350.6,1140.3 L351.6,1142.1 L352.6,1143.9 L353.6,1145.7 L354.6,1147.5 L355.6,1149.3 L356.6,1151.1 L357.6,1152.9 L358.6,1154.7 L359.6,1156.5 L360.6,1158.3 L361.6,1160.1 L362.6,1161.9 L363.6,1163.8 L364.6,1165.6 L365.6,1167.5 L366.6,1169.4 L367.6,1171.3 L368.6,1173.2 L369.6,1175.1 L370.6,1177.1 L371.6,1179.0 L372.6,1180.9 L373.6,1182.9 L374.6,1184.8 L375.6,1186.7 L376.6,1188.7 L377.6,1190.6 L378.6,1192.5 L379.6,1194.4 L380.6,1196.3 L381.6,1198.2 L382.6,1200.0 L383.6,1201.7 L384.6,1203.4 L385.6,1205.1 L386.6,1206.6 L387.6,1208.2 L388.6,1209.7 L389.6,1211.1 L390.6,1212.6 L391.6,1214.0 L392.6,1215.4 L393.6,1216.8 L394.6,1218.2 L395.6,1219.6 L396.6,1221.0 L397.6,1222.4 L398.6,1223.8 L399.6,1225.2 L400.6,1226.5 L401.6,1227.9 L402.6,1229.2 L403.6,1230.4 L404.6,1231.6 L405.6,1232.8 L406.6,1233.9 L407.6,1235.0 L408.6,1236.0 L409.6,1237.0 L410.6,1238.0 L411.6,1239.0 L412.6,1240.0 L413.6,1240.9 L414.6,1241.9 L415.6,1242.9 L416.6,1243.8 L417.6,1244.8 L418.6,1245.8 L419.6,1246.7 L420.6,1247.7 L421.6,1248.6 L422.6,1249.5 L423.6,1250.4 L424.6,1251.3 L425.6,1252.1 L426.6,1252.9 L427.6,1253.7 L428.6,1254.5 L429.6,1255.2 L430.6,1255.9 L431.6,1256.6 L432.6,1257.3 L433.6,1258.0 L434.6,1258.7 L435.6,1259.4 L436.6,1260.1 L437.6,1260.8 L438.6,1261.5 L439.6,1262.2 L440.6,1262.9 L441.6,1263.6 L442.6,1264.3 L443.6,1265.0 L444.6,1265.7 L445.6,1266.4 L446.6,1267.1 L447.6,1267.8 L448.6,1268.5 L449.6,1269.2 L450.6,1269.9 L451.6,1270.5 L452.6,1271.2 L453.6,1271.8 L454.6,1272.5 L455.6,1273.1 L456.6,1273.7 L457.6,1274.3 L458.6,1274.9 L459.6,1275.5 L460.6,1276.1 L461.6,1276.7 L462.6,1277.3 L463.6,1277.9 L464.6,1278.5 L465.6,1279.0 L466.6,1279.6 L467.6,1280.1 L468.6,1280.7 L469.6,1281.2 L470.6,1281.6 L471.6,1282.1 L472.6,1282.6 L473.6,1283.0 L474.6,1283.5 L475.6,1283.9 L476.6,1284.4 L477.6,1284.8 L478.6,1285.3 L479.6,1285.7 L480.6,1286.2 L481.6,1286.6 L482.6,1287.0 L483.6,1287.5 L484.6,1287.9 L485.6,1288.3 L486.6,1288.7 L487.6,1289.1 L488.6,1289.5 L489.6,1290.0 L490.6,1290.4 L491.6,1290.8 L492.6,1291.2 L493.6,1291.6 L494.6,1292.0 L495.6,1292.4 L496.6,1292.8 L497.6,1293.2 L498.6,1293.6 L499.6,1294.0 L500.6,1294.4 L501.6,1294.8 L502.6,1295.2 L503.6,1295.6 L504.6,1296.0 L505.6,1296.4 L506.6,1296.8 L507.6,1297.1 L508.6,1297.5 L509.6,1297.9 L510.6,1298.3 L511.6,1298.7 L512.6,1299.1 L513.6,1299.5 L514.6,1299.9 L515.6,1300.3 L516.6,1300.6 L517.6,1301.0 L518.6,1301.3 L519.6,1301.7 L520.6,1302.1 L521.6,1302.4 L522.6,1302.8 L523.6,1303.1 L524.6,1303.5 L525.6,1303.8 L526.6,1304.2 L527.6,1304.5 L528.6,1304.9 L529.6,1305.2 L530.6,1305.6 L531.6,1306.0 L532.6,1306.3 L533.6,1306.7 L534.6,1307.0 L535.6,1307.4 L536.6,1307.7 L537.6,1308.1 L538.6,1308.4 L539.6,1308.8 L540.6,1309.1 L541.6,1309.4 L542.6,1309.7 L543.6,1310.0 L544.6,1310.3 L545.6,1310.6 L546.6,1310.9 L547.6,1311.2 L548.6,1311.5 L549.6,1311.8 L550.6,1312.1 L551.6,1312.4 L552.6,1312.8 L553.6,1313.1 L554.6,1313.5 L555.6,1313.9 L556.6,1314.4 L557.6,1314.8 L558.6,1315.3 L559.6,1315.7 L560.6,1316.2 L561.6,1316.7 L562.6,1317.2 L563.6,1317.7 L564.6,1318.2 L565.6,1318.6 L566.6,1319.1 L567.6,1319.6 L568.6,1320.0 L569.6,1320.5 L570.6,1320.9 L571.6,1321.4 L572.6,1321.8 L573.6,1322.2 L574.6,1322.7 L575.6,1323.1 L576.6,1323.6 L577.6,1324.0 L578.6,1324.4 L579.6,1324.9 L580.6,1325.3 L581.6,1325.7 L582.6,1326.1 L583.6,1326.5 L584.6,1326.9 L585.6,1327.3 L586.6,1327.7 L587.6,1328.1 L588.6,1328.5 L589.6,1328.9 L590.6,1329.3 L591.6,1329.7 L592.6,1330.1 L593.6,1330.5 L594.6,1330.8 L595.6,1331.2 L596.6,1331.6 L597.6,1331.9 L598.6,1332.3 L599.6,1332.6 L600.6,1333.0 L601.6,1333.3 L602.6,1333.7 L603.6,1334.1 L604.6,1334.4 L605.6,1334.8 L606.6,1335.2 L607.6,1335.5 L608.6,1335.9 L609.6,1336.3 L610.6,1336.7 L611.6,1337.1 L612.6,1337.5 L613.6,1337.9 L614.6,1338.3 L615.6,1338.7 L616.6,1339.1 L617.6,1339.5 L618.6,1339.9 L619.6,1340.4 L620.6,1340.8 L621.6,1341.3 L622.6,1341.8 L623.6,1342.3 L624.6,1342.8 L625.6,1343.2 L626.6,1343.8 L627.6,1344.3 L628.6,1344.8 L629.6,1345.3 L630.6,1345.7 L631.6,1346.2 L632.6,1346.7 L633.6,1347.2 L634.6,1347.6 L635.6,1348.1 L636.6,1348.5 L637.6,1349.0 L638.6,1349.4 L639.6,1349.8 L640.6,1350.2 L641.6,1350.6 L642.6,1351.1 L643.6,1351.5 L644.6,1351.9 L645.6,1352.3 L646.6,1352.7 L647.6,1353.0 L648.6,1353.4 L649.6,1353.8 L650.6,1354.1 L651.6,1354.5 L652.6,1354.8 L653.6,1355.1 L654.6,1355.5 L655.6,1355.8 L656.6,1356.1 L657.6,1356.5 L658.6,1356.8 L659.6,1357.1 L660.6,1357.5 L661.6,1357.8 L662.6,1358.1 L663.6,1358.5 L664.6,1358.8 L665.6,1359.1 L666.6,1359.5 L667.6,1359.8 L668.6,1360.1 L669.6,1360.5 L670.6,1360.8 L671.6,1361.1 L672.6,1361.5 L673.6,1361.8 L674.6,1362.1 L675.6,1362.5 L676.6,1362.8 L677.6,1363.1 L678.6,1363.5 L679.6,1363.8 L680.6,1364.2 L681.6,1364.5 L682.6,1364.8 L683.6,1365.2 L684.6,1365.5 L685.6,1365.9 L686.6,1366.2 L687.6,1366.6 L688.6,1367.0 L689.6,1367.3 L690.6,1367.7 L691.6,1368.1 L692.6,1368.5 L693.6,1368.9 L694.6,1369.3 L695.6,1369.7 L696.6,1370.1 L697.6,1370.5 L698.6,1370.9 L699.6,1371.3 L700.6,1371.7 L701.6,1372.1 L702.6,1372.4 L703.6,1372.8 L704.6,1373.2 L705.6,1373.6 L706.6,1374.0 L707.6,1374.5 L708.6,1374.9 L709.6,1375.3 L710.6,1375.7 L711.6,1376.1 L712.6,1376.5 L713.6,1376.9 L714.6,1377.3 L715.6,1377.7 L716.6,1378.1 L717.6,1378.5 L718.6,1378.9 L719.6,1379.3 L720.6,1379.7 L721.6,1380.1 L722.6,1380.5 L723.6,1380.9 L724.6,1381.3 L725.6,1381.7 L726.6,1382.1 L727.6,1382.4 L728.6,1382.8 L729.6,1383.2 L730.6,1383.6 L731.6,1384.0 L732.6,1384.4 L733.6,1384.7 L734.6,1385.1 L735.6,1385.4 L736.6,1385.7 L737.6,1386.1 L738.6,1386.4 L739.6,1386.6 L740.6,1386.9 L741.6,1387.2 L742.6,1387.5 L743.6,1387.7 L744.6,1388.0 L745.6,1388.3 L746.6,1388.5 L747.6,1388.8 L748.6,1389.1 L749.6,1389.3 L750.6,1389.6 L751.6,1389.8 L752.6,1390.0 L753.6,1390.2 L754.6,1390.4 L755.6,1390.7 L756.6,1390.9 L757.6,1391.1 L758.6,1391.3 L759.6,1391.4 L760.6,1391.6 L761.6,1391.8 L762.6,1392.0 L763.6,1392.2 L764.6,1392.4 L765.6,1392.6 L766.6,1392.7 L767.6,1392.9 L768.6,1393.1 L769.6,1393.2 L770.6,1393.4 L771.6,1393.5 L772.6,1393.6 L773.6,1393.8 L774.6,1393.9 L775.6,1394.0 L776.6,1394.2 L777.6,1394.3 L778.6,1394.4 L779.6,1394.6 L780.6,1394.7 L781.6,1394.8 L782.6,1394.9 L783.6,1395.0 L784.6,1395.1 L785.6,1395.3 L786.6,1395.4 L787.6,1395.5 L788.6,1395.6 L789.6,1395.7 L790.6,1395.8 L791.6,1395.9 L792.6,1396.0 L793.6,1396.1 L794.6,1396.2 L795.6,1396.3 L796.6,1396.4 L797.6,1396.5 L798.6,1396.5 L799.6,1396.6 L800.6,1396.7 L801.6,1396.8 L802.6,1396.9 L803.6,1396.9 L804.6,1397.0 L805.6,1397.1 L806.6,1397.1 L807.6,1397.2 L808.6,1397.3 L809.6,1397.3 L810.6,1397.4 L811.6,1397.5 L812.6,1397.5 L813.6,1397.6 L814.6,1397.6 L815.6,1397.7 L816.6,1397.7 L817.6,1397.8 L818.6,1397.8 L819.6,1397.8 L820.6,1397.9 L821.6,1397.9 L822.6,1397.9 L823.6,1398.0 L824.6,1398.0 L825.6,1398.0 L826.6,1398.1 L827.6,1398.1 L828.6,1398.1 L829.6,1398.1 L830.6,1398.2 L831.0,1398.2" fill="none" stroke="#a0a0a0" stroke-width="4.2" stroke-linejoin="round" stroke-linecap="round" clip-path="url(#clipc)"/>
<path d="M97.6,1250.0 L98.6,1248.1 L99.6,1246.1 L100.6,1244.2 L101.6,1242.3 L102.6,1240.3 L103.6,1238.4 L104.6,1236.5 L105.6,1234.5 L106.6,1232.6 L107.6,1230.7 L108.6,1228.8 L109.6,1226.8 L110.6,1224.9 L111.6,1223.0 L112.6,1221.1 L113.6,1219.2 L114.6,1217.3 L115.6,1215.4 L116.6,1213.6 L117.6,1211.8 L118.6,1209.9 L119.6,1208.1 L120.6,1206.3 L121.6,1204.5 L122.6,1202.7 L123.6,1200.9 L124.6,1199.1 L125.6,1197.4 L126.6,1195.6 L127.6,1193.8 L128.6,1192.0 L129.6,1190.2 L130.6,1188.4 L131.6,1186.6 L132.6,1184.8 L133.6,1183.0 L134.6,1181.2 L135.6,1179.5 L136.6,1177.7 L137.6,1175.9 L138.6,1174.2 L139.6,1172.5 L140.6,1170.8 L141.6,1169.1 L142.6,1167.5 L143.6,1165.8 L144.6,1164.2 L145.6,1162.6 L146.6,1161.0 L147.6,1159.4 L148.6,1157.8 L149.6,1156.2 L150.6,1154.6 L151.6,1153.0 L152.6,1151.4 L153.6,1149.8 L154.6,1148.2 L155.6,1146.6 L156.6,1145.0 L157.6,1143.4 L158.6,1141.8 L159.6,1140.1 L160.6,1138.5 L161.6,1136.8 L162.6,1135.1 L163.6,1133.4 L164.6,1131.7 L165.6,1129.9 L166.6,1128.0 L167.6,1126.2 L168.6,1124.2 L169.6,1122.3 L170.6,1120.3 L171.6,1118.3 L172.6,1116.4 L173.6,1114.4 L174.6,1112.4 L175.6,1110.5 L176.6,1108.6 L177.6,1106.8 L178.6,1105.0 L179.6,1103.2 L180.6,1101.5 L181.6,1099.8 L182.6,1098.2 L183.6,1096.6 L184.6,1095.0 L185.6,1093.4 L186.6,1092.0 L187.6,1090.5 L188.6,1089.2 L189.6,1088.0 L190.6,1086.9 L191.6,1086.0 L192.6,1085.2 L193.6,1084.4 L194.6,1083.8 L195.6,1083.3 L196.6,1082.8 L197.6,1082.3 L198.6,1081.9 L199.6,1081.5 L200.6,1081.0 L201.6,1080.6 L202.6,1080.2 L203.6,1079.8 L204.6,1079.5 L205.6,1079.1 L206.6,1078.8 L207.6,1078.6 L208.6,1078.4 L209.6,1078.2 L210.6,1078.1 L211.6,1078.1 L212.6,1078.0 L213.6,1078.0 L214.6,1078.0 L215.6,1078.1 L216.6,1078.1 L217.6,1078.1 L218.6,1078.2 L219.6,1078.2 L220.6,1078.2 L221.6,1078.3 L222.6,1078.3 L223.6,1078.3 L224.6,1078.4 L225.6,1078.4 L226.6,1078.4 L227.6,1078.5 L228.6,1078.5 L229.6,1078.6 L230.6,1078.6 L231.6,1078.6 L232.6,1078.7 L233.6,1078.7 L234.6,1078.8 L235.6,1078.8 L236.6,1078.9 L237.6,1079.0 L238.6,1079.0 L239.6,1079.2 L240.6,1079.3 L241.6,1079.5 L242.6,1079.7 L243.6,1079.9 L244.6,1080.2 L245.6,1080.5 L246.6,1080.7 L247.6,1081.0 L248.6,1081.3 L249.6,1081.6 L250.6,1081.9 L251.6,1082.2 L252.6,1082.5 L253.6,1082.8 L254.6,1083.1 L255.6,1083.5 L256.6,1083.8 L257.6,1084.1 L258.6,1084.4 L259.6,1084.7 L260.6,1085.0 L261.6,1085.3 L262.6,1085.7 L263.6,1086.0 L264.6,1086.4 L265.6,1086.7 L266.6,1087.1 L267.6,1087.5 L268.6,1087.8 L269.6,1088.2 L270.6,1088.6 L271.6,1089.0 L272.6,1089.4 L273.6,1089.7 L274.6,1090.2 L275.6,1090.6 L276.6,1091.0 L277.6,1091.5 L278.6,1092.0 L279.6,1092.5 L280.6,1093.1 L281.6,1093.7 L282.6,1094.3 L283.6,1095.0 L284.6,1095.6 L285.6,1096.3 L286.6,1097.0 L287.6,1097.6 L288.6,1098.3 L289.6,1099.0 L290.6,1099.6 L291.6,1100.3 L292.6,1101.0 L293.6,1101.7 L294.6,1102.4 L295.6,1103.1 L296.6,1103.8 L297.6,1104.5 L298.6,1105.2 L299.6,1105.9 L300.6,1106.7 L301.6,1107.4 L302.6,1108.1 L303.6,1108.9 L304.6,1109.6 L305.6,1110.4 L306.6,1111.1 L307.6,1111.9 L308.6,1112.6 L309.6,1113.4 L310.6,1114.2 L311.6,1114.9 L312.6,1115.7 L313.6,1116.5 L314.6,1117.3 L315.6,1118.1 L316.6,1119.0 L317.6,1119.8 L318.6,1120.7 L319.6,1121.7 L320.6,1122.6 L321.6,1123.6 L322.6,1124.5 L323.6,1125.5 L324.6,1126.5 L325.6,1127.5 L326.6,1128.5 L327.6,1129.5 L328.6,1130.5 L329.6,1131.5 L330.6,1132.5 L331.6,1133.6 L332.6,1134.6 L333.6,1135.7 L334.6,1136.8 L335.6,1137.9 L336.6,1139.0 L337.6,1140.1 L338.6,1141.3 L339.6,1142.5 L340.6,1143.7 L341.6,1144.9 L342.6,1146.1 L343.6,1147.3 L344.6,1148.5 L345.6,1149.7 L346.6,1150.9 L347.6,1152.1 L348.6,1153.4 L349.6,1154.6 L350.6,1155.9 L351.6,1157.2 L352.6,1158.5 L353.6,1159.8 L354.6,1161.1 L355.6,1162.4 L356.6,1163.7 L357.6,1165.1 L358.6,1166.4 L359.6,1167.8 L360.6,1169.1 L361.6,1170.5 L362.6,1171.9 L363.6,1173.3 L364.6,1174.8 L365.6,1176.3 L366.6,1177.9 L367.6,1179.5 L368.6,1181.1 L369.6,1182.7 L370.6,1184.3 L371.6,1186.0 L372.6,1187.6 L373.6,1189.3 L374.6,1190.9 L375.6,1192.5 L376.6,1194.1 L377.6,1195.7 L378.6,1197.2 L379.6,1198.7 L380.6,1200.1 L381.6,1201.4 L382.6,1202.8 L383.6,1204.0 L384.6,1205.3 L385.6,1206.5 L386.6,1207.8 L387.6,1209.0 L388.6,1210.2 L389.6,1211.4 L390.6,1212.5 L391.6,1213.7 L392.6,1214.8 L393.6,1216.0 L394.6,1217.0 L395.6,1218.1 L396.6,1219.1 L397.6,1220.1 L398.6,1221.1 L399.6,1222.0 L400.6,1223.0 L401.6,1223.9 L402.6,1224.8 L403.6,1225.8 L404.6,1226.7 L405.6,1227.7 L406.6,1228.6 L407.6,1229.6 L408.6,1230.5 L409.6,1231.5 L410.6,1232.5 L411.6,1233.4 L412.6,1234.4 L413.6,1235.4 L414.6,1236.4 L415.6,1237.4 L416.6,1238.4 L417.6,1239.4 L418.6,1240.4 L419.6,1241.4 L420.6,1242.4 L421.6,1243.5 L422.6,1244.5 L423.6,1245.6 L424.6,1246.7 L425.6,1247.8 L426.6,1248.9 L427.6,1250.0 L428.6,1251.2 L429.6,1252.3 L430.6,1253.5 L431.6,1254.7 L432.6,1255.8 L433.6,1257.0 L434.6,1258.1 L435.6,1259.3 L436.6,1260.4 L437.6,1261.5 L438.6,1262.6 L439.6,1263.8 L440.6,1264.9 L441.6,1266.0 L442.6,1267.1 L443.6,1268.2 L444.6,1269.3 L445.6,1270.4 L446.6,1271.5 L447.6,1272.6 L448.6,1273.7 L449.6,1274.8 L450.6,1275.9 L451.6,1277.0 L452.6,1278.2 L453.6,1279.3 L454.6,1280.4 L455.6,1281.6 L456.6,1282.7 L457.6,1283.9 L458.6,1285.0 L459.6,1286.2 L460.6,1287.3 L461.6,1288.5 L462.6,1289.6 L463.6,1290.7 L464.6,1291.8 L465.6,1292.9 L466.6,1294.0 L467.6,1295.0 L468.6,1296.0 L469.6,1296.9 L470.6,1297.9 L471.6,1298.8 L472.6,1299.7 L473.6,1300.5 L474.6,1301.4 L475.6,1302.2 L476.6,1303.1 L477.6,1303.9 L478.6,1304.8 L479.6,1305.6 L480.6,1306.4 L481.6,1307.2 L482.6,1308.0 L483.6,1308.8 L484.6,1309.5 L485.6,1310.2 L486.6,1310.9 L487.6,1311.6 L488.6,1312.3 L489.6,1312.9 L490.6,1313.6 L491.6,1314.2 L492.6,1314.9 L493.6,1315.5 L494.6,1316.2 L495.6,1316.8 L496.6,1317.5 L497.6,1318.1 L498.6,1318.7 L499.6,1319.4 L500.6,1320.0 L501.6,1320.6 L502.6,1321.2 L503.6,1321.8 L504.6,1322.4 L505.6,1323.0 L506.6,1323.6 L507.6,1324.2 L508.6,1324.8 L509.6,1325.4 L510.6,1326.0 L511.6,1326.6 L512.6,1327.2 L513.6,1327.8 L514.6,1328.4 L515.6,1329.1 L516.6,1329.7 L517.6,1330.3 L518.6,1331.0 L519.6,1331.6 L520.6,1332.2 L521.6,1332.9 L522.6,1333.5 L523.6,1334.2 L524.6,1334.8 L525.6,1335.5 L526.6,1336.2 L527.6,1336.9 L528.6,1337.7 L529.6,1338.4 L530.6,1339.3 L531.6,1340.2 L532.6,1341.1 L533.6,1342.1 L534.6,1343.1 L535.6,1344.0 L536.6,1345.0 L537.6,1345.9 L538.6,1346.7 L539.6,1347.5 L540.6,1348.1 L541.6,1348.8 L542.6,1349.4 L543.6,1349.9 L544.6,1350.4 L545.6,1350.9 L546.6,1351.4 L547.6,1351.9 L548.6,1352.4 L549.6,1352.9 L550.6,1353.3 L551.6,1353.8 L552.6,1354.2 L553.6,1354.7 L554.6,1355.1 L555.6,1355.5 L556.6,1355.9 L557.6,1356.3 L558.6,1356.7 L559.6,1357.1 L560.6,1357.5 L561.6,1357.9 L562.6,1358.3 L563.6,1358.7 L564.6,1359.1 L565.6,1359.4 L566.6,1359.8 L567.6,1360.1 L568.6,1360.4 L569.6,1360.7 L570.6,1361.0 L571.6,1361.3 L572.6,1361.6 L573.6,1361.9 L574.6,1362.2 L575.6,1362.5 L576.6,1362.8 L577.6,1363.1 L578.6,1363.3 L579.6,1363.6 L580.6,1363.8 L581.6,1364.0 L582.6,1364.3 L583.6,1364.5 L584.6,1364.7 L585.6,1364.9 L586.6,1365.1 L587.6,1365.3 L588.6,1365.5 L589.6,1365.7 L590.6,1365.9 L591.6,1366.0 L592.6,1366.2 L593.6,1366.4 L594.6,1366.6 L595.6,1366.7 L596.6,1366.9 L597.6,1367.1 L598.6,1367.2 L599.6,1367.4 L600.6,1367.5 L601.6,1367.7 L602.6,1367.8 L603.6,1368.0 L604.6,1368.1 L605.6,1368.2 L606.6,1368.4 L607.6,1368.5 L608.6,1368.6 L609.6,1368.7 L610.6,1368.8 L611.6,1368.9 L612.6,1369.0 L613.6,1369.1 L614.6,1369.2 L615.6,1369.3 L616.6,1369.4 L617.6,1369.5 L618.6,1369.6 L619.6,1369.7 L620.6,1369.8 L621.6,1369.9 L622.6,1370.0 L623.6,1370.1 L624.6,1370.2 L625.6,1370.3 L626.6,1370.4 L627.6,1370.5 L628.6,1370.6 L629.6,1370.7 L630.6,1370.8 L631.6,1370.9 L632.6,1371.0 L633.6,1371.1 L634.6,1371.2 L635.6,1371.3 L636.6,1371.4 L637.6,1371.5 L638.6,1371.6 L639.6,1371.7 L640.6,1371.8 L641.6,1371.9 L642.6,1372.0 L643.6,1372.1 L644.6,1372.2 L645.6,1372.3 L646.6,1372.4 L647.6,1372.4 L648.6,1372.5 L649.6,1372.5 L650.6,1372.6 L651.6,1372.6 L652.6,1372.6 L653.6,1372.6 L654.6,1372.6 L655.6,1372.6 L656.6,1372.6 L657.6,1372.5 L658.6,1372.5 L659.6,1372.4 L660.6,1372.3 L661.6,1372.2 L662.6,1372.1 L663.6,1372.0 L664.6,1371.9 L665.6,1371.8 L666.6,1371.7 L667.6,1371.6 L668.6,1371.6 L669.6,1371.5 L670.6,1371.4 L671.6,1371.4 L672.6,1371.4 L673.6,1371.4 L674.6,1371.4 L675.6,1371.4 L676.6,1371.4 L677.6,1371.4 L678.6,1371.5 L679.6,1371.5 L680.6,1371.5 L681.6,1371.6 L682.6,1371.6 L683.6,1371.7 L684.6,1371.7 L685.6,1371.8 L686.6,1371.8 L687.6,1371.9 L688.6,1372.0 L689.6,1372.1 L690.6,1372.2 L691.6,1372.3 L692.6,1372.5 L693.6,1372.6 L694.6,1372.7 L695.6,1372.9 L696.6,1373.0 L697.6,1373.1 L698.6,1373.3 L699.6,1373.4 L700.6,1373.5 L701.6,1373.6 L702.6,1373.8 L703.6,1373.9 L704.6,1374.0 L705.6,1374.2 L706.6,1374.3 L707.6,1374.4 L708.6,1374.6 L709.6,1374.7 L710.6,1374.8 L711.6,1375.0 L712.6,1375.1 L713.6,1375.2 L714.6,1375.4 L715.6,1375.5 L716.6,1375.6 L717.6,1375.8 L718.6,1375.9 L719.6,1376.1 L720.6,1376.2 L721.6,1376.4 L722.6,1376.5 L723.6,1376.7 L724.6,1376.9 L725.6,1377.0 L726.6,1377.2 L727.6,1377.3 L728.6,1377.5 L729.6,1377.7 L730.6,1377.8 L731.6,1378.0 L732.6,1378.2 L733.6,1378.3 L734.6,1378.5 L735.6,1378.7 L736.6,1378.8 L737.6,1379.0 L738.6,1379.2 L739.6,1379.3 L740.6,1379.5 L741.6,1379.7 L742.6,1379.8 L743.6,1380.0 L744.6,1380.2 L745.6,1380.4 L746.6,1380.5 L747.6,1380.7 L748.6,1380.9 L749.6,1381.1 L750.6,1381.2 L751.6,1381.4 L752.6,1381.6 L753.6,1381.8 L754.6,1382.0 L755.6,1382.2 L756.6,1382.4 L757.6,1382.6 L758.6,1382.8 L759.6,1383.0 L760.6,1383.2 L761.6,1383.4 L762.6,1383.6 L763.6,1383.8 L764.6,1384.0 L765.6,1384.2 L766.6,1384.4 L767.6,1384.6 L768.6,1384.8 L769.6,1385.0 L770.6,1385.2 L771.6,1385.4 L772.6,1385.6 L773.6,1385.8 L774.6,1386.0 L775.6,1386.2 L776.6,1386.4 L777.6,1386.6 L778.6,1386.8 L779.6,1386.9 L780.6,1387.1 L781.6,1387.3 L782.6,1387.5 L783.6,1387.7 L784.6,1387.9 L785.6,1388.0 L786.6,1388.2 L787.6,1388.4 L788.6,1388.6 L789.6,1388.7 L790.6,1388.9 L791.6,1389.1 L792.6,1389.2 L793.6,1389.4 L794.6,1389.6 L795.6,1389.7 L796.6,1389.9 L797.6,1390.1 L798.6,1390.2 L799.6,1390.4 L800.6,1390.5 L801.6,1390.7 L802.6,1390.8 L803.6,1390.9 L804.6,1391.1 L805.6,1391.2 L806.6,1391.3 L807.6,1391.5 L808.6,1391.6 L809.6,1391.7 L810.6,1391.9 L811.6,1392.0 L812.6,1392.1 L813.6,1392.3 L814.6,1392.4 L815.6,1392.5 L816.6,1392.6 L817.6,1392.8 L818.6,1392.9 L819.6,1393.0 L820.6,1393.2 L821.6,1393.3 L822.6,1393.4 L823.6,1393.5 L824.6,1393.7 L825.6,1393.8 L826.6,1393.9 L827.6,1394.0 L828.6,1394.1 L829.6,1394.2 L830.6,1394.3 L831.0,1394.4" fill="none" stroke="#3e6eb8" stroke-width="4.2" stroke-linejoin="round" stroke-linecap="round" clip-path="url(#clipc)"/>
<path d="M97.6,1301.6 L98.6,1299.9 L99.6,1298.2 L100.6,1296.5 L101.6,1294.7 L102.6,1293.0 L103.6,1291.3 L104.6,1289.6 L105.6,1287.9 L106.6,1286.2 L107.6,1284.4 L108.6,1282.7 L109.6,1281.0 L110.6,1279.3 L111.6,1277.5 L112.6,1275.8 L113.6,1274.0 L114.6,1272.2 L115.6,1270.4 L116.6,1268.6 L117.6,1266.7 L118.6,1264.9 L119.6,1263.0 L120.6,1261.1 L121.6,1259.2 L122.6,1257.3 L123.6,1255.4 L124.6,1253.5 L125.6,1251.6 L126.6,1249.7 L127.6,1247.8 L128.6,1245.9 L129.6,1244.0 L130.6,1242.1 L131.6,1240.2 L132.6,1238.3 L133.6,1236.4 L134.6,1234.5 L135.6,1232.6 L136.6,1230.7 L137.6,1228.7 L138.6,1226.8 L139.6,1224.8 L140.6,1222.8 L141.6,1220.8 L142.6,1218.8 L143.6,1216.7 L144.6,1214.6 L145.6,1212.6 L146.6,1210.5 L147.6,1208.4 L148.6,1206.3 L149.6,1204.2 L150.6,1202.1 L151.6,1200.0 L152.6,1197.9 L153.6,1195.8 L154.6,1193.7 L155.6,1191.6 L156.6,1189.5 L157.6,1187.4 L158.6,1185.3 L159.6,1183.2 L160.6,1181.1 L161.6,1179.1 L162.6,1177.0 L163.6,1175.0 L164.6,1173.0 L165.6,1171.0 L166.6,1169.1 L167.6,1167.2 L168.6,1165.3 L169.6,1163.5 L170.6,1161.6 L171.6,1159.8 L172.6,1158.0 L173.6,1156.2 L174.6,1154.4 L175.6,1152.6 L176.6,1150.8 L177.6,1149.0 L178.6,1147.2 L179.6,1145.4 L180.6,1143.6 L181.6,1141.8 L182.6,1140.0 L183.6,1138.2 L184.6,1136.4 L185.6,1134.6 L186.6,1132.8 L187.6,1131.1 L188.6,1129.3 L189.6,1127.6 L190.6,1125.9 L191.6,1124.2 L192.6,1122.6 L193.6,1121.0 L194.6,1119.4 L195.6,1117.8 L196.6,1116.2 L197.6,1114.6 L198.6,1113.0 L199.6,1111.4 L200.6,1109.9 L201.6,1108.3 L202.6,1106.7 L203.6,1105.2 L204.6,1103.6 L205.6,1102.0 L206.6,1100.5 L207.6,1098.9 L208.6,1097.4 L209.6,1095.9 L210.6,1094.3 L211.6,1092.8 L212.6,1091.3 L213.6,1089.8 L214.6,1088.3 L215.6,1086.8 L216.6,1085.4 L217.6,1083.9 L218.6,1082.5 L219.6,1081.1 L220.6,1079.7 L221.6,1078.5 L222.6,1077.3 L223.6,1076.3 L224.6,1075.3 L225.6,1074.5 L226.6,1073.7 L227.6,1073.0 L228.6,1072.3 L229.6,1071.7 L230.6,1071.1 L231.6,1070.5 L232.6,1070.0 L233.6,1069.4 L234.6,1068.8 L235.6,1068.3 L236.6,1067.7 L237.6,1067.2 L238.6,1066.7 L239.6,1066.3 L240.6,1065.9 L241.6,1065.5 L242.6,1065.1 L243.6,1064.9 L244.6,1064.6 L245.6,1064.4 L246.6,1064.1 L247.6,1063.9 L248.6,1063.7 L249.6,1063.6 L250.6,1063.4 L251.6,1063.2 L252.6,1063.0 L253.6,1062.8 L254.6,1062.6 L255.6,1062.5 L256.6,1062.3 L257.6,1062.2 L258.6,1062.1 L259.6,1062.0 L260.6,1062.0 L261.6,1062.0 L262.6,1062.0 L263.6,1062.1 L264.6,1062.3 L265.6,1062.5 L266.6,1062.6 L267.6,1062.8 L268.6,1063.0 L269.6,1063.3 L270.6,1063.5 L271.6,1063.7 L272.6,1063.9 L273.6,1064.2 L274.6,1064.4 L275.6,1064.7 L276.6,1064.9 L277.6,1065.2 L278.6,1065.6 L279.6,1066.0 L280.6,1066.4 L281.6,1066.8 L282.6,1067.3 L283.6,1067.7 L284.6,1068.2 L285.6,1068.7 L286.6,1069.2 L287.6,1069.7 L288.6,1070.2 L289.6,1070.7 L290.6,1071.2 L291.6,1071.7 L292.6,1072.2 L293.6,1072.7 L294.6,1073.2 L295.6,1073.7 L296.6,1074.2 L297.6,1074.7 L298.6,1075.3 L299.6,1075.9 L300.6,1076.5 L301.6,1077.1 L302.6,1077.9 L303.6,1078.7 L304.6,1079.7 L305.6,1080.7 L306.6,1081.8 L307.6,1083.0 L308.6,1084.2 L309.6,1085.5 L310.6,1086.7 L311.6,1088.0 L312.6,1089.3 L313.6,1090.6 L314.6,1092.0 L315.6,1093.3 L316.6,1094.6 L317.6,1095.9 L318.6,1097.2 L319.6,1098.5 L320.6,1099.8 L321.6,1101.1 L322.6,1102.4 L323.6,1103.8 L324.6,1105.1 L325.6,1106.4 L326.6,1107.7 L327.6,1109.1 L328.6,1110.4 L329.6,1111.8 L330.6,1113.2 L331.6,1114.7 L332.6,1116.1 L333.6,1117.6 L334.6,1119.0 L335.6,1120.5 L336.6,1122.0 L337.6,1123.5 L338.6,1125.1 L339.6,1126.6 L340.6,1128.1 L341.6,1129.7 L342.6,1131.3 L343.6,1132.9 L344.6,1134.5 L345.6,1136.1 L346.6,1137.7 L347.6,1139.3 L348.6,1141.0 L349.6,1142.6 L350.6,1144.3 L351.6,1145.9 L352.6,1147.6 L353.6,1149.3 L354.6,1151.0 L355.6,1152.7 L356.6,1154.4 L357.6,1156.1 L358.6,1157.8 L359.6,1159.6 L360.6,1161.3 L361.6,1163.1 L362.6,1164.9 L363.6,1166.7 L364.6,1168.5 L365.6,1170.2 L366.6,1172.0 L367.6,1173.8 L368.6,1175.6 L369.6,1177.3 L370.6,1179.1 L371.6,1180.8 L372.6,1182.5 L373.6,1184.2 L374.6,1185.9 L375.6,1187.6 L376.6,1189.3 L377.6,1191.0 L378.6,1192.7 L379.6,1194.4 L380.6,1196.1 L381.6,1197.8 L382.6,1199.5 L383.6,1201.2 L384.6,1202.8 L385.6,1204.5 L386.6,1206.1 L387.6,1207.7 L388.6,1209.3 L389.6,1210.8 L390.6,1212.3 L391.6,1213.7 L392.6,1215.1 L393.6,1216.5 L394.6,1217.8 L395.6,1219.1 L396.6,1220.4 L397.6,1221.7 L398.6,1223.0 L399.6,1224.2 L400.6,1225.5 L401.6,1226.7 L402.6,1227.9 L403.6,1229.2 L404.6,1230.4 L405.6,1231.6 L406.6,1232.8 L407.6,1234.0 L408.6,1235.1 L409.6,1236.3 L410.6,1237.4 L411.6,1238.5 L412.6,1239.7 L413.6,1240.8 L414.6,1241.9 L415.6,1243.0 L416.6,1244.1 L417.6,1245.3 L418.6,1246.4 L419.6,1247.6 L420.6,1248.8 L421.6,1250.0 L422.6,1251.2 L423.6,1252.4 L424.6,1253.6 L425.6,1254.9 L426.6,1256.1 L427.6,1257.4 L428.6,1258.6 L429.6,1259.8 L430.6,1261.1 L431.6,1262.3 L432.6,1263.5 L433.6,1264.8 L434.6,1266.0 L435.6,1267.1 L436.6,1268.3 L437.6,1269.5 L438.6,1270.6 L439.6,1271.7 L440.6,1272.8 L441.6,1273.9 L442.6,1275.0 L443.6,1276.1 L444.6,1277.2 L445.6,1278.3 L446.6,1279.4 L447.6,1280.5 L448.6,1281.6 L449.6,1282.6 L450.6,1283.7 L451.6,1284.7 L452.6,1285.7 L453.6,1286.7 L454.6,1287.7 L455.6,1288.7 L456.6,1289.6 L457.6,1290.6 L458.6,1291.6 L459.6,1292.5 L460.6,1293.4 L461.6,1294.4 L462.6,1295.3 L463.6,1296.2 L464.6,1297.1 L465.6,1297.9 L466.6,1298.7 L467.6,1299.4 L468.6,1300.1 L469.6,1300.8 L470.6,1301.3 L471.6,1301.9 L472.6,1302.4 L473.6,1302.9 L474.6,1303.3 L475.6,1303.8 L476.6,1304.3 L477.6,1304.7 L478.6,1305.2 L479.6,1305.6 L480.6,1306.0 L481.6,1306.5 L482.6,1306.9 L483.6,1307.3 L484.6,1307.7 L485.6,1308.1 L486.6,1308.4 L487.6,1308.8 L488.6,1309.2 L489.6,1309.5 L490.6,1309.9 L491.6,1310.2 L492.6,1310.5 L493.6,1310.9 L494.6,1311.2 L495.6,1311.6 L496.6,1311.9 L497.6,1312.3 L498.6,1312.6 L499.6,1313.0 L500.6,1313.3 L501.6,1313.7 L502.6,1314.0 L503.6,1314.4 L504.6,1314.7 L505.6,1315.1 L506.6,1315.4 L507.6,1315.8 L508.6,1316.1 L509.6,1316.5 L510.6,1316.8 L511.6,1317.2 L512.6,1317.5 L513.6,1317.8 L514.6,1318.1 L515.6,1318.5 L516.6,1318.7 L517.6,1319.0 L518.6,1319.3 L519.6,1319.6 L520.6,1319.8 L521.6,1320.1 L522.6,1320.3 L523.6,1320.6 L524.6,1320.8 L525.6,1321.1 L526.6,1321.3 L527.6,1321.6 L528.6,1321.9 L529.6,1322.1 L530.6,1322.4 L531.6,1322.6 L532.6,1322.9 L533.6,1323.1 L534.6,1323.4 L535.6,1323.7 L536.6,1324.0 L537.6,1324.2 L538.6,1324.5 L539.6,1324.9 L540.6,1325.2 L541.6,1325.5 L542.6,1325.9 L543.6,1326.3 L544.6,1326.7 L545.6,1327.0 L546.6,1327.4 L547.6,1327.8 L548.6,1328.2 L549.6,1328.6 L550.6,1329.0 L551.6,1329.4 L552.6,1329.8 L553.6,1330.2 L554.6,1330.6 L555.6,1331.0 L556.6,1331.4 L557.6,1331.8 L558.6,1332.2 L559.6,1332.6 L560.6,1333.0 L561.6,1333.4 L562.6,1333.8 L563.6,1334.2 L564.6,1334.6 L565.6,1334.9 L566.6,1335.3 L567.6,1335.6 L568.6,1335.9 L569.6,1336.2 L570.6,1336.5 L571.6,1336.9 L572.6,1337.2 L573.6,1337.5 L574.6,1337.8 L575.6,1338.1 L576.6,1338.4 L577.6,1338.7 L578.6,1339.0 L579.6,1339.3 L580.6,1339.6 L581.6,1339.9 L582.6,1340.2 L583.6,1340.5 L584.6,1340.8 L585.6,1341.1 L586.6,1341.4 L587.6,1341.7 L588.6,1342.0 L589.6,1342.3 L590.6,1342.6 L591.6,1342.9 L592.6,1343.2 L593.6,1343.5 L594.6,1343.8 L595.6,1344.1 L596.6,1344.4 L597.6,1344.7 L598.6,1345.0 L599.6,1345.3 L600.6,1345.6 L601.6,1345.9 L602.6,1346.2 L603.6,1346.5 L604.6,1346.8 L605.6,1347.1 L606.6,1347.4 L607.6,1347.7 L608.6,1348.0 L609.6,1348.3 L610.6,1348.6 L611.6,1348.9 L612.6,1349.2 L613.6,1349.5 L614.6,1349.8 L615.6,1350.1 L616.6,1350.4 L617.6,1350.7 L618.6,1351.1 L619.6,1351.4 L620.6,1351.7 L621.6,1352.1 L622.6,1352.5 L623.6,1352.9 L624.6,1353.2 L625.6,1353.6 L626.6,1354.0 L627.6,1354.4 L628.6,1354.8 L629.6,1355.2 L630.6,1355.6 L631.6,1356.0 L632.6,1356.4 L633.6,1356.8 L634.6,1357.2 L635.6,1357.6 L636.6,1357.9 L637.6,1358.3 L638.6,1358.7 L639.6,1359.1 L640.6,1359.5 L641.6,1359.8 L642.6,1360.2 L643.6,1360.6 L644.6,1361.0 L645.6,1361.3 L646.6,1361.6 L647.6,1362.0 L648.6,1362.3 L649.6,1362.6 L650.6,1362.9 L651.6,1363.1 L652.6,1363.4 L653.6,1363.6 L654.6,1363.8 L655.6,1364.1 L656.6,1364.3 L657.6,1364.4 L658.6,1364.6 L659.6,1364.8 L660.6,1364.9 L661.6,1365.1 L662.6,1365.2 L663.6,1365.4 L664.6,1365.5 L665.6,1365.6 L666.6,1365.8 L667.6,1365.9 L668.6,1366.1 L669.6,1366.2 L670.6,1366.3 L671.6,1366.5 L672.6,1366.6 L673.6,1366.7 L674.6,1366.9 L675.6,1367.0 L676.6,1367.1 L677.6,1367.3 L678.6,1367.4 L679.6,1367.5 L680.6,1367.7 L681.6,1367.8 L682.6,1367.9 L683.6,1368.1 L684.6,1368.2 L685.6,1368.3 L686.6,1368.4 L687.6,1368.6 L688.6,1368.7 L689.6,1368.8 L690.6,1368.9 L691.6,1369.0 L692.6,1369.1 L693.6,1369.2 L694.6,1369.3 L695.6,1369.4 L696.6,1369.5 L697.6,1369.6 L698.6,1369.7 L699.6,1369.8 L700.6,1369.9 L701.6,1370.0 L702.6,1370.1 L703.6,1370.3 L704.6,1370.4 L705.6,1370.5 L706.6,1370.6 L707.6,1370.7 L708.6,1370.9 L709.6,1371.0 L710.6,1371.1 L711.6,1371.3 L712.6,1371.4 L713.6,1371.5 L714.6,1371.7 L715.6,1371.8 L716.6,1371.9 L717.6,1372.1 L718.6,1372.2 L719.6,1372.4 L720.6,1372.5 L721.6,1372.7 L722.6,1372.9 L723.6,1373.0 L724.6,1373.2 L725.6,1373.4 L726.6,1373.5 L727.6,1373.7 L728.6,1373.9 L729.6,1374.0 L730.6,1374.2 L731.6,1374.4 L732.6,1374.6 L733.6,1374.7 L734.6,1374.9 L735.6,1375.1 L736.6,1375.3 L737.6,1375.5 L738.6,1375.7 L739.6,1375.8 L740.6,1376.0 L741.6,1376.2 L742.6,1376.4 L743.6,1376.6 L744.6,1376.8 L745.6,1377.0 L746.6,1377.2 L747.6,1377.4 L748.6,1377.6 L749.6,1377.8 L750.6,1378.0 L751.6,1378.2 L752.6,1378.4 L753.6,1378.6 L754.6,1378.8 L755.6,1379.0 L756.6,1379.2 L757.6,1379.4 L758.6,1379.6 L759.6,1379.8 L760.6,1380.0 L761.6,1380.2 L762.6,1380.4 L763.6,1380.6 L764.6,1380.8 L765.6,1381.0 L766.6,1381.2 L767.6,1381.4 L768.6,1381.6 L769.6,1381.8 L770.6,1382.0 L771.6,1382.2 L772.6,1382.4 L773.6,1382.6 L774.6,1382.8 L775.6,1383.0 L776.6,1383.2 L777.6,1383.4 L778.6,1383.6 L779.6,1383.8 L780.6,1384.0 L781.6,1384.2 L782.6,1384.4 L783.6,1384.6 L784.6,1384.8 L785.6,1385.0 L786.6,1385.2 L787.6,1385.4 L788.6,1385.6 L789.6,1385.8 L790.6,1386.0 L791.6,1386.2 L792.6,1386.4 L793.6,1386.6 L794.6,1386.8 L795.6,1387.0 L796.6,1387.2 L797.6,1387.3 L798.6,1387.5 L799.6,1387.7 L800.6,1387.9 L801.6,1388.1 L802.6,1388.2 L803.6,1388.4 L804.6,1388.6 L805.6,1388.8 L806.6,1388.9 L807.6,1389.1 L808.6,1389.3 L809.6,1389.4 L810.6,1389.6 L811.6,1389.8 L812.6,1389.9 L813.6,1390.1 L814.6,1390.3 L815.6,1390.4 L816.6,1390.6 L817.6,1390.8 L818.6,1390.9 L819.6,1391.1 L820.6,1391.2 L821.6,1391.4 L822.6,1391.6 L823.6,1391.7 L824.6,1391.9 L825.6,1392.0 L826.6,1392.2 L827.6,1392.3 L828.6,1392.5 L829.6,1392.6 L830.6,1392.7 L831.0,1392.8" fill="none" stroke="#e9822f" stroke-width="4.2" stroke-linejoin="round" stroke-linecap="round" clip-path="url(#clipc)"/>
<path d="M97.6,1289.0 L98.6,1287.4 L99.6,1285.9 L100.6,1284.3 L101.6,1282.7 L102.6,1281.2 L103.6,1279.6 L104.6,1278.0 L105.6,1276.5 L106.6,1274.9 L107.6,1273.3 L108.6,1271.7 L109.6,1270.2 L110.6,1268.6 L111.6,1267.0 L112.6,1265.4 L113.6,1263.8 L114.6,1262.2 L115.6,1260.6 L116.6,1258.9 L117.6,1257.2 L118.6,1255.6 L119.6,1253.9 L120.6,1252.2 L121.6,1250.5 L122.6,1248.8 L123.6,1247.1 L124.6,1245.4 L125.6,1243.7 L126.6,1242.0 L127.6,1240.3 L128.6,1238.6 L129.6,1236.8 L130.6,1235.1 L131.6,1233.4 L132.6,1231.7 L133.6,1230.0 L134.6,1228.3 L135.6,1226.6 L136.6,1225.0 L137.6,1223.3 L138.6,1221.6 L139.6,1220.0 L140.6,1218.4 L141.6,1216.8 L142.6,1215.3 L143.6,1213.7 L144.6,1212.2 L145.6,1210.7 L146.6,1209.2 L147.6,1207.7 L148.6,1206.2 L149.6,1204.7 L150.6,1203.2 L151.6,1201.7 L152.6,1200.2 L153.6,1198.7 L154.6,1197.2 L155.6,1195.7 L156.6,1194.2 L157.6,1192.7 L158.6,1191.2 L159.6,1189.7 L160.6,1188.3 L161.6,1186.8 L162.6,1185.3 L163.6,1183.9 L164.6,1182.4 L165.6,1181.0 L166.6,1179.6 L167.6,1178.3 L168.6,1176.9 L169.6,1175.6 L170.6,1174.3 L171.6,1173.0 L172.6,1171.7 L173.6,1170.3 L174.6,1169.0 L175.6,1167.7 L176.6,1166.4 L177.6,1165.1 L178.6,1163.8 L179.6,1162.5 L180.6,1161.2 L181.6,1159.9 L182.6,1158.6 L183.6,1157.3 L184.6,1156.0 L185.6,1154.7 L186.6,1153.4 L187.6,1152.1 L188.6,1150.8 L189.6,1149.5 L190.6,1148.2 L191.6,1146.9 L192.6,1145.6 L193.6,1144.4 L194.6,1143.1 L195.6,1141.8 L196.6,1140.5 L197.6,1139.2 L198.6,1137.9 L199.6,1136.6 L200.6,1135.4 L201.6,1134.1 L202.6,1132.8 L203.6,1131.6 L204.6,1130.4 L205.6,1129.2 L206.6,1128.1 L207.6,1127.1 L208.6,1126.1 L209.6,1125.2 L210.6,1124.3 L211.6,1123.5 L212.6,1122.8 L213.6,1122.0 L214.6,1121.3 L215.6,1120.6 L216.6,1120.0 L217.6,1119.3 L218.6,1118.6 L219.6,1118.0 L220.6,1117.4 L221.6,1116.7 L222.6,1116.1 L223.6,1115.6 L224.6,1115.0 L225.6,1114.5 L226.6,1114.0 L227.6,1113.6 L228.6,1113.1 L229.6,1112.7 L230.6,1112.3 L231.6,1111.9 L232.6,1111.4 L233.6,1111.0 L234.6,1110.6 L235.6,1110.2 L236.6,1109.8 L237.6,1109.4 L238.6,1109.0 L239.6,1108.6 L240.6,1108.2 L241.6,1107.8 L242.6,1107.4 L243.6,1107.0 L244.6,1106.6 L245.6,1106.2 L246.6,1105.8 L247.6,1105.4 L248.6,1105.0 L249.6,1104.6 L250.6,1104.2 L251.6,1103.8 L252.6,1103.4 L253.6,1103.1 L254.6,1102.7 L255.6,1102.3 L256.6,1101.9 L257.6,1101.5 L258.6,1101.2 L259.6,1100.9 L260.6,1100.6 L261.6,1100.3 L262.6,1100.1 L263.6,1100.0 L264.6,1100.0 L265.6,1100.0 L266.6,1100.1 L267.6,1100.2 L268.6,1100.3 L269.6,1100.5 L270.6,1100.7 L271.6,1100.9 L272.6,1101.1 L273.6,1101.3 L274.6,1101.5 L275.6,1101.8 L276.6,1102.0 L277.6,1102.2 L278.6,1102.5 L279.6,1102.8 L280.6,1103.1 L281.6,1103.5 L282.6,1103.9 L283.6,1104.3 L284.6,1104.8 L285.6,1105.2 L286.6,1105.7 L287.6,1106.2 L288.6,1106.7 L289.6,1107.2 L290.6,1107.7 L291.6,1108.2 L292.6,1108.8 L293.6,1109.3 L294.6,1109.8 L295.6,1110.3 L296.6,1110.9 L297.6,1111.4 L298.6,1112.0 L299.6,1112.6 L300.6,1113.2 L301.6,1113.8 L302.6,1114.4 L303.6,1115.0 L304.6,1115.7 L305.6,1116.3 L306.6,1116.9 L307.6,1117.6 L308.6,1118.2 L309.6,1118.8 L310.6,1119.4 L311.6,1120.0 L312.6,1120.6 L313.6,1121.2 L314.6,1121.7 L315.6,1122.3 L316.6,1122.8 L317.6,1123.3 L318.6,1123.8 L319.6,1124.4 L320.6,1124.9 L321.6,1125.6 L322.6,1126.2 L323.6,1126.9 L324.6,1127.7 L325.6,1128.4 L326.6,1129.2 L327.6,1130.0 L328.6,1130.8 L329.6,1131.6 L330.6,1132.4 L331.6,1133.2 L332.6,1134.0 L333.6,1134.8 L334.6,1135.6 L335.6,1136.5 L336.6,1137.3 L337.6,1138.2 L338.6,1139.0 L339.6,1139.9 L340.6,1140.7 L341.6,1141.6 L342.6,1142.5 L343.6,1143.3 L344.6,1144.2 L345.6,1145.1 L346.6,1146.0 L347.6,1146.9 L348.6,1147.8 L349.6,1148.7 L350.6,1149.6 L351.6,1150.6 L352.6,1151.6 L353.6,1152.5 L354.6,1153.5 L355.6,1154.5 L356.6,1155.5 L357.6,1156.5 L358.6,1157.5 L359.6,1158.5 L360.6,1159.5 L361.6,1160.6 L362.6,1161.6 L363.6,1162.7 L364.6,1163.8 L365.6,1164.9 L366.6,1166.0 L367.6,1167.2 L368.6,1168.3 L369.6,1169.5 L370.6,1170.7 L371.6,1171.9 L372.6,1173.1 L373.6,1174.3 L374.6,1175.5 L375.6,1176.7 L376.6,1177.9 L377.6,1179.1 L378.6,1180.3 L379.6,1181.5 L380.6,1182.7 L381.6,1183.9 L382.6,1185.1 L383.6,1186.3 L384.6,1187.5 L385.6,1188.7 L386.6,1189.9 L387.6,1191.1 L388.6,1192.3 L389.6,1193.5 L390.6,1194.7 L391.6,1195.9 L392.6,1197.1 L393.6,1198.3 L394.6,1199.5 L395.6,1200.7 L396.6,1201.9 L397.6,1203.1 L398.6,1204.3 L399.6,1205.5 L400.6,1206.7 L401.6,1207.9 L402.6,1209.2 L403.6,1210.4 L404.6,1211.6 L405.6,1212.8 L406.6,1214.0 L407.6,1215.2 L408.6,1216.4 L409.6,1217.6 L410.6,1218.8 L411.6,1220.0 L412.6,1221.2 L413.6,1222.4 L414.6,1223.6 L415.6,1224.8 L416.6,1226.0 L417.6,1227.2 L418.6,1228.4 L419.6,1229.6 L420.6,1230.9 L421.6,1232.1 L422.6,1233.4 L423.6,1234.8 L424.6,1236.2 L425.6,1237.6 L426.6,1239.0 L427.6,1240.5 L428.6,1242.0 L429.6,1243.6 L430.6,1245.1 L431.6,1246.6 L432.6,1248.1 L433.6,1249.6 L434.6,1251.0 L435.6,1252.3 L436.6,1253.7 L437.6,1254.9 L438.6,1256.2 L439.6,1257.3 L440.6,1258.5 L441.6,1259.6 L442.6,1260.7 L443.6,1261.8 L444.6,1262.9 L445.6,1264.0 L446.6,1265.1 L447.6,1266.2 L448.6,1267.3 L449.6,1268.4 L450.6,1269.5 L451.6,1270.6 L452.6,1271.7 L453.6,1272.8 L454.6,1273.9 L455.6,1275.0 L456.6,1276.1 L457.6,1277.2 L458.6,1278.3 L459.6,1279.4 L460.6,1280.5 L461.6,1281.6 L462.6,1282.7 L463.6,1283.7 L464.6,1284.8 L465.6,1285.8 L466.6,1286.8 L467.6,1287.8 L468.6,1288.7 L469.6,1289.6 L470.6,1290.5 L471.6,1291.4 L472.6,1292.2 L473.6,1293.0 L474.6,1293.8 L475.6,1294.6 L476.6,1295.4 L477.6,1296.2 L478.6,1297.0 L479.6,1297.8 L480.6,1298.5 L481.6,1299.2 L482.6,1299.9 L483.6,1300.5 L484.6,1301.1 L485.6,1301.6 L486.6,1302.1 L487.6,1302.6 L488.6,1303.0 L489.6,1303.4 L490.6,1303.8 L491.6,1304.3 L492.6,1304.7 L493.6,1305.1 L494.6,1305.5 L495.6,1305.9 L496.6,1306.3 L497.6,1306.7 L498.6,1307.2 L499.6,1307.6 L500.6,1308.1 L501.6,1308.5 L502.6,1309.0 L503.6,1309.5 L504.6,1310.0 L505.6,1310.5 L506.6,1311.0 L507.6,1311.5 L508.6,1312.0 L509.6,1312.5 L510.6,1313.0 L511.6,1313.5 L512.6,1314.0 L513.6,1314.5 L514.6,1315.1 L515.6,1315.6 L516.6,1316.2 L517.6,1316.7 L518.6,1317.3 L519.6,1317.9 L520.6,1318.5 L521.6,1319.1 L522.6,1319.7 L523.6,1320.3 L524.6,1320.9 L525.6,1321.5 L526.6,1322.0 L527.6,1322.6 L528.6,1323.2 L529.6,1323.8 L530.6,1324.4 L531.6,1325.0 L532.6,1325.5 L533.6,1326.1 L534.6,1326.6 L535.6,1327.1 L536.6,1327.6 L537.6,1328.1 L538.6,1328.6 L539.6,1329.0 L540.6,1329.4 L541.6,1329.7 L542.6,1330.0 L543.6,1330.3 L544.6,1330.6 L545.6,1330.8 L546.6,1331.0 L547.6,1331.3 L548.6,1331.5 L549.6,1331.7 L550.6,1331.9 L551.6,1332.1 L552.6,1332.3 L553.6,1332.4 L554.6,1332.6 L555.6,1332.8 L556.6,1332.9 L557.6,1333.1 L558.6,1333.2 L559.6,1333.4 L560.6,1333.6 L561.6,1333.7 L562.6,1333.8 L563.6,1334.0 L564.6,1334.1 L565.6,1334.2 L566.6,1334.4 L567.6,1334.5 L568.6,1334.6 L569.6,1334.7 L570.6,1334.8 L571.6,1334.9 L572.6,1335.0 L573.6,1335.1 L574.6,1335.2 L575.6,1335.3 L576.6,1335.4 L577.6,1335.5 L578.6,1335.6 L579.6,1335.7 L580.6,1335.8 L581.6,1335.9 L582.6,1336.0 L583.6,1336.1 L584.6,1336.2 L585.6,1336.3 L586.6,1336.4 L587.6,1336.5 L588.6,1336.6 L589.6,1336.7 L590.6,1336.8 L591.6,1336.9 L592.6,1337.1 L593.6,1337.2 L594.6,1337.3 L595.6,1337.5 L596.6,1337.6 L597.6,1337.8 L598.6,1337.9 L599.6,1338.1 L600.6,1338.2 L601.6,1338.4 L602.6,1338.6 L603.6,1338.7 L604.6,1338.9 L605.6,1339.1 L606.6,1339.3 L607.6,1339.5 L608.6,1339.7 L609.6,1339.9 L610.6,1340.2 L611.6,1340.4 L612.6,1340.7 L613.6,1340.9 L614.6,1341.2 L615.6,1341.4 L616.6,1341.7 L617.6,1341.9 L618.6,1342.2 L619.6,1342.4 L620.6,1342.7 L621.6,1342.9 L622.6,1343.2 L623.6,1343.4 L624.6,1343.7 L625.6,1343.9 L626.6,1344.1 L627.6,1344.4 L628.6,1344.6 L629.6,1344.9 L630.6,1345.1 L631.6,1345.4 L632.6,1345.6 L633.6,1345.8 L634.6,1346.0 L635.6,1346.2 L636.6,1346.5 L637.6,1346.7 L638.6,1346.8 L639.6,1347.0 L640.6,1347.2 L641.6,1347.4 L642.6,1347.6 L643.6,1347.8 L644.6,1348.0 L645.6,1348.2 L646.6,1348.4 L647.6,1348.7 L648.6,1348.9 L649.6,1349.1 L650.6,1349.3 L651.6,1349.6 L652.6,1349.8 L653.6,1350.1 L654.6,1350.3 L655.6,1350.6 L656.6,1350.8 L657.6,1351.1 L658.6,1351.3 L659.6,1351.6 L660.6,1351.8 L661.6,1352.1 L662.6,1352.4 L663.6,1352.6 L664.6,1352.9 L665.6,1353.2 L666.6,1353.4 L667.6,1353.7 L668.6,1354.0 L669.6,1354.2 L670.6,1354.5 L671.6,1354.8 L672.6,1355.0 L673.6,1355.3 L674.6,1355.6 L675.6,1355.8 L676.6,1356.1 L677.6,1356.4 L678.6,1356.7 L679.6,1356.9 L680.6,1357.2 L681.6,1357.5 L682.6,1357.7 L683.6,1358.0 L684.6,1358.3 L685.6,1358.5 L686.6,1358.8 L687.6,1359.0 L688.6,1359.2 L689.6,1359.4 L690.6,1359.7 L691.6,1359.9 L692.6,1360.1 L693.6,1360.3 L694.6,1360.5 L695.6,1360.7 L696.6,1360.9 L697.6,1361.1 L698.6,1361.3 L699.6,1361.5 L700.6,1361.7 L701.6,1361.9 L702.6,1362.1 L703.6,1362.3 L704.6,1362.6 L705.6,1362.8 L706.6,1363.1 L707.6,1363.3 L708.6,1363.6 L709.6,1363.9 L710.6,1364.1 L711.6,1364.4 L712.6,1364.7 L713.6,1364.9 L714.6,1365.2 L715.6,1365.5 L716.6,1365.7 L717.6,1366.0 L718.6,1366.2 L719.6,1366.5 L720.6,1366.7 L721.6,1366.9 L722.6,1367.1 L723.6,1367.3 L724.6,1367.5 L725.6,1367.7 L726.6,1367.9 L727.6,1368.1 L728.6,1368.3 L729.6,1368.5 L730.6,1368.7 L731.6,1368.9 L732.6,1369.1 L733.6,1369.3 L734.6,1369.5 L735.6,1369.7 L736.6,1369.8 L737.6,1370.0 L738.6,1370.1 L739.6,1370.3 L740.6,1370.4 L741.6,1370.5 L742.6,1370.7 L743.6,1370.8 L744.6,1370.9 L745.6,1371.1 L746.6,1371.2 L747.6,1371.3 L748.6,1371.5 L749.6,1371.6 L750.6,1371.8 L751.6,1372.0 L752.6,1372.1 L753.6,1372.3 L754.6,1372.5 L755.6,1372.7 L756.6,1372.9 L757.6,1373.1 L758.6,1373.3 L759.6,1373.5 L760.6,1373.7 L761.6,1373.9 L762.6,1374.1 L763.6,1374.3 L764.6,1374.5 L765.6,1374.7 L766.6,1374.8 L767.6,1375.0 L768.6,1375.2 L769.6,1375.3 L770.6,1375.5 L771.6,1375.6 L772.6,1375.7 L773.6,1375.9 L774.6,1376.0 L775.6,1376.1 L776.6,1376.3 L777.6,1376.4 L778.6,1376.5 L779.6,1376.7 L780.6,1376.8 L781.6,1376.9 L782.6,1377.0 L783.6,1377.1 L784.6,1377.2 L785.6,1377.3 L786.6,1377.4 L787.6,1377.5 L788.6,1377.6 L789.6,1377.7 L790.6,1377.8 L791.6,1377.9 L792.6,1378.0 L793.6,1378.1 L794.6,1378.2 L795.6,1378.3 L796.6,1378.4 L797.6,1378.5 L798.6,1378.5 L799.6,1378.6 L800.6,1378.7 L801.6,1378.8 L802.6,1378.9 L803.6,1378.9 L804.6,1379.0 L805.6,1379.1 L806.6,1379.1 L807.6,1379.2 L808.6,1379.3 L809.6,1379.3 L810.6,1379.4 L811.6,1379.5 L812.6,1379.6 L813.6,1379.6 L814.6,1379.7 L815.6,1379.8 L816.6,1379.8 L817.6,1379.9 L818.6,1380.0 L819.6,1380.0 L820.6,1380.1 L821.6,1380.2 L822.6,1380.2 L823.6,1380.3 L824.6,1380.4 L825.6,1380.4 L826.6,1380.5 L827.6,1380.6 L828.6,1380.6 L829.6,1380.7 L830.6,1380.7 L831.0,1380.8" fill="none" stroke="#7b2f95" stroke-width="4.2" stroke-linejoin="round" stroke-linecap="round" clip-path="url(#clipc)"/>
<path d="M97.4,867.4 H830.7" fill="none" stroke="#262626" stroke-width="2"/>
<path d="M830.7,866.4 V1403.3" fill="none" stroke="#111" stroke-width="2.1"/>
<path d="M97.4,866.4 V1403.3" fill="none" stroke="#000" stroke-width="2.4"/>
<path d="M96.2,1403.3 H831.9000000000001" fill="none" stroke="#000" stroke-width="3"/>
<text x="97.4" y="1450.6" font-size="31" fill="#404040" text-anchor="middle" >0</text>
<text x="280.7" y="1450.6" font-size="31" fill="#404040" text-anchor="middle" >1</text>
<text x="464.1" y="1450.6" font-size="31" fill="#404040" text-anchor="middle" >2</text>
<text x="647.4" y="1450.6" font-size="31" fill="#404040" text-anchor="middle" >3</text>
<text x="830.7" y="1450.6" font-size="31" fill="#404040" text-anchor="middle" >4</text>
<text x="82.7" y="1416.5" font-size="31" fill="#000" text-anchor="end" >0</text>
<text x="82.7" y="1263.4" font-size="31" fill="#000" text-anchor="end" >10</text>
<text x="82.7" y="1110.3" font-size="31" fill="#000" text-anchor="end" >20</text>
<text x="82.7" y="957.2" font-size="31" fill="#000" text-anchor="end" >30</text>
<text x="844.7" y="1416.5" font-size="31" fill="#000" text-anchor="start" >0</text>
<text x="844.7" y="1263.4" font-size="31" fill="#000" text-anchor="start" >0.25</text>
<text x="844.7" y="1110.3" font-size="31" fill="#000" text-anchor="start" >0.5</text>
<text x="844.7" y="957.2" font-size="31" fill="#000" text-anchor="start" >0.75</text>
<text x="29.5" y="1137.2" font-size="38" fill="#000" text-anchor="middle" transform="rotate(-90 29.5 1137.2)">Number of gymnosperm sites</text>
<text x="959.0" y="1136.0" font-size="38" fill="#000" text-anchor="middle" transform="rotate(-90 959 1136)">Kernel density</text>
<text x="463.0" y="1500.7" font-size="38" fill="#404040" text-anchor="middle" >ln(Rs+1)</text>
<text x="6.4" y="823.0" font-size="37" fill="#000" text-anchor="start" font-weight="bold" >c</text>
<text x="90.0" y="826.5" font-size="38.3" fill="#000" text-anchor="start" >Temporal change of gymnosperm resilience</text>
<circle cx="597.1" cy="917.6" r="8.9" fill="#a0a0a0"/>
<text x="634.3" y="929.5" font-size="31" fill="#000" text-anchor="start" >Before 1950</text>
<circle cx="597.1" cy="960.5" r="8.9" fill="#4674bf"/>
<text x="634.3" y="972.4" font-size="31" fill="#000" text-anchor="start" >1950-1969</text>
<circle cx="597.1" cy="1003.4" r="8.9" fill="#eb8434"/>
<text x="634.3" y="1015.3" font-size="31" fill="#000" text-anchor="start" >1970-1989</text>
<circle cx="597.1" cy="1046.3" r="8.9" fill="#7d3a9e"/>
<text x="634.3" y="1058.2" font-size="31" fill="#000" text-anchor="start" >1990-2009</text>
<rect x="232.7" y="875.1" width="290.3" height="121.10000000000002" fill="#fff" stroke="#454545" stroke-width="2"/>
<text x="232.7" y="1034.6" font-size="23" fill="#404040" text-anchor="middle" >-2</text>
<text x="361.7" y="1034.6" font-size="23" fill="#404040" text-anchor="middle" >0</text>
<text x="490.7" y="1034.6" font-size="23" fill="#404040" text-anchor="middle" >2</text>
<path d="M232.7,875.1 v5 M232.7,996.2 v-5 M361.7,875.1 v5 M361.7,996.2 v-5 M490.7,875.1 v5 M490.7,996.2 v-5 M232.7,916.6 h5 M523,916.6 h-5 M232.7,954.2 h5 M523,954.2 h-5" stroke="#333" stroke-width="1.6" fill="none"/>
<text x="361.6" y="1064.6" font-size="27.3" fill="#404040" text-anchor="middle" textLength="277">Relative to 1950-1969</text>
<path d="M361.7,876.1 V995.2" stroke="#d8d84c" stroke-width="2.2"/>
<path d="M247.5,916.6 H329.5 M415.9,916.6 H494.6" stroke="#7030a0" stroke-width="4.4" stroke-linecap="round"/>
<rect x="329.5" y="908.9" width="86.4" height="15.5" fill="#c2a8dc" stroke="#7030a0" stroke-width="4.2" rx="1.5"/>
<circle cx="379.1" cy="916.6" r="5" fill="#7030a0"/>
<path d="M373.3,911.4 V921.9" stroke="#e0d84a" stroke-width="3"/>
<path d="M260.4,954.2 H334.6 M414.6,954.2 H487.5" stroke="#ed7d31" stroke-width="4.4" stroke-linecap="round"/>
<rect x="334.6" y="946.5" width="80.0" height="15.5" fill="#f7bc8e" stroke="#ed7d31" stroke-width="4.2" rx="1.5"/>
<circle cx="370.8" cy="954.2" r="5" fill="#ed7d31"/>
<path d="M368.2,949.0 V959.5" stroke="#e0d84a" stroke-width="3"/>
<text x="265.3" y="909.1" font-size="25" fill="#613a96" text-anchor="start" font-weight="bold" >(-) 42%</text>
<text x="414.4" y="909.1" font-size="25" fill="#613a96" text-anchor="start" font-weight="bold" >(+) 58%</text>
<text x="265.3" y="982.7" font-size="25" fill="#e47f30" text-anchor="start" font-weight="bold" >(-) 45%</text>
<text x="414.4" y="982.7" font-size="25" fill="#e47f30" text-anchor="start" font-weight="bold" >(+) 55%</text>
<text x="221.7" y="925.0" font-size="24.5" fill="#613a96" text-anchor="end" >1990-2009</text>
<text x="221.7" y="966.2" font-size="24.5" fill="#e47f30" text-anchor="end" >1970-1989</text>
<text x="508.0" y="936.0" font-size="32" fill="#7030a0" text-anchor="middle" font-weight="bold" >*</text>
<clipPath id="clipd"><rect x="1225.6" y="864" width="733.6000000000001" height="538.8"/></clipPath>
<path d="M1225.6,1402.8 v-7.5 M1225.6,866 v7.5 M1409.0,1402.8 v-7.5 M1409.0,866 v7.5 M1592.4,1402.8 v-7.5 M1592.4,866 v7.5 M1775.8,1402.8 v-7.5 M1775.8,866 v7.5 M1959.2,1402.8 v-7.5 M1959.2,866 v7.5 M1225.6,1402.8 h7.5 M1225.6,1268.6 h7.5 M1225.6,1134.4 h7.5 M1225.6,1000.2 h7.5 M1225.6,866.0 h7.5 M1959.2,1402.8 h-7.5 M1959.2,1268.6 h-7.5 M1959.2,1134.4 h-7.5 M1959.2,1000.2 h-7.5 M1959.2,866.0 h-7.5" stroke="#1a1a1a" stroke-width="2" fill="none"/>
<g clip-path="url(#clipd)">
<g fill="#a5a5a5" fill-opacity="0.5"><rect x="1237.64" y="1358.07" width="12.60" height="44.73"/><rect x="1274.32" y="1358.07" width="12.60" height="44.73"/><rect x="1292.66" y="1268.60" width="12.60" height="134.20"/><rect x="1311.00" y="1358.07" width="12.60" height="44.73"/><rect x="1329.34" y="1313.33" width="12.60" height="89.47"/><rect x="1347.68" y="1223.87" width="12.60" height="178.93"/><rect x="1366.02" y="1223.87" width="12.60" height="178.93"/><rect x="1384.36" y="1268.60" width="12.60" height="134.20"/><rect x="1402.70" y="1313.33" width="12.60" height="89.47"/><rect x="1421.04" y="1268.60" width="12.60" height="134.20"/><rect x="1439.38" y="1358.07" width="12.60" height="44.73"/><rect x="1457.72" y="1313.33" width="12.60" height="89.47"/><rect x="1476.06" y="1313.33" width="12.60" height="89.47"/><rect x="1512.74" y="1358.07" width="12.60" height="44.73"/><rect x="1549.42" y="1358.07" width="12.60" height="44.73"/><rect x="1567.76" y="1358.07" width="12.60" height="44.73"/><rect x="1714.48" y="1358.07" width="12.60" height="44.73"/></g>
<path d="M1237.64,1358.07 h12.60 M1274.32,1358.07 h12.60 M1292.66,1268.60 h12.60 M1311.00,1358.07 h12.60 M1329.34,1313.33 h12.60 M1347.68,1223.87 h12.60 M1366.02,1223.87 h12.60 M1384.36,1268.60 h12.60 M1402.70,1313.33 h12.60 M1421.04,1268.60 h12.60 M1439.38,1358.07 h12.60 M1457.72,1313.33 h12.60 M1476.06,1313.33 h12.60 M1512.74,1358.07 h12.60 M1549.42,1358.07 h12.60 M1567.76,1358.07 h12.60 M1714.48,1358.07 h12.60" stroke="#fff" stroke-width="1.3" fill="none"/>
<g fill="#5468b0" fill-opacity="0.5"><rect x="1237.64" y="1358.07" width="12.60" height="44.73"/><rect x="1255.98" y="1358.07" width="12.60" height="44.73"/><rect x="1274.32" y="1223.87" width="12.60" height="178.93"/><rect x="1292.66" y="1268.60" width="12.60" height="134.20"/><rect x="1311.00" y="1223.87" width="12.60" height="178.93"/><rect x="1329.34" y="1179.13" width="12.60" height="223.67"/><rect x="1347.68" y="1179.13" width="12.60" height="223.67"/><rect x="1366.02" y="1089.67" width="12.60" height="313.13"/><rect x="1384.36" y="1268.60" width="12.60" height="134.20"/><rect x="1402.70" y="1268.60" width="12.60" height="134.20"/><rect x="1421.04" y="1179.13" width="12.60" height="223.67"/><rect x="1439.38" y="1358.07" width="12.60" height="44.73"/><rect x="1457.72" y="1223.87" width="12.60" height="178.93"/><rect x="1476.06" y="1313.33" width="12.60" height="89.47"/><rect x="1512.74" y="1268.60" width="12.60" height="134.20"/><rect x="1549.42" y="1268.60" width="12.60" height="134.20"/><rect x="1567.76" y="1313.33" width="12.60" height="89.47"/><rect x="1586.10" y="1358.07" width="12.60" height="44.73"/><rect x="1604.44" y="1358.07" width="12.60" height="44.73"/><rect x="1677.80" y="1358.07" width="12.60" height="44.73"/><rect x="1732.82" y="1358.07" width="12.60" height="44.73"/><rect x="1769.50" y="1358.07" width="12.60" height="44.73"/></g>
<path d="M1237.64,1358.07 h12.60 M1255.98,1358.07 h12.60 M1274.32,1223.87 h12.60 M1292.66,1268.60 h12.60 M1311.00,1223.87 h12.60 M1329.34,1179.13 h12.60 M1347.68,1179.13 h12.60 M1366.02,1089.67 h12.60 M1384.36,1268.60 h12.60 M1402.70,1268.60 h12.60 M1421.04,1179.13 h12.60 M1439.38,1358.07 h12.60 M1457.72,1223.87 h12.60 M1476.06,1313.33 h12.60 M1512.74,1268.60 h12.60 M1549.42,1268.60 h12.60 M1567.76,1313.33 h12.60 M1586.10,1358.07 h12.60 M1604.44,1358.07 h12.60 M1677.80,1358.07 h12.60 M1732.82,1358.07 h12.60 M1769.50,1358.07 h12.60" stroke="#fff" stroke-width="1.3" fill="none"/>
<g fill="#e08a30" fill-opacity="0.5"><rect x="1237.64" y="1313.33" width="12.60" height="89.47"/><rect x="1274.32" y="1358.07" width="12.60" height="44.73"/><rect x="1292.66" y="1179.13" width="12.60" height="223.67"/><rect x="1311.00" y="1358.07" width="12.60" height="44.73"/><rect x="1329.34" y="1313.33" width="12.60" height="89.47"/><rect x="1347.68" y="1223.87" width="12.60" height="178.93"/><rect x="1366.02" y="1223.87" width="12.60" height="178.93"/><rect x="1384.36" y="1268.60" width="12.60" height="134.20"/><rect x="1402.70" y="1313.33" width="12.60" height="89.47"/><rect x="1421.04" y="1223.87" width="12.60" height="178.93"/><rect x="1439.38" y="1223.87" width="12.60" height="178.93"/><rect x="1457.72" y="1313.33" width="12.60" height="89.47"/><rect x="1476.06" y="1089.67" width="12.60" height="313.13"/><rect x="1494.40" y="1313.33" width="12.60" height="89.47"/><rect x="1512.74" y="1134.40" width="12.60" height="268.40"/><rect x="1531.08" y="1358.07" width="12.60" height="44.73"/><rect x="1549.42" y="1358.07" width="12.60" height="44.73"/><rect x="1567.76" y="1268.60" width="12.60" height="134.20"/><rect x="1586.10" y="1313.33" width="12.60" height="89.47"/><rect x="1622.78" y="1313.33" width="12.60" height="89.47"/><rect x="1659.46" y="1313.33" width="12.60" height="89.47"/><rect x="1714.48" y="1358.07" width="12.60" height="44.73"/><rect x="1787.84" y="1313.33" width="12.60" height="89.47"/><rect x="1897.88" y="1358.07" width="12.60" height="44.73"/></g>
<path d="M1237.64,1313.33 h12.60 M1274.32,1358.07 h12.60 M1292.66,1179.13 h12.60 M1311.00,1358.07 h12.60 M1329.34,1313.33 h12.60 M1347.68,1223.87 h12.60 M1366.02,1223.87 h12.60 M1384.36,1268.60 h12.60 M1402.70,1313.33 h12.60 M1421.04,1223.87 h12.60 M1439.38,1223.87 h12.60 M1457.72,1313.33 h12.60 M1476.06,1089.67 h12.60 M1494.40,1313.33 h12.60 M1512.74,1134.40 h12.60 M1531.08,1358.07 h12.60 M1549.42,1358.07 h12.60 M1567.76,1268.60 h12.60 M1586.10,1313.33 h12.60 M1622.78,1313.33 h12.60 M1659.46,1313.33 h12.60 M1714.48,1358.07 h12.60 M1787.84,1313.33 h12.60 M1897.88,1358.07 h12.60" stroke="#fff" stroke-width="1.3" fill="none"/>
<g fill="#7a3c9c" fill-opacity="0.5"><rect x="1219.30" y="1358.07" width="12.60" height="44.73"/><rect x="1237.64" y="1358.07" width="12.60" height="44.73"/><rect x="1255.98" y="1223.87" width="12.60" height="178.93"/><rect x="1274.32" y="1313.33" width="12.60" height="89.47"/><rect x="1292.66" y="1179.13" width="12.60" height="223.67"/><rect x="1311.00" y="1268.60" width="12.60" height="134.20"/><rect x="1329.34" y="1313.33" width="12.60" height="89.47"/><rect x="1347.68" y="1179.13" width="12.60" height="223.67"/><rect x="1366.02" y="1179.13" width="12.60" height="223.67"/><rect x="1384.36" y="1223.87" width="12.60" height="178.93"/><rect x="1402.70" y="1089.67" width="12.60" height="313.13"/><rect x="1421.04" y="1268.60" width="12.60" height="134.20"/><rect x="1439.38" y="1358.07" width="12.60" height="44.73"/><rect x="1457.72" y="1223.87" width="12.60" height="178.93"/><rect x="1476.06" y="1313.33" width="12.60" height="89.47"/><rect x="1494.40" y="1223.87" width="12.60" height="178.93"/><rect x="1512.74" y="1358.07" width="12.60" height="44.73"/><rect x="1531.08" y="1358.07" width="12.60" height="44.73"/><rect x="1549.42" y="1313.33" width="12.60" height="89.47"/><rect x="1567.76" y="1358.07" width="12.60" height="44.73"/><rect x="1622.78" y="1358.07" width="12.60" height="44.73"/><rect x="1696.14" y="1358.07" width="12.60" height="44.73"/><rect x="1714.48" y="1358.07" width="12.60" height="44.73"/><rect x="1879.54" y="1358.07" width="12.60" height="44.73"/><rect x="1916.22" y="1358.07" width="12.60" height="44.73"/></g>
<path d="M1219.30,1358.07 h12.60 M1237.64,1358.07 h12.60 M1255.98,1223.87 h12.60 M1274.32,1313.33 h12.60 M1292.66,1179.13 h12.60 M1311.00,1268.60 h12.60 M1329.34,1313.33 h12.60 M1347.68,1179.13 h12.60 M1366.02,1179.13 h12.60 M1384.36,1223.87 h12.60 M1402.70,1089.67 h12.60 M1421.04,1268.60 h12.60 M1439.38,1358.07 h12.60 M1457.72,1223.87 h12.60 M1476.06,1313.33 h12.60 M1494.40,1223.87 h12.60 M1512.74,1358.07 h12.60 M1531.08,1358.07 h12.60 M1549.42,1313.33 h12.60 M1567.76,1358.07 h12.60 M1622.78,1358.07 h12.60 M1696.14,1358.07 h12.60 M1714.48,1358.07 h12.60 M1879.54,1358.07 h12.60 M1916.22,1358.07 h12.60" stroke="#fff" stroke-width="1.3" fill="none"/>
</g>
<path d="M1225.8,1354.0 L1226.8,1352.5 L1227.8,1351.0 L1228.8,1349.5 L1229.8,1348.0 L1230.8,1346.5 L1231.8,1345.0 L1232.8,1343.5 L1233.8,1342.0 L1234.8,1340.5 L1235.8,1339.0 L1236.8,1337.5 L1237.8,1336.0 L1238.8,1334.5 L1239.8,1332.9 L1240.8,1331.4 L1241.8,1329.8 L1242.8,1328.3 L1243.8,1326.7 L1244.8,1325.1 L1245.8,1323.5 L1246.8,1321.9 L1247.8,1320.3 L1248.8,1318.7 L1249.8,1317.1 L1250.8,1315.5 L1251.8,1313.9 L1252.8,1312.3 L1253.8,1310.7 L1254.8,1309.1 L1255.8,1307.4 L1256.8,1305.8 L1257.8,1304.2 L1258.8,1302.6 L1259.8,1300.9 L1260.8,1299.2 L1261.8,1297.5 L1262.8,1295.7 L1263.8,1293.9 L1264.8,1292.0 L1265.8,1290.1 L1266.8,1288.2 L1267.8,1286.3 L1268.8,1284.3 L1269.8,1282.3 L1270.8,1280.3 L1271.8,1278.3 L1272.8,1276.3 L1273.8,1274.3 L1274.8,1272.4 L1275.8,1270.4 L1276.8,1268.4 L1277.8,1266.4 L1278.8,1264.4 L1279.8,1262.3 L1280.8,1260.3 L1281.8,1258.2 L1282.8,1256.2 L1283.8,1254.0 L1284.8,1251.9 L1285.8,1249.6 L1286.8,1247.4 L1287.8,1245.1 L1288.8,1242.8 L1289.8,1240.5 L1290.8,1238.1 L1291.8,1235.7 L1292.8,1233.4 L1293.8,1231.0 L1294.8,1228.6 L1295.8,1226.3 L1296.8,1223.9 L1297.8,1221.5 L1298.8,1219.1 L1299.8,1216.8 L1300.8,1214.4 L1301.8,1212.0 L1302.8,1209.6 L1303.8,1207.1 L1304.8,1204.7 L1305.8,1202.2 L1306.8,1199.7 L1307.8,1197.2 L1308.8,1194.7 L1309.8,1192.1 L1310.8,1189.6 L1311.8,1187.0 L1312.8,1184.4 L1313.8,1181.8 L1314.8,1179.3 L1315.8,1176.7 L1316.8,1174.2 L1317.8,1171.7 L1318.8,1169.2 L1319.8,1166.8 L1320.8,1164.4 L1321.8,1162.2 L1322.8,1160.0 L1323.8,1158.0 L1324.8,1156.1 L1325.8,1154.2 L1326.8,1152.4 L1327.8,1150.7 L1328.8,1149.0 L1329.8,1147.3 L1330.8,1145.6 L1331.8,1143.9 L1332.8,1142.3 L1333.8,1140.6 L1334.8,1139.0 L1335.8,1137.3 L1336.8,1135.6 L1337.8,1134.0 L1338.8,1132.3 L1339.8,1130.7 L1340.8,1129.1 L1341.8,1127.4 L1342.8,1125.8 L1343.8,1124.2 L1344.8,1122.6 L1345.8,1121.0 L1346.8,1119.3 L1347.8,1117.7 L1348.8,1116.1 L1349.8,1114.5 L1350.8,1112.9 L1351.8,1111.3 L1352.8,1109.7 L1353.8,1108.1 L1354.8,1106.5 L1355.8,1104.9 L1356.8,1103.3 L1357.8,1101.8 L1358.8,1100.2 L1359.8,1098.6 L1360.8,1097.0 L1361.8,1095.5 L1362.8,1093.9 L1363.8,1092.4 L1364.8,1090.8 L1365.8,1089.3 L1366.8,1087.7 L1367.8,1086.2 L1368.8,1084.8 L1369.8,1083.4 L1370.8,1082.1 L1371.8,1080.9 L1372.8,1079.8 L1373.8,1078.8 L1374.8,1077.9 L1375.8,1077.1 L1376.8,1076.3 L1377.8,1075.6 L1378.8,1074.8 L1379.8,1074.1 L1380.8,1073.4 L1381.8,1072.7 L1382.8,1072.1 L1383.8,1071.4 L1384.8,1070.7 L1385.8,1070.0 L1386.8,1069.3 L1387.8,1068.7 L1388.8,1068.0 L1389.8,1067.4 L1390.8,1066.7 L1391.8,1066.1 L1392.8,1065.5 L1393.8,1064.9 L1394.8,1064.2 L1395.8,1063.6 L1396.8,1063.0 L1397.8,1062.4 L1398.8,1061.8 L1399.8,1061.3 L1400.8,1060.7 L1401.8,1060.1 L1402.8,1059.6 L1403.8,1059.1 L1404.8,1058.6 L1405.8,1058.2 L1406.8,1057.9 L1407.8,1057.6 L1408.8,1057.4 L1409.8,1057.2 L1410.8,1057.1 L1411.8,1057.1 L1412.8,1057.0 L1413.8,1057.0 L1414.8,1057.0 L1415.8,1057.0 L1416.8,1057.0 L1417.8,1057.0 L1418.8,1057.0 L1419.8,1057.0 L1420.8,1057.0 L1421.8,1057.0 L1422.8,1057.0 L1423.8,1057.1 L1424.8,1057.2 L1425.8,1057.3 L1426.8,1057.5 L1427.8,1057.9 L1428.8,1058.3 L1429.8,1058.9 L1430.8,1059.6 L1431.8,1060.5 L1432.8,1061.4 L1433.8,1062.5 L1434.8,1063.6 L1435.8,1064.7 L1436.8,1065.9 L1437.8,1067.1 L1438.8,1068.3 L1439.8,1069.5 L1440.8,1070.7 L1441.8,1071.9 L1442.8,1073.1 L1443.8,1074.2 L1444.8,1075.4 L1445.8,1076.6 L1446.8,1077.7 L1447.8,1078.8 L1448.8,1080.0 L1449.8,1081.1 L1450.8,1082.2 L1451.8,1083.3 L1452.8,1084.4 L1453.8,1085.5 L1454.8,1086.5 L1455.8,1087.6 L1456.8,1088.7 L1457.8,1089.8 L1458.8,1090.9 L1459.8,1092.0 L1460.8,1093.1 L1461.8,1094.2 L1462.8,1095.3 L1463.8,1096.4 L1464.8,1097.6 L1465.8,1098.7 L1466.8,1099.9 L1467.8,1101.0 L1468.8,1102.2 L1469.8,1103.4 L1470.8,1104.6 L1471.8,1105.8 L1472.8,1107.0 L1473.8,1108.2 L1474.8,1109.4 L1475.8,1110.6 L1476.8,1111.8 L1477.8,1112.9 L1478.8,1114.1 L1479.8,1115.3 L1480.8,1116.6 L1481.8,1117.8 L1482.8,1119.0 L1483.8,1120.3 L1484.8,1121.5 L1485.8,1122.9 L1486.8,1124.2 L1487.8,1125.6 L1488.8,1127.0 L1489.8,1128.4 L1490.8,1129.9 L1491.8,1131.4 L1492.8,1132.9 L1493.8,1134.4 L1494.8,1135.9 L1495.8,1137.4 L1496.8,1138.9 L1497.8,1140.3 L1498.8,1141.9 L1499.8,1143.4 L1500.8,1144.9 L1501.8,1146.4 L1502.8,1147.9 L1503.8,1149.4 L1504.8,1151.0 L1505.8,1152.6 L1506.8,1154.3 L1507.8,1156.0 L1508.8,1157.8 L1509.8,1159.6 L1510.8,1161.5 L1511.8,1163.4 L1512.8,1165.4 L1513.8,1167.4 L1514.8,1169.4 L1515.8,1171.4 L1516.8,1173.4 L1517.8,1175.4 L1518.8,1177.5 L1519.8,1179.5 L1520.8,1181.6 L1521.8,1183.6 L1522.8,1185.7 L1523.8,1187.8 L1524.8,1189.9 L1525.8,1192.0 L1526.8,1194.1 L1527.8,1196.3 L1528.8,1198.4 L1529.8,1200.5 L1530.8,1202.6 L1531.8,1204.7 L1532.8,1206.8 L1533.8,1208.8 L1534.8,1210.9 L1535.8,1212.8 L1536.8,1214.7 L1537.8,1216.5 L1538.8,1218.3 L1539.8,1219.9 L1540.8,1221.5 L1541.8,1223.0 L1542.8,1224.5 L1543.8,1225.9 L1544.8,1227.3 L1545.8,1228.7 L1546.8,1230.1 L1547.8,1231.5 L1548.8,1232.8 L1549.8,1234.2 L1550.8,1235.5 L1551.8,1236.8 L1552.8,1238.1 L1553.8,1239.3 L1554.8,1240.4 L1555.8,1241.5 L1556.8,1242.4 L1557.8,1243.4 L1558.8,1244.3 L1559.8,1245.1 L1560.8,1245.9 L1561.8,1246.7 L1562.8,1247.4 L1563.8,1248.2 L1564.8,1248.9 L1565.8,1249.7 L1566.8,1250.4 L1567.8,1251.2 L1568.8,1251.9 L1569.8,1252.7 L1570.8,1253.4 L1571.8,1254.2 L1572.8,1254.9 L1573.8,1255.7 L1574.8,1256.4 L1575.8,1257.2 L1576.8,1257.9 L1577.8,1258.7 L1578.8,1259.4 L1579.8,1260.2 L1580.8,1260.9 L1581.8,1261.7 L1582.8,1262.4 L1583.8,1263.1 L1584.8,1263.9 L1585.8,1264.6 L1586.8,1265.4 L1587.8,1266.1 L1588.8,1266.8 L1589.8,1267.5 L1590.8,1268.2 L1591.8,1268.9 L1592.8,1269.6 L1593.8,1270.2 L1594.8,1270.9 L1595.8,1271.6 L1596.8,1272.2 L1597.8,1272.9 L1598.8,1273.5 L1599.8,1274.2 L1600.8,1274.8 L1601.8,1275.5 L1602.8,1276.2 L1603.8,1276.8 L1604.8,1277.5 L1605.8,1278.2 L1606.8,1278.8 L1607.8,1279.5 L1608.8,1280.2 L1609.8,1280.9 L1610.8,1281.6 L1611.8,1282.2 L1612.8,1282.9 L1613.8,1283.6 L1614.8,1284.3 L1615.8,1285.0 L1616.8,1285.7 L1617.8,1286.4 L1618.8,1287.0 L1619.8,1287.7 L1620.8,1288.3 L1621.8,1288.9 L1622.8,1289.4 L1623.8,1290.0 L1624.8,1290.5 L1625.8,1291.0 L1626.8,1291.5 L1627.8,1292.0 L1628.8,1292.5 L1629.8,1293.0 L1630.8,1293.5 L1631.8,1294.0 L1632.8,1294.5 L1633.8,1295.0 L1634.8,1295.5 L1635.8,1296.0 L1636.8,1296.5 L1637.8,1297.0 L1638.8,1297.5 L1639.8,1298.0 L1640.8,1298.5 L1641.8,1299.0 L1642.8,1299.6 L1643.8,1300.1 L1644.8,1300.6 L1645.8,1301.2 L1646.8,1301.8 L1647.8,1302.5 L1648.8,1303.2 L1649.8,1303.9 L1650.8,1304.7 L1651.8,1305.6 L1652.8,1306.4 L1653.8,1307.3 L1654.8,1308.2 L1655.8,1309.1 L1656.8,1310.0 L1657.8,1310.9 L1658.8,1311.7 L1659.8,1312.6 L1660.8,1313.5 L1661.8,1314.4 L1662.8,1315.2 L1663.8,1316.0 L1664.8,1316.9 L1665.8,1317.7 L1666.8,1318.5 L1667.8,1319.3 L1668.8,1320.1 L1669.8,1320.9 L1670.8,1321.7 L1671.8,1322.5 L1672.8,1323.3 L1673.8,1324.0 L1674.8,1324.8 L1675.8,1325.6 L1676.8,1326.3 L1677.8,1327.0 L1678.8,1327.8 L1679.8,1328.5 L1680.8,1329.2 L1681.8,1329.9 L1682.8,1330.6 L1683.8,1331.3 L1684.8,1332.0 L1685.8,1332.7 L1686.8,1333.4 L1687.8,1334.1 L1688.8,1334.8 L1689.8,1335.5 L1690.8,1336.2 L1691.8,1336.9 L1692.8,1337.6 L1693.8,1338.3 L1694.8,1339.0 L1695.8,1339.7 L1696.8,1340.4 L1697.8,1341.1 L1698.8,1341.8 L1699.8,1342.5 L1700.8,1343.2 L1701.8,1343.9 L1702.8,1344.6 L1703.8,1345.3 L1704.8,1346.0 L1705.8,1346.7 L1706.8,1347.4 L1707.8,1348.1 L1708.8,1348.8 L1709.8,1349.5 L1710.8,1350.2 L1711.8,1350.9 L1712.8,1351.6 L1713.8,1352.3 L1714.8,1353.0 L1715.8,1353.6 L1716.8,1354.3 L1717.8,1354.9 L1718.8,1355.5 L1719.8,1356.2 L1720.8,1356.8 L1721.8,1357.4 L1722.8,1358.0 L1723.8,1358.6 L1724.8,1359.2 L1725.8,1359.8 L1726.8,1360.4 L1727.8,1361.0 L1728.8,1361.7 L1729.8,1362.3 L1730.8,1363.0 L1731.8,1363.6 L1732.8,1364.3 L1733.8,1365.0 L1734.8,1365.7 L1735.8,1366.4 L1736.8,1367.1 L1737.8,1367.8 L1738.8,1368.4 L1739.8,1369.1 L1740.8,1369.8 L1741.8,1370.5 L1742.8,1371.2 L1743.8,1372.0 L1744.8,1372.7 L1745.8,1373.4 L1746.8,1374.1 L1747.8,1374.8 L1748.8,1375.5 L1749.8,1376.2 L1750.8,1376.9 L1751.8,1377.6 L1752.8,1378.3 L1753.8,1379.0 L1754.8,1379.7 L1755.8,1380.3 L1756.8,1381.0 L1757.8,1381.6 L1758.8,1382.3 L1759.8,1382.9 L1760.8,1383.5 L1761.8,1384.1 L1762.8,1384.7 L1763.8,1385.3 L1764.8,1385.9 L1765.8,1386.5 L1766.8,1387.1 L1767.8,1387.7 L1768.8,1388.2 L1769.8,1388.8 L1770.8,1389.3 L1771.8,1389.8 L1772.8,1390.3 L1773.8,1390.7 L1774.8,1391.1 L1775.8,1391.6 L1776.8,1391.9 L1777.8,1392.3 L1778.8,1392.7 L1779.8,1393.0 L1780.8,1393.3 L1781.8,1393.5 L1782.8,1393.8 L1783.8,1394.0 L1784.8,1394.2 L1785.8,1394.4 L1786.8,1394.6 L1787.8,1394.8 L1788.8,1394.9 L1789.8,1395.1 L1790.8,1395.3 L1791.8,1395.4 L1792.8,1395.6 L1793.8,1395.8 L1794.8,1396.0 L1795.8,1396.1 L1796.8,1396.3 L1797.8,1396.4 L1798.8,1396.6 L1799.8,1396.7 L1800.8,1396.9 L1801.8,1397.0 L1802.8,1397.1 L1803.8,1397.3 L1804.8,1397.4 L1805.8,1397.5 L1806.8,1397.6 L1807.8,1397.7 L1808.8,1397.8 L1809.8,1397.9 L1810.8,1398.0 L1811.8,1398.1 L1812.8,1398.2 L1813.8,1398.3 L1814.8,1398.4 L1815.8,1398.5 L1816.8,1398.6 L1817.8,1398.6 L1818.8,1398.7 L1819.8,1398.8 L1820.8,1398.9 L1821.8,1399.0 L1822.8,1399.1 L1823.8,1399.2 L1824.8,1399.2 L1825.8,1399.3 L1826.8,1399.4 L1827.8,1399.4 L1828.8,1399.5 L1829.8,1399.6 L1830.8,1399.6 L1831.8,1399.7 L1832.8,1399.8 L1833.8,1399.9 L1834.8,1399.9 L1835.8,1400.0 L1836.8,1400.1 L1837.8,1400.1 L1838.8,1400.2 L1839.8,1400.2 L1840.8,1400.3 L1841.8,1400.3 L1842.8,1400.4 L1843.8,1400.4 L1844.8,1400.4 L1845.8,1400.5 L1846.8,1400.5 L1847.8,1400.5 L1848.8,1400.6 L1849.8,1400.6 L1850.8,1400.6 L1851.8,1400.6 L1852.8,1400.6 L1853.8,1400.7 L1854.8,1400.7 L1855.8,1400.7 L1856.8,1400.7 L1857.8,1400.8 L1858.8,1400.8 L1859.8,1400.8 L1860.8,1400.8 L1861.8,1400.8 L1862.8,1400.9 L1863.8,1400.9 L1864.8,1400.9 L1865.8,1400.9 L1866.8,1400.9 L1867.8,1401.0 L1868.8,1401.0 L1869.8,1401.0 L1870.8,1401.0 L1871.8,1401.0 L1872.8,1401.0 L1873.8,1401.0 L1874.8,1401.0 L1875.8,1401.0 L1876.8,1401.0 L1877.8,1401.0 L1878.8,1401.0 L1879.8,1401.0 L1880.8,1401.1 L1881.8,1401.1 L1882.8,1401.1 L1883.8,1401.1 L1884.8,1401.1 L1885.8,1401.1 L1886.8,1401.1 L1887.8,1401.1 L1888.8,1401.1 L1889.8,1401.1 L1890.8,1401.1 L1891.8,1401.1 L1892.8,1401.1 L1893.8,1401.1 L1894.8,1401.1 L1895.8,1401.1 L1896.8,1401.1 L1897.8,1401.1 L1898.8,1401.1 L1899.8,1401.1 L1900.8,1401.1 L1901.8,1401.1 L1902.8,1401.2 L1903.8,1401.2 L1904.8,1401.2 L1905.8,1401.2 L1906.8,1401.2 L1907.8,1401.2 L1908.8,1401.2 L1909.8,1401.2 L1910.8,1401.2 L1911.8,1401.2 L1912.8,1401.2 L1913.8,1401.2 L1914.8,1401.2 L1915.8,1401.2 L1916.8,1401.2 L1917.8,1401.2 L1918.8,1401.2 L1919.8,1401.2 L1920.8,1401.2 L1921.8,1401.2 L1922.8,1401.2 L1923.8,1401.2 L1924.8,1401.2 L1925.8,1401.3 L1926.8,1401.3 L1927.8,1401.3 L1928.8,1401.3 L1929.8,1401.3 L1930.8,1401.3 L1931.8,1401.3 L1932.8,1401.3 L1933.8,1401.3 L1934.8,1401.3 L1935.8,1401.3 L1936.8,1401.3 L1937.8,1401.3 L1938.8,1401.3 L1939.8,1401.3 L1940.8,1401.3 L1941.8,1401.3 L1942.8,1401.3 L1943.8,1401.3 L1944.8,1401.3 L1945.8,1401.3 L1946.8,1401.3 L1947.8,1401.4 L1948.8,1401.4 L1949.8,1401.4 L1950.8,1401.4 L1951.8,1401.4 L1952.8,1401.4 L1953.8,1401.4 L1954.8,1401.4 L1955.8,1401.4 L1956.8,1401.4 L1957.8,1401.4 L1958.8,1401.4 L1959.0,1401.4" fill="none" stroke="#a0a0a0" stroke-width="4.2" stroke-linejoin="round" stroke-linecap="round" clip-path="url(#clipd)"/>
<path d="M1225.8,1317.3 L1226.8,1315.4 L1227.8,1313.5 L1228.8,1311.6 L1229.8,1309.7 L1230.8,1307.7 L1231.8,1305.8 L1232.8,1303.9 L1233.8,1302.0 L1234.8,1300.1 L1235.8,1298.2 L1236.8,1296.2 L1237.8,1294.3 L1238.8,1292.3 L1239.8,1290.3 L1240.8,1288.3 L1241.8,1286.3 L1242.8,1284.2 L1243.8,1282.1 L1244.8,1279.9 L1245.8,1277.8 L1246.8,1275.6 L1247.8,1273.4 L1248.8,1271.2 L1249.8,1269.0 L1250.8,1266.8 L1251.8,1264.6 L1252.8,1262.4 L1253.8,1260.2 L1254.8,1258.0 L1255.8,1255.8 L1256.8,1253.6 L1257.8,1251.4 L1258.8,1249.1 L1259.8,1246.9 L1260.8,1244.7 L1261.8,1242.4 L1262.8,1240.1 L1263.8,1237.8 L1264.8,1235.5 L1265.8,1233.1 L1266.8,1230.8 L1267.8,1228.4 L1268.8,1226.0 L1269.8,1223.6 L1270.8,1221.2 L1271.8,1218.8 L1272.8,1216.4 L1273.8,1214.0 L1274.8,1211.6 L1275.8,1209.2 L1276.8,1206.8 L1277.8,1204.4 L1278.8,1202.0 L1279.8,1199.5 L1280.8,1197.0 L1281.8,1194.4 L1282.8,1191.7 L1283.8,1188.9 L1284.8,1186.0 L1285.8,1182.9 L1286.8,1179.7 L1287.8,1176.4 L1288.8,1173.0 L1289.8,1169.5 L1290.8,1166.0 L1291.8,1162.4 L1292.8,1158.9 L1293.8,1155.3 L1294.8,1151.8 L1295.8,1148.4 L1296.8,1145.1 L1297.8,1141.9 L1298.8,1138.9 L1299.8,1136.1 L1300.8,1133.5 L1301.8,1131.2 L1302.8,1129.0 L1303.8,1126.9 L1304.8,1125.0 L1305.8,1123.2 L1306.8,1121.4 L1307.8,1119.6 L1308.8,1117.9 L1309.8,1116.2 L1310.8,1114.5 L1311.8,1112.7 L1312.8,1111.0 L1313.8,1109.3 L1314.8,1107.6 L1315.8,1105.8 L1316.8,1104.1 L1317.8,1102.3 L1318.8,1100.6 L1319.8,1098.8 L1320.8,1097.1 L1321.8,1095.3 L1322.8,1093.5 L1323.8,1091.7 L1324.8,1090.0 L1325.8,1088.2 L1326.8,1086.4 L1327.8,1084.7 L1328.8,1083.0 L1329.8,1081.3 L1330.8,1079.7 L1331.8,1078.2 L1332.8,1076.7 L1333.8,1075.4 L1334.8,1074.2 L1335.8,1073.1 L1336.8,1072.1 L1337.8,1071.1 L1338.8,1070.3 L1339.8,1069.4 L1340.8,1068.6 L1341.8,1067.9 L1342.8,1067.1 L1343.8,1066.3 L1344.8,1065.5 L1345.8,1064.8 L1346.8,1064.0 L1347.8,1063.3 L1348.8,1062.6 L1349.8,1061.9 L1350.8,1061.3 L1351.8,1060.7 L1352.8,1060.2 L1353.8,1059.8 L1354.8,1059.5 L1355.8,1059.2 L1356.8,1059.0 L1357.8,1058.8 L1358.8,1058.6 L1359.8,1058.5 L1360.8,1058.4 L1361.8,1058.2 L1362.8,1058.1 L1363.8,1058.0 L1364.8,1057.9 L1365.8,1057.8 L1366.8,1057.7 L1367.8,1057.6 L1368.8,1057.6 L1369.8,1057.7 L1370.8,1057.8 L1371.8,1058.0 L1372.8,1058.3 L1373.8,1058.6 L1374.8,1059.1 L1375.8,1059.6 L1376.8,1060.1 L1377.8,1060.7 L1378.8,1061.3 L1379.8,1061.9 L1380.8,1062.5 L1381.8,1063.2 L1382.8,1063.8 L1383.8,1064.4 L1384.8,1065.1 L1385.8,1065.8 L1386.8,1066.5 L1387.8,1067.3 L1388.8,1068.1 L1389.8,1069.0 L1390.8,1070.0 L1391.8,1071.0 L1392.8,1072.1 L1393.8,1073.2 L1394.8,1074.4 L1395.8,1075.7 L1396.8,1076.9 L1397.8,1078.1 L1398.8,1079.4 L1399.8,1080.7 L1400.8,1081.9 L1401.8,1083.2 L1402.8,1084.5 L1403.8,1085.8 L1404.8,1087.2 L1405.8,1088.6 L1406.8,1090.0 L1407.8,1091.5 L1408.8,1093.0 L1409.8,1094.6 L1410.8,1096.2 L1411.8,1097.8 L1412.8,1099.5 L1413.8,1101.1 L1414.8,1102.8 L1415.8,1104.5 L1416.8,1106.1 L1417.8,1107.8 L1418.8,1109.4 L1419.8,1111.1 L1420.8,1112.7 L1421.8,1114.4 L1422.8,1116.0 L1423.8,1117.6 L1424.8,1119.2 L1425.8,1120.8 L1426.8,1122.3 L1427.8,1123.9 L1428.8,1125.4 L1429.8,1127.0 L1430.8,1128.5 L1431.8,1130.1 L1432.8,1131.6 L1433.8,1133.1 L1434.8,1134.7 L1435.8,1136.2 L1436.8,1137.8 L1437.8,1139.3 L1438.8,1140.9 L1439.8,1142.5 L1440.8,1144.1 L1441.8,1145.7 L1442.8,1147.3 L1443.8,1148.9 L1444.8,1150.6 L1445.8,1152.3 L1446.8,1153.9 L1447.8,1155.6 L1448.8,1157.3 L1449.8,1158.9 L1450.8,1160.6 L1451.8,1162.3 L1452.8,1164.0 L1453.8,1165.7 L1454.8,1167.4 L1455.8,1169.1 L1456.8,1170.8 L1457.8,1172.6 L1458.8,1174.4 L1459.8,1176.2 L1460.8,1178.0 L1461.8,1179.8 L1462.8,1181.6 L1463.8,1183.5 L1464.8,1185.3 L1465.8,1187.2 L1466.8,1189.0 L1467.8,1190.8 L1468.8,1192.7 L1469.8,1194.5 L1470.8,1196.3 L1471.8,1198.1 L1472.8,1199.9 L1473.8,1201.7 L1474.8,1203.4 L1475.8,1205.1 L1476.8,1206.8 L1477.8,1208.5 L1478.8,1210.1 L1479.8,1211.7 L1480.8,1213.2 L1481.8,1214.6 L1482.8,1216.0 L1483.8,1217.2 L1484.8,1218.4 L1485.8,1219.5 L1486.8,1220.6 L1487.8,1221.7 L1488.8,1222.7 L1489.8,1223.7 L1490.8,1224.7 L1491.8,1225.7 L1492.8,1226.7 L1493.8,1227.7 L1494.8,1228.6 L1495.8,1229.6 L1496.8,1230.6 L1497.8,1231.5 L1498.8,1232.5 L1499.8,1233.4 L1500.8,1234.3 L1501.8,1235.2 L1502.8,1236.1 L1503.8,1237.0 L1504.8,1237.9 L1505.8,1238.8 L1506.8,1239.7 L1507.8,1240.6 L1508.8,1241.5 L1509.8,1242.4 L1510.8,1243.3 L1511.8,1244.2 L1512.8,1245.1 L1513.8,1246.0 L1514.8,1246.9 L1515.8,1247.8 L1516.8,1248.6 L1517.8,1249.5 L1518.8,1250.4 L1519.8,1251.2 L1520.8,1252.0 L1521.8,1252.9 L1522.8,1253.7 L1523.8,1254.5 L1524.8,1255.3 L1525.8,1256.1 L1526.8,1256.9 L1527.8,1257.7 L1528.8,1258.5 L1529.8,1259.3 L1530.8,1260.1 L1531.8,1260.9 L1532.8,1261.7 L1533.8,1262.6 L1534.8,1263.4 L1535.8,1264.2 L1536.8,1265.0 L1537.8,1265.8 L1538.8,1266.6 L1539.8,1267.4 L1540.8,1268.2 L1541.8,1269.0 L1542.8,1269.8 L1543.8,1270.6 L1544.8,1271.4 L1545.8,1272.2 L1546.8,1273.0 L1547.8,1273.8 L1548.8,1274.6 L1549.8,1275.4 L1550.8,1276.2 L1551.8,1277.0 L1552.8,1277.8 L1553.8,1278.6 L1554.8,1279.4 L1555.8,1280.2 L1556.8,1281.0 L1557.8,1281.8 L1558.8,1282.6 L1559.8,1283.5 L1560.8,1284.3 L1561.8,1285.1 L1562.8,1286.0 L1563.8,1286.9 L1564.8,1287.7 L1565.8,1288.6 L1566.8,1289.5 L1567.8,1290.4 L1568.8,1291.3 L1569.8,1292.2 L1570.8,1293.1 L1571.8,1294.0 L1572.8,1294.9 L1573.8,1295.8 L1574.8,1296.7 L1575.8,1297.6 L1576.8,1298.5 L1577.8,1299.4 L1578.8,1300.2 L1579.8,1301.1 L1580.8,1302.0 L1581.8,1302.8 L1582.8,1303.7 L1583.8,1304.5 L1584.8,1305.3 L1585.8,1306.1 L1586.8,1306.8 L1587.8,1307.6 L1588.8,1308.3 L1589.8,1309.0 L1590.8,1309.7 L1591.8,1310.4 L1592.8,1311.1 L1593.8,1311.8 L1594.8,1312.4 L1595.8,1313.0 L1596.8,1313.7 L1597.8,1314.3 L1598.8,1314.9 L1599.8,1315.5 L1600.8,1316.1 L1601.8,1316.7 L1602.8,1317.3 L1603.8,1317.9 L1604.8,1318.5 L1605.8,1319.1 L1606.8,1319.7 L1607.8,1320.3 L1608.8,1320.9 L1609.8,1321.5 L1610.8,1322.1 L1611.8,1322.7 L1612.8,1323.3 L1613.8,1323.9 L1614.8,1324.5 L1615.8,1325.1 L1616.8,1325.7 L1617.8,1326.3 L1618.8,1326.9 L1619.8,1327.5 L1620.8,1328.1 L1621.8,1328.7 L1622.8,1329.3 L1623.8,1329.9 L1624.8,1330.5 L1625.8,1331.1 L1626.8,1331.7 L1627.8,1332.3 L1628.8,1332.9 L1629.8,1333.5 L1630.8,1334.1 L1631.8,1334.7 L1632.8,1335.2 L1633.8,1335.8 L1634.8,1336.3 L1635.8,1336.9 L1636.8,1337.4 L1637.8,1337.9 L1638.8,1338.4 L1639.8,1339.0 L1640.8,1339.5 L1641.8,1340.0 L1642.8,1340.5 L1643.8,1341.0 L1644.8,1341.5 L1645.8,1342.0 L1646.8,1342.6 L1647.8,1343.1 L1648.8,1343.7 L1649.8,1344.2 L1650.8,1344.8 L1651.8,1345.4 L1652.8,1346.0 L1653.8,1346.5 L1654.8,1347.1 L1655.8,1347.7 L1656.8,1348.3 L1657.8,1348.9 L1658.8,1349.5 L1659.8,1350.1 L1660.8,1350.6 L1661.8,1351.2 L1662.8,1351.7 L1663.8,1352.3 L1664.8,1352.8 L1665.8,1353.3 L1666.8,1353.8 L1667.8,1354.3 L1668.8,1354.8 L1669.8,1355.3 L1670.8,1355.8 L1671.8,1356.3 L1672.8,1356.8 L1673.8,1357.2 L1674.8,1357.6 L1675.8,1358.0 L1676.8,1358.3 L1677.8,1358.7 L1678.8,1359.0 L1679.8,1359.2 L1680.8,1359.5 L1681.8,1359.8 L1682.8,1360.0 L1683.8,1360.3 L1684.8,1360.5 L1685.8,1360.7 L1686.8,1360.9 L1687.8,1361.2 L1688.8,1361.3 L1689.8,1361.5 L1690.8,1361.7 L1691.8,1361.8 L1692.8,1361.9 L1693.8,1362.0 L1694.8,1362.1 L1695.8,1362.2 L1696.8,1362.3 L1697.8,1362.4 L1698.8,1362.5 L1699.8,1362.6 L1700.8,1362.7 L1701.8,1362.8 L1702.8,1362.9 L1703.8,1363.0 L1704.8,1363.1 L1705.8,1363.2 L1706.8,1363.3 L1707.8,1363.4 L1708.8,1363.5 L1709.8,1363.6 L1710.8,1363.7 L1711.8,1363.8 L1712.8,1363.9 L1713.8,1364.0 L1714.8,1364.1 L1715.8,1364.2 L1716.8,1364.4 L1717.8,1364.5 L1718.8,1364.6 L1719.8,1364.7 L1720.8,1364.8 L1721.8,1364.9 L1722.8,1365.0 L1723.8,1365.1 L1724.8,1365.2 L1725.8,1365.3 L1726.8,1365.4 L1727.8,1365.5 L1728.8,1365.6 L1729.8,1365.7 L1730.8,1365.9 L1731.8,1366.0 L1732.8,1366.1 L1733.8,1366.3 L1734.8,1366.4 L1735.8,1366.6 L1736.8,1366.7 L1737.8,1366.8 L1738.8,1367.0 L1739.8,1367.1 L1740.8,1367.3 L1741.8,1367.4 L1742.8,1367.6 L1743.8,1367.7 L1744.8,1367.9 L1745.8,1368.0 L1746.8,1368.1 L1747.8,1368.3 L1748.8,1368.4 L1749.8,1368.6 L1750.8,1368.7 L1751.8,1368.9 L1752.8,1369.0 L1753.8,1369.1 L1754.8,1369.3 L1755.8,1369.4 L1756.8,1369.6 L1757.8,1369.7 L1758.8,1369.9 L1759.8,1370.1 L1760.8,1370.3 L1761.8,1370.5 L1762.8,1370.7 L1763.8,1370.9 L1764.8,1371.1 L1765.8,1371.3 L1766.8,1371.5 L1767.8,1371.7 L1768.8,1371.9 L1769.8,1372.2 L1770.8,1372.4 L1771.8,1372.6 L1772.8,1372.8 L1773.8,1373.0 L1774.8,1373.3 L1775.8,1373.5 L1776.8,1373.7 L1777.8,1373.9 L1778.8,1374.2 L1779.8,1374.4 L1780.8,1374.7 L1781.8,1374.9 L1782.8,1375.2 L1783.8,1375.4 L1784.8,1375.7 L1785.8,1375.9 L1786.8,1376.2 L1787.8,1376.4 L1788.8,1376.7 L1789.8,1377.0 L1790.8,1377.2 L1791.8,1377.5 L1792.8,1377.8 L1793.8,1378.0 L1794.8,1378.3 L1795.8,1378.6 L1796.8,1378.8 L1797.8,1379.1 L1798.8,1379.4 L1799.8,1379.7 L1800.8,1380.1 L1801.8,1380.4 L1802.8,1380.8 L1803.8,1381.1 L1804.8,1381.5 L1805.8,1381.9 L1806.8,1382.3 L1807.8,1382.7 L1808.8,1383.1 L1809.8,1383.5 L1810.8,1383.9 L1811.8,1384.3 L1812.8,1384.7 L1813.8,1385.1 L1814.8,1385.5 L1815.8,1385.9 L1816.8,1386.3 L1817.8,1386.7 L1818.8,1387.0 L1819.8,1387.4 L1820.8,1387.7 L1821.8,1388.1 L1822.8,1388.4 L1823.8,1388.7 L1824.8,1389.0 L1825.8,1389.3 L1826.8,1389.5 L1827.8,1389.8 L1828.8,1390.1 L1829.8,1390.3 L1830.8,1390.6 L1831.8,1390.9 L1832.8,1391.1 L1833.8,1391.4 L1834.8,1391.7 L1835.8,1391.9 L1836.8,1392.2 L1837.8,1392.4 L1838.8,1392.7 L1839.8,1392.9 L1840.8,1393.2 L1841.8,1393.4 L1842.8,1393.6 L1843.8,1393.9 L1844.8,1394.1 L1845.8,1394.3 L1846.8,1394.5 L1847.8,1394.7 L1848.8,1394.9 L1849.8,1395.1 L1850.8,1395.3 L1851.8,1395.5 L1852.8,1395.7 L1853.8,1395.9 L1854.8,1396.1 L1855.8,1396.3 L1856.8,1396.5 L1857.8,1396.7 L1858.8,1396.9 L1859.8,1397.1 L1860.8,1397.2 L1861.8,1397.4 L1862.8,1397.6 L1863.8,1397.7 L1864.8,1397.8 L1865.8,1397.9 L1866.8,1398.1 L1867.8,1398.2 L1868.8,1398.3 L1869.8,1398.4 L1870.8,1398.5 L1871.8,1398.6 L1872.8,1398.7 L1873.8,1398.8 L1874.8,1398.9 L1875.8,1399.0 L1876.8,1399.1 L1877.8,1399.2 L1878.8,1399.3 L1879.8,1399.4 L1880.8,1399.5 L1881.8,1399.5 L1882.8,1399.6 L1883.8,1399.7 L1884.8,1399.7 L1885.8,1399.8 L1886.8,1399.8 L1887.8,1399.9 L1888.8,1399.9 L1889.8,1399.9 L1890.8,1400.0 L1891.8,1400.0 L1892.8,1400.0 L1893.8,1400.1 L1894.8,1400.1 L1895.8,1400.1 L1896.8,1400.2 L1897.8,1400.2 L1898.8,1400.2 L1899.8,1400.3 L1900.8,1400.3 L1901.8,1400.3 L1902.8,1400.3 L1903.8,1400.4 L1904.8,1400.4 L1905.8,1400.4 L1906.8,1400.4 L1907.8,1400.4 L1908.8,1400.4 L1909.8,1400.4 L1910.8,1400.4 L1911.8,1400.4 L1912.8,1400.4 L1913.8,1400.4 L1914.8,1400.4 L1915.8,1400.4 L1916.8,1400.4 L1917.8,1400.4 L1918.8,1400.4 L1919.8,1400.4 L1920.8,1400.4 L1921.8,1400.3 L1922.8,1400.3 L1923.8,1400.2 L1924.8,1400.2 L1925.8,1400.1 L1926.8,1400.0 L1927.8,1399.9 L1928.8,1399.9 L1929.8,1399.8 L1930.8,1399.7 L1931.8,1399.6 L1932.8,1399.5 L1933.8,1399.4 L1934.8,1399.2 L1935.8,1399.1 L1936.8,1399.0 L1937.8,1398.9 L1938.8,1398.8 L1939.8,1398.7 L1940.8,1398.6 L1941.8,1398.5 L1942.8,1398.4 L1943.8,1398.3 L1944.8,1398.2 L1945.8,1398.0 L1946.8,1397.9 L1947.8,1397.8 L1948.8,1397.7 L1949.8,1397.5 L1950.8,1397.4 L1951.8,1397.3 L1952.8,1397.1 L1953.8,1397.0 L1954.8,1396.9 L1955.8,1396.8 L1956.8,1396.7 L1957.8,1396.6 L1958.8,1396.5 L1959.0,1396.4" fill="none" stroke="#3e6eb8" stroke-width="4.2" stroke-linejoin="round" stroke-linecap="round" clip-path="url(#clipd)"/>
<path d="M1225.8,1337.8 L1226.8,1336.8 L1227.8,1335.7 L1228.8,1334.7 L1229.8,1333.7 L1230.8,1332.7 L1231.8,1331.6 L1232.8,1330.6 L1233.8,1329.6 L1234.8,1328.6 L1235.8,1327.5 L1236.8,1326.5 L1237.8,1325.5 L1238.8,1324.4 L1239.8,1323.4 L1240.8,1322.3 L1241.8,1321.3 L1242.8,1320.2 L1243.8,1319.1 L1244.8,1318.0 L1245.8,1317.0 L1246.8,1315.9 L1247.8,1314.8 L1248.8,1313.7 L1249.8,1312.6 L1250.8,1311.5 L1251.8,1310.4 L1252.8,1309.3 L1253.8,1308.2 L1254.8,1307.0 L1255.8,1305.9 L1256.8,1304.8 L1257.8,1303.7 L1258.8,1302.6 L1259.8,1301.5 L1260.8,1300.3 L1261.8,1299.2 L1262.8,1298.0 L1263.8,1296.8 L1264.8,1295.6 L1265.8,1294.3 L1266.8,1293.1 L1267.8,1291.8 L1268.8,1290.5 L1269.8,1289.2 L1270.8,1287.9 L1271.8,1286.6 L1272.8,1285.3 L1273.8,1284.0 L1274.8,1282.7 L1275.8,1281.4 L1276.8,1280.1 L1277.8,1278.8 L1278.8,1277.5 L1279.8,1276.2 L1280.8,1274.9 L1281.8,1273.6 L1282.8,1272.3 L1283.8,1271.0 L1284.8,1269.6 L1285.8,1268.3 L1286.8,1266.9 L1287.8,1265.5 L1288.8,1264.1 L1289.8,1262.8 L1290.8,1261.4 L1291.8,1260.0 L1292.8,1258.6 L1293.8,1257.2 L1294.8,1255.8 L1295.8,1254.4 L1296.8,1253.0 L1297.8,1251.6 L1298.8,1250.2 L1299.8,1248.8 L1300.8,1247.4 L1301.8,1246.0 L1302.8,1244.6 L1303.8,1243.1 L1304.8,1241.7 L1305.8,1240.2 L1306.8,1238.8 L1307.8,1237.3 L1308.8,1235.8 L1309.8,1234.3 L1310.8,1232.8 L1311.8,1231.3 L1312.8,1229.8 L1313.8,1228.2 L1314.8,1226.7 L1315.8,1225.2 L1316.8,1223.6 L1317.8,1222.1 L1318.8,1220.6 L1319.8,1219.1 L1320.8,1217.5 L1321.8,1216.0 L1322.8,1214.5 L1323.8,1213.0 L1324.8,1211.5 L1325.8,1210.0 L1326.8,1208.5 L1327.8,1207.1 L1328.8,1205.7 L1329.8,1204.4 L1330.8,1203.1 L1331.8,1201.8 L1332.8,1200.6 L1333.8,1199.3 L1334.8,1198.1 L1335.8,1196.9 L1336.8,1195.7 L1337.8,1194.5 L1338.8,1193.3 L1339.8,1192.1 L1340.8,1191.0 L1341.8,1189.8 L1342.8,1188.6 L1343.8,1187.4 L1344.8,1186.2 L1345.8,1185.0 L1346.8,1183.8 L1347.8,1182.6 L1348.8,1181.4 L1349.8,1180.2 L1350.8,1179.0 L1351.8,1177.8 L1352.8,1176.6 L1353.8,1175.4 L1354.8,1174.2 L1355.8,1173.0 L1356.8,1171.8 L1357.8,1170.6 L1358.8,1169.4 L1359.8,1168.2 L1360.8,1167.0 L1361.8,1165.8 L1362.8,1164.6 L1363.8,1163.4 L1364.8,1162.2 L1365.8,1161.0 L1366.8,1159.8 L1367.8,1158.6 L1368.8,1157.4 L1369.8,1156.3 L1370.8,1155.1 L1371.8,1154.0 L1372.8,1152.9 L1373.8,1151.8 L1374.8,1150.8 L1375.8,1149.7 L1376.8,1148.7 L1377.8,1147.7 L1378.8,1146.7 L1379.8,1145.7 L1380.8,1144.7 L1381.8,1143.7 L1382.8,1142.7 L1383.8,1141.7 L1384.8,1140.7 L1385.8,1139.8 L1386.8,1138.8 L1387.8,1137.9 L1388.8,1136.9 L1389.8,1136.1 L1390.8,1135.2 L1391.8,1134.4 L1392.8,1133.6 L1393.8,1132.8 L1394.8,1132.1 L1395.8,1131.4 L1396.8,1130.6 L1397.8,1129.9 L1398.8,1129.2 L1399.8,1128.5 L1400.8,1127.8 L1401.8,1127.1 L1402.8,1126.4 L1403.8,1125.8 L1404.8,1125.1 L1405.8,1124.5 L1406.8,1124.0 L1407.8,1123.5 L1408.8,1123.0 L1409.8,1122.6 L1410.8,1122.2 L1411.8,1121.8 L1412.8,1121.5 L1413.8,1121.1 L1414.8,1120.8 L1415.8,1120.5 L1416.8,1120.1 L1417.8,1119.8 L1418.8,1119.5 L1419.8,1119.2 L1420.8,1118.9 L1421.8,1118.6 L1422.8,1118.4 L1423.8,1118.2 L1424.8,1118.0 L1425.8,1117.9 L1426.8,1117.7 L1427.8,1117.6 L1428.8,1117.5 L1429.8,1117.5 L1430.8,1117.4 L1431.8,1117.3 L1432.8,1117.3 L1433.8,1117.2 L1434.8,1117.2 L1435.8,1117.1 L1436.8,1117.1 L1437.8,1117.0 L1438.8,1117.0 L1439.8,1116.9 L1440.8,1116.9 L1441.8,1116.8 L1442.8,1116.8 L1443.8,1116.8 L1444.8,1116.7 L1445.8,1116.7 L1446.8,1116.7 L1447.8,1116.7 L1448.8,1116.7 L1449.8,1116.7 L1450.8,1116.7 L1451.8,1116.7 L1452.8,1116.7 L1453.8,1116.7 L1454.8,1116.7 L1455.8,1116.7 L1456.8,1116.7 L1457.8,1116.8 L1458.8,1116.8 L1459.8,1116.9 L1460.8,1117.0 L1461.8,1117.2 L1462.8,1117.4 L1463.8,1117.6 L1464.8,1117.9 L1465.8,1118.3 L1466.8,1118.6 L1467.8,1119.0 L1468.8,1119.5 L1469.8,1119.9 L1470.8,1120.3 L1471.8,1120.8 L1472.8,1121.2 L1473.8,1121.7 L1474.8,1122.1 L1475.8,1122.6 L1476.8,1123.0 L1477.8,1123.5 L1478.8,1124.0 L1479.8,1124.5 L1480.8,1125.0 L1481.8,1125.6 L1482.8,1126.2 L1483.8,1126.9 L1484.8,1127.5 L1485.8,1128.2 L1486.8,1129.0 L1487.8,1129.7 L1488.8,1130.4 L1489.8,1131.2 L1490.8,1132.0 L1491.8,1132.7 L1492.8,1133.5 L1493.8,1134.2 L1494.8,1135.0 L1495.8,1135.7 L1496.8,1136.5 L1497.8,1137.2 L1498.8,1138.0 L1499.8,1138.7 L1500.8,1139.5 L1501.8,1140.2 L1502.8,1141.0 L1503.8,1141.7 L1504.8,1142.5 L1505.8,1143.2 L1506.8,1144.0 L1507.8,1144.7 L1508.8,1145.5 L1509.8,1146.2 L1510.8,1147.0 L1511.8,1147.7 L1512.8,1148.5 L1513.8,1149.3 L1514.8,1150.1 L1515.8,1150.9 L1516.8,1151.8 L1517.8,1152.7 L1518.8,1153.6 L1519.8,1154.6 L1520.8,1155.5 L1521.8,1156.5 L1522.8,1157.5 L1523.8,1158.5 L1524.8,1159.5 L1525.8,1160.5 L1526.8,1161.5 L1527.8,1162.5 L1528.8,1163.5 L1529.8,1164.5 L1530.8,1165.5 L1531.8,1166.6 L1532.8,1167.6 L1533.8,1168.7 L1534.8,1169.7 L1535.8,1170.8 L1536.8,1171.9 L1537.8,1173.0 L1538.8,1174.2 L1539.8,1175.3 L1540.8,1176.4 L1541.8,1177.5 L1542.8,1178.7 L1543.8,1179.8 L1544.8,1180.9 L1545.8,1182.1 L1546.8,1183.2 L1547.8,1184.4 L1548.8,1185.6 L1549.8,1186.8 L1550.8,1188.0 L1551.8,1189.2 L1552.8,1190.5 L1553.8,1191.8 L1554.8,1193.2 L1555.8,1194.5 L1556.8,1195.9 L1557.8,1197.2 L1558.8,1198.6 L1559.8,1200.0 L1560.8,1201.3 L1561.8,1202.7 L1562.8,1204.1 L1563.8,1205.5 L1564.8,1206.9 L1565.8,1208.3 L1566.8,1209.8 L1567.8,1211.3 L1568.8,1212.8 L1569.8,1214.4 L1570.8,1216.0 L1571.8,1217.6 L1572.8,1219.3 L1573.8,1220.9 L1574.8,1222.6 L1575.8,1224.3 L1576.8,1225.9 L1577.8,1227.6 L1578.8,1229.2 L1579.8,1230.8 L1580.8,1232.4 L1581.8,1234.0 L1582.8,1235.5 L1583.8,1237.1 L1584.8,1238.6 L1585.8,1240.1 L1586.8,1241.6 L1587.8,1243.1 L1588.8,1244.6 L1589.8,1246.1 L1590.8,1247.6 L1591.8,1249.2 L1592.8,1250.7 L1593.8,1252.2 L1594.8,1253.8 L1595.8,1255.4 L1596.8,1256.9 L1597.8,1258.5 L1598.8,1260.1 L1599.8,1261.7 L1600.8,1263.3 L1601.8,1264.8 L1602.8,1266.4 L1603.8,1268.0 L1604.8,1269.5 L1605.8,1271.1 L1606.8,1272.6 L1607.8,1274.1 L1608.8,1275.6 L1609.8,1277.0 L1610.8,1278.5 L1611.8,1279.9 L1612.8,1281.3 L1613.8,1282.7 L1614.8,1284.1 L1615.8,1285.5 L1616.8,1286.9 L1617.8,1288.2 L1618.8,1289.6 L1619.8,1290.9 L1620.8,1292.2 L1621.8,1293.4 L1622.8,1294.6 L1623.8,1295.8 L1624.8,1296.9 L1625.8,1298.1 L1626.8,1299.2 L1627.8,1300.3 L1628.8,1301.4 L1629.8,1302.5 L1630.8,1303.6 L1631.8,1304.7 L1632.8,1305.7 L1633.8,1306.8 L1634.8,1307.9 L1635.8,1308.9 L1636.8,1309.9 L1637.8,1310.9 L1638.8,1311.9 L1639.8,1312.9 L1640.8,1313.9 L1641.8,1314.9 L1642.8,1315.9 L1643.8,1316.9 L1644.8,1317.9 L1645.8,1318.8 L1646.8,1319.7 L1647.8,1320.6 L1648.8,1321.5 L1649.8,1322.3 L1650.8,1323.2 L1651.8,1324.0 L1652.8,1324.7 L1653.8,1325.5 L1654.8,1326.3 L1655.8,1327.0 L1656.8,1327.8 L1657.8,1328.5 L1658.8,1329.3 L1659.8,1330.0 L1660.8,1330.7 L1661.8,1331.4 L1662.8,1332.1 L1663.8,1332.8 L1664.8,1333.4 L1665.8,1334.0 L1666.8,1334.5 L1667.8,1335.0 L1668.8,1335.5 L1669.8,1336.0 L1670.8,1336.5 L1671.8,1337.0 L1672.8,1337.4 L1673.8,1337.9 L1674.8,1338.4 L1675.8,1338.8 L1676.8,1339.3 L1677.8,1339.8 L1678.8,1340.2 L1679.8,1340.7 L1680.8,1341.1 L1681.8,1341.5 L1682.8,1342.0 L1683.8,1342.4 L1684.8,1342.8 L1685.8,1343.2 L1686.8,1343.6 L1687.8,1344.0 L1688.8,1344.4 L1689.8,1344.8 L1690.8,1345.2 L1691.8,1345.6 L1692.8,1346.0 L1693.8,1346.4 L1694.8,1346.8 L1695.8,1347.2 L1696.8,1347.6 L1697.8,1348.1 L1698.8,1348.5 L1699.8,1348.9 L1700.8,1349.3 L1701.8,1349.7 L1702.8,1350.2 L1703.8,1350.6 L1704.8,1351.1 L1705.8,1351.6 L1706.8,1352.1 L1707.8,1352.6 L1708.8,1353.1 L1709.8,1353.5 L1710.8,1354.0 L1711.8,1354.5 L1712.8,1355.0 L1713.8,1355.5 L1714.8,1355.9 L1715.8,1356.3 L1716.8,1356.7 L1717.8,1357.1 L1718.8,1357.5 L1719.8,1357.8 L1720.8,1358.1 L1721.8,1358.4 L1722.8,1358.7 L1723.8,1359.0 L1724.8,1359.3 L1725.8,1359.6 L1726.8,1359.9 L1727.8,1360.2 L1728.8,1360.5 L1729.8,1360.8 L1730.8,1361.1 L1731.8,1361.4 L1732.8,1361.6 L1733.8,1361.9 L1734.8,1362.2 L1735.8,1362.4 L1736.8,1362.7 L1737.8,1363.0 L1738.8,1363.2 L1739.8,1363.5 L1740.8,1363.8 L1741.8,1364.0 L1742.8,1364.3 L1743.8,1364.6 L1744.8,1364.8 L1745.8,1365.1 L1746.8,1365.3 L1747.8,1365.6 L1748.8,1365.9 L1749.8,1366.1 L1750.8,1366.4 L1751.8,1366.6 L1752.8,1366.8 L1753.8,1367.1 L1754.8,1367.3 L1755.8,1367.6 L1756.8,1367.8 L1757.8,1368.0 L1758.8,1368.3 L1759.8,1368.5 L1760.8,1368.7 L1761.8,1369.0 L1762.8,1369.2 L1763.8,1369.4 L1764.8,1369.7 L1765.8,1369.9 L1766.8,1370.1 L1767.8,1370.4 L1768.8,1370.6 L1769.8,1370.8 L1770.8,1371.0 L1771.8,1371.3 L1772.8,1371.5 L1773.8,1371.7 L1774.8,1371.9 L1775.8,1372.1 L1776.8,1372.3 L1777.8,1372.5 L1778.8,1372.7 L1779.8,1372.9 L1780.8,1373.1 L1781.8,1373.2 L1782.8,1373.4 L1783.8,1373.5 L1784.8,1373.7 L1785.8,1373.8 L1786.8,1373.9 L1787.8,1374.1 L1788.8,1374.2 L1789.8,1374.3 L1790.8,1374.5 L1791.8,1374.6 L1792.8,1374.7 L1793.8,1374.9 L1794.8,1375.0 L1795.8,1375.1 L1796.8,1375.3 L1797.8,1375.4 L1798.8,1375.5 L1799.8,1375.6 L1800.8,1375.7 L1801.8,1375.9 L1802.8,1376.0 L1803.8,1376.1 L1804.8,1376.2 L1805.8,1376.3 L1806.8,1376.4 L1807.8,1376.5 L1808.8,1376.6 L1809.8,1376.7 L1810.8,1376.8 L1811.8,1376.9 L1812.8,1377.0 L1813.8,1377.1 L1814.8,1377.2 L1815.8,1377.3 L1816.8,1377.4 L1817.8,1377.5 L1818.8,1377.6 L1819.8,1377.7 L1820.8,1377.8 L1821.8,1377.9 L1822.8,1378.0 L1823.8,1378.1 L1824.8,1378.2 L1825.8,1378.3 L1826.8,1378.4 L1827.8,1378.5 L1828.8,1378.6 L1829.8,1378.7 L1830.8,1378.8 L1831.8,1378.9 L1832.8,1379.0 L1833.8,1379.1 L1834.8,1379.2 L1835.8,1379.3 L1836.8,1379.4 L1837.8,1379.5 L1838.8,1379.6 L1839.8,1379.7 L1840.8,1379.8 L1841.8,1379.9 L1842.8,1380.0 L1843.8,1380.1 L1844.8,1380.2 L1845.8,1380.3 L1846.8,1380.4 L1847.8,1380.5 L1848.8,1380.6 L1849.8,1380.7 L1850.8,1380.8 L1851.8,1380.9 L1852.8,1381.0 L1853.8,1381.1 L1854.8,1381.2 L1855.8,1381.3 L1856.8,1381.4 L1857.8,1381.6 L1858.8,1381.7 L1859.8,1381.8 L1860.8,1381.9 L1861.8,1382.0 L1862.8,1382.2 L1863.8,1382.3 L1864.8,1382.5 L1865.8,1382.6 L1866.8,1382.8 L1867.8,1382.9 L1868.8,1383.1 L1869.8,1383.3 L1870.8,1383.4 L1871.8,1383.6 L1872.8,1383.8 L1873.8,1383.9 L1874.8,1384.1 L1875.8,1384.3 L1876.8,1384.4 L1877.8,1384.6 L1878.8,1384.8 L1879.8,1384.9 L1880.8,1385.1 L1881.8,1385.3 L1882.8,1385.5 L1883.8,1385.7 L1884.8,1385.8 L1885.8,1386.0 L1886.8,1386.2 L1887.8,1386.4 L1888.8,1386.6 L1889.8,1386.8 L1890.8,1387.0 L1891.8,1387.2 L1892.8,1387.4 L1893.8,1387.6 L1894.8,1387.8 L1895.8,1388.0 L1896.8,1388.2 L1897.8,1388.4 L1898.8,1388.6 L1899.8,1388.8 L1900.8,1389.0 L1901.8,1389.2 L1902.8,1389.4 L1903.8,1389.5 L1904.8,1389.7 L1905.8,1389.8 L1906.8,1390.0 L1907.8,1390.1 L1908.8,1390.2 L1909.8,1390.4 L1910.8,1390.5 L1911.8,1390.6 L1912.8,1390.8 L1913.8,1390.9 L1914.8,1391.0 L1915.8,1391.2 L1916.8,1391.3 L1917.8,1391.4 L1918.8,1391.6 L1919.8,1391.7 L1920.8,1391.8 L1921.8,1391.9 L1922.8,1392.0 L1923.8,1392.1 L1924.8,1392.2 L1925.8,1392.3 L1926.8,1392.4 L1927.8,1392.5 L1928.8,1392.5 L1929.8,1392.6 L1930.8,1392.7 L1931.8,1392.7 L1932.8,1392.8 L1933.8,1392.9 L1934.8,1392.9 L1935.8,1393.0 L1936.8,1393.0 L1937.8,1393.1 L1938.8,1393.2 L1939.8,1393.2 L1940.8,1393.3 L1941.8,1393.4 L1942.8,1393.4 L1943.8,1393.5 L1944.8,1393.5 L1945.8,1393.6 L1946.8,1393.6 L1947.8,1393.7 L1948.8,1393.7 L1949.8,1393.8 L1950.8,1393.8 L1951.8,1393.9 L1952.8,1393.9 L1953.8,1394.0 L1954.8,1394.0 L1955.8,1394.0 L1956.8,1394.1 L1957.8,1394.1 L1958.8,1394.1 L1959.0,1394.2" fill="none" stroke="#e9822f" stroke-width="4.2" stroke-linejoin="round" stroke-linecap="round" clip-path="url(#clipd)"/>
<path d="M1225.8,1290.4 L1226.8,1288.8 L1227.8,1287.2 L1228.8,1285.7 L1229.8,1284.1 L1230.8,1282.5 L1231.8,1280.9 L1232.8,1279.4 L1233.8,1277.8 L1234.8,1276.2 L1235.8,1274.6 L1236.8,1273.0 L1237.8,1271.4 L1238.8,1269.8 L1239.8,1268.2 L1240.8,1266.5 L1241.8,1264.8 L1242.8,1263.1 L1243.8,1261.4 L1244.8,1259.6 L1245.8,1257.9 L1246.8,1256.1 L1247.8,1254.3 L1248.8,1252.5 L1249.8,1250.7 L1250.8,1248.9 L1251.8,1247.1 L1252.8,1245.3 L1253.8,1243.5 L1254.8,1241.7 L1255.8,1239.9 L1256.8,1238.0 L1257.8,1236.2 L1258.8,1234.4 L1259.8,1232.5 L1260.8,1230.6 L1261.8,1228.6 L1262.8,1226.6 L1263.8,1224.6 L1264.8,1222.5 L1265.8,1220.3 L1266.8,1218.1 L1267.8,1215.8 L1268.8,1213.6 L1269.8,1211.3 L1270.8,1209.0 L1271.8,1206.7 L1272.8,1204.4 L1273.8,1202.1 L1274.8,1199.8 L1275.8,1197.5 L1276.8,1195.2 L1277.8,1192.9 L1278.8,1190.7 L1279.8,1188.4 L1280.8,1186.1 L1281.8,1183.8 L1282.8,1181.6 L1283.8,1179.3 L1284.8,1177.1 L1285.8,1174.9 L1286.8,1172.8 L1287.8,1170.6 L1288.8,1168.5 L1289.8,1166.4 L1290.8,1164.2 L1291.8,1162.1 L1292.8,1160.0 L1293.8,1157.9 L1294.8,1155.8 L1295.8,1153.7 L1296.8,1151.6 L1297.8,1149.5 L1298.8,1147.4 L1299.8,1145.4 L1300.8,1143.3 L1301.8,1141.3 L1302.8,1139.2 L1303.8,1137.2 L1304.8,1135.2 L1305.8,1133.2 L1306.8,1131.2 L1307.8,1129.2 L1308.8,1127.2 L1309.8,1125.2 L1310.8,1123.2 L1311.8,1121.3 L1312.8,1119.4 L1313.8,1117.5 L1314.8,1115.6 L1315.8,1113.9 L1316.8,1112.2 L1317.8,1110.6 L1318.8,1109.1 L1319.8,1107.7 L1320.8,1106.4 L1321.8,1105.0 L1322.8,1103.8 L1323.8,1102.5 L1324.8,1101.2 L1325.8,1100.0 L1326.8,1098.8 L1327.8,1097.5 L1328.8,1096.3 L1329.8,1095.1 L1330.8,1093.9 L1331.8,1092.7 L1332.8,1091.6 L1333.8,1090.5 L1334.8,1089.4 L1335.8,1088.4 L1336.8,1087.5 L1337.8,1086.7 L1338.8,1085.9 L1339.8,1085.2 L1340.8,1084.5 L1341.8,1083.8 L1342.8,1083.1 L1343.8,1082.5 L1344.8,1081.9 L1345.8,1081.3 L1346.8,1080.6 L1347.8,1080.0 L1348.8,1079.4 L1349.8,1078.8 L1350.8,1078.3 L1351.8,1077.7 L1352.8,1077.2 L1353.8,1076.8 L1354.8,1076.4 L1355.8,1076.1 L1356.8,1075.8 L1357.8,1075.5 L1358.8,1075.3 L1359.8,1075.1 L1360.8,1074.9 L1361.8,1074.7 L1362.8,1074.5 L1363.8,1074.3 L1364.8,1074.1 L1365.8,1074.0 L1366.8,1073.8 L1367.8,1073.7 L1368.8,1073.6 L1369.8,1073.5 L1370.8,1073.5 L1371.8,1073.6 L1372.8,1073.7 L1373.8,1073.8 L1374.8,1074.1 L1375.8,1074.3 L1376.8,1074.7 L1377.8,1075.0 L1378.8,1075.3 L1379.8,1075.7 L1380.8,1076.1 L1381.8,1076.4 L1382.8,1076.8 L1383.8,1077.2 L1384.8,1077.6 L1385.8,1078.0 L1386.8,1078.4 L1387.8,1078.8 L1388.8,1079.2 L1389.8,1079.7 L1390.8,1080.2 L1391.8,1080.7 L1392.8,1081.3 L1393.8,1081.8 L1394.8,1082.4 L1395.8,1083.0 L1396.8,1083.6 L1397.8,1084.2 L1398.8,1084.8 L1399.8,1085.4 L1400.8,1086.0 L1401.8,1086.6 L1402.8,1087.2 L1403.8,1087.8 L1404.8,1088.4 L1405.8,1089.0 L1406.8,1089.6 L1407.8,1090.3 L1408.8,1090.9 L1409.8,1091.6 L1410.8,1092.2 L1411.8,1092.9 L1412.8,1093.5 L1413.8,1094.2 L1414.8,1094.9 L1415.8,1095.5 L1416.8,1096.2 L1417.8,1096.8 L1418.8,1097.5 L1419.8,1098.2 L1420.8,1098.9 L1421.8,1099.6 L1422.8,1100.3 L1423.8,1101.0 L1424.8,1101.8 L1425.8,1102.7 L1426.8,1103.6 L1427.8,1104.6 L1428.8,1105.6 L1429.8,1106.8 L1430.8,1107.9 L1431.8,1109.2 L1432.8,1110.4 L1433.8,1111.7 L1434.8,1113.0 L1435.8,1114.3 L1436.8,1115.6 L1437.8,1116.9 L1438.8,1118.2 L1439.8,1119.5 L1440.8,1120.8 L1441.8,1122.1 L1442.8,1123.4 L1443.8,1124.7 L1444.8,1126.0 L1445.8,1127.3 L1446.8,1128.6 L1447.8,1129.9 L1448.8,1131.2 L1449.8,1132.5 L1450.8,1133.9 L1451.8,1135.2 L1452.8,1136.5 L1453.8,1137.8 L1454.8,1139.1 L1455.8,1140.5 L1456.8,1141.8 L1457.8,1143.1 L1458.8,1144.4 L1459.8,1145.8 L1460.8,1147.1 L1461.8,1148.4 L1462.8,1149.7 L1463.8,1151.1 L1464.8,1152.4 L1465.8,1153.7 L1466.8,1155.1 L1467.8,1156.4 L1468.8,1157.8 L1469.8,1159.1 L1470.8,1160.5 L1471.8,1161.8 L1472.8,1163.2 L1473.8,1164.5 L1474.8,1165.9 L1475.8,1167.2 L1476.8,1168.6 L1477.8,1169.9 L1478.8,1171.3 L1479.8,1172.6 L1480.8,1174.0 L1481.8,1175.4 L1482.8,1176.8 L1483.8,1178.2 L1484.8,1179.7 L1485.8,1181.2 L1486.8,1182.7 L1487.8,1184.3 L1488.8,1186.0 L1489.8,1187.6 L1490.8,1189.3 L1491.8,1191.0 L1492.8,1192.8 L1493.8,1194.5 L1494.8,1196.2 L1495.8,1198.0 L1496.8,1199.7 L1497.8,1201.5 L1498.8,1203.3 L1499.8,1205.1 L1500.8,1206.9 L1501.8,1208.8 L1502.8,1210.8 L1503.8,1212.8 L1504.8,1214.8 L1505.8,1216.9 L1506.8,1219.1 L1507.8,1221.3 L1508.8,1223.5 L1509.8,1225.8 L1510.8,1228.1 L1511.8,1230.3 L1512.8,1232.6 L1513.8,1234.8 L1514.8,1237.0 L1515.8,1239.1 L1516.8,1241.1 L1517.8,1243.0 L1518.8,1244.8 L1519.8,1246.5 L1520.8,1248.1 L1521.8,1249.5 L1522.8,1250.9 L1523.8,1252.2 L1524.8,1253.5 L1525.8,1254.8 L1526.8,1256.0 L1527.8,1257.3 L1528.8,1258.5 L1529.8,1259.7 L1530.8,1260.9 L1531.8,1262.2 L1532.8,1263.4 L1533.8,1264.6 L1534.8,1265.9 L1535.8,1267.1 L1536.8,1268.3 L1537.8,1269.6 L1538.8,1270.8 L1539.8,1272.0 L1540.8,1273.3 L1541.8,1274.5 L1542.8,1275.8 L1543.8,1277.0 L1544.8,1278.3 L1545.8,1279.5 L1546.8,1280.8 L1547.8,1282.0 L1548.8,1283.3 L1549.8,1284.5 L1550.8,1285.8 L1551.8,1287.1 L1552.8,1288.4 L1553.8,1289.7 L1554.8,1291.1 L1555.8,1292.4 L1556.8,1293.8 L1557.8,1295.3 L1558.8,1296.7 L1559.8,1298.2 L1560.8,1299.7 L1561.8,1301.1 L1562.8,1302.6 L1563.8,1304.1 L1564.8,1305.6 L1565.8,1307.1 L1566.8,1308.6 L1567.8,1310.0 L1568.8,1311.4 L1569.8,1312.7 L1570.8,1314.0 L1571.8,1315.1 L1572.8,1316.2 L1573.8,1317.1 L1574.8,1318.0 L1575.8,1318.8 L1576.8,1319.5 L1577.8,1320.2 L1578.8,1320.8 L1579.8,1321.5 L1580.8,1322.2 L1581.8,1322.9 L1582.8,1323.7 L1583.8,1324.4 L1584.8,1325.2 L1585.8,1326.0 L1586.8,1326.8 L1587.8,1327.6 L1588.8,1328.4 L1589.8,1329.2 L1590.8,1330.0 L1591.8,1330.8 L1592.8,1331.7 L1593.8,1332.5 L1594.8,1333.4 L1595.8,1334.2 L1596.8,1335.1 L1597.8,1336.0 L1598.8,1336.9 L1599.8,1337.8 L1600.8,1338.7 L1601.8,1339.5 L1602.8,1340.4 L1603.8,1341.3 L1604.8,1342.2 L1605.8,1343.0 L1606.8,1343.8 L1607.8,1344.6 L1608.8,1345.4 L1609.8,1346.2 L1610.8,1346.9 L1611.8,1347.6 L1612.8,1348.4 L1613.8,1349.1 L1614.8,1349.8 L1615.8,1350.5 L1616.8,1351.1 L1617.8,1351.8 L1618.8,1352.4 L1619.8,1353.0 L1620.8,1353.6 L1621.8,1354.2 L1622.8,1354.7 L1623.8,1355.1 L1624.8,1355.6 L1625.8,1356.0 L1626.8,1356.4 L1627.8,1356.8 L1628.8,1357.2 L1629.8,1357.6 L1630.8,1358.0 L1631.8,1358.4 L1632.8,1358.8 L1633.8,1359.2 L1634.8,1359.6 L1635.8,1360.0 L1636.8,1360.4 L1637.8,1360.8 L1638.8,1361.2 L1639.8,1361.6 L1640.8,1362.0 L1641.8,1362.4 L1642.8,1362.8 L1643.8,1363.2 L1644.8,1363.6 L1645.8,1364.1 L1646.8,1364.5 L1647.8,1364.9 L1648.8,1365.3 L1649.8,1365.8 L1650.8,1366.2 L1651.8,1366.6 L1652.8,1367.1 L1653.8,1367.5 L1654.8,1368.0 L1655.8,1368.4 L1656.8,1368.8 L1657.8,1369.3 L1658.8,1369.7 L1659.8,1370.1 L1660.8,1370.5 L1661.8,1370.8 L1662.8,1371.2 L1663.8,1371.5 L1664.8,1371.8 L1665.8,1372.1 L1666.8,1372.3 L1667.8,1372.6 L1668.8,1372.8 L1669.8,1373.1 L1670.8,1373.3 L1671.8,1373.6 L1672.8,1373.8 L1673.8,1374.0 L1674.8,1374.2 L1675.8,1374.4 L1676.8,1374.6 L1677.8,1374.8 L1678.8,1375.0 L1679.8,1375.2 L1680.8,1375.3 L1681.8,1375.5 L1682.8,1375.6 L1683.8,1375.8 L1684.8,1375.9 L1685.8,1376.1 L1686.8,1376.2 L1687.8,1376.3 L1688.8,1376.4 L1689.8,1376.5 L1690.8,1376.6 L1691.8,1376.7 L1692.8,1376.8 L1693.8,1376.8 L1694.8,1376.9 L1695.8,1376.9 L1696.8,1377.0 L1697.8,1377.0 L1698.8,1377.1 L1699.8,1377.1 L1700.8,1377.2 L1701.8,1377.2 L1702.8,1377.3 L1703.8,1377.3 L1704.8,1377.4 L1705.8,1377.4 L1706.8,1377.5 L1707.8,1377.5 L1708.8,1377.6 L1709.8,1377.6 L1710.8,1377.7 L1711.8,1377.7 L1712.8,1377.8 L1713.8,1377.8 L1714.8,1377.9 L1715.8,1378.0 L1716.8,1378.1 L1717.8,1378.2 L1718.8,1378.3 L1719.8,1378.5 L1720.8,1378.6 L1721.8,1378.8 L1722.8,1378.9 L1723.8,1379.1 L1724.8,1379.2 L1725.8,1379.4 L1726.8,1379.5 L1727.8,1379.7 L1728.8,1379.9 L1729.8,1380.0 L1730.8,1380.2 L1731.8,1380.4 L1732.8,1380.6 L1733.8,1380.8 L1734.8,1381.0 L1735.8,1381.2 L1736.8,1381.4 L1737.8,1381.5 L1738.8,1381.7 L1739.8,1381.9 L1740.8,1382.1 L1741.8,1382.3 L1742.8,1382.5 L1743.8,1382.7 L1744.8,1382.9 L1745.8,1383.0 L1746.8,1383.2 L1747.8,1383.4 L1748.8,1383.6 L1749.8,1383.7 L1750.8,1383.9 L1751.8,1384.0 L1752.8,1384.2 L1753.8,1384.4 L1754.8,1384.5 L1755.8,1384.7 L1756.8,1384.9 L1757.8,1385.0 L1758.8,1385.2 L1759.8,1385.3 L1760.8,1385.5 L1761.8,1385.6 L1762.8,1385.8 L1763.8,1385.9 L1764.8,1386.0 L1765.8,1386.2 L1766.8,1386.3 L1767.8,1386.4 L1768.8,1386.6 L1769.8,1386.7 L1770.8,1386.8 L1771.8,1387.0 L1772.8,1387.1 L1773.8,1387.2 L1774.8,1387.4 L1775.8,1387.5 L1776.8,1387.6 L1777.8,1387.7 L1778.8,1387.8 L1779.8,1387.9 L1780.8,1388.1 L1781.8,1388.1 L1782.8,1388.2 L1783.8,1388.3 L1784.8,1388.4 L1785.8,1388.5 L1786.8,1388.5 L1787.8,1388.6 L1788.8,1388.7 L1789.8,1388.7 L1790.8,1388.8 L1791.8,1388.9 L1792.8,1388.9 L1793.8,1389.0 L1794.8,1389.1 L1795.8,1389.1 L1796.8,1389.2 L1797.8,1389.3 L1798.8,1389.3 L1799.8,1389.3 L1800.8,1389.4 L1801.8,1389.4 L1802.8,1389.4 L1803.8,1389.4 L1804.8,1389.3 L1805.8,1389.3 L1806.8,1389.3 L1807.8,1389.3 L1808.8,1389.2 L1809.8,1389.2 L1810.8,1389.2 L1811.8,1389.1 L1812.8,1389.1 L1813.8,1389.1 L1814.8,1389.0 L1815.8,1389.0 L1816.8,1388.9 L1817.8,1388.9 L1818.8,1388.9 L1819.8,1388.8 L1820.8,1388.7 L1821.8,1388.7 L1822.8,1388.6 L1823.8,1388.5 L1824.8,1388.4 L1825.8,1388.3 L1826.8,1388.2 L1827.8,1388.1 L1828.8,1388.0 L1829.8,1387.9 L1830.8,1387.8 L1831.8,1387.7 L1832.8,1387.6 L1833.8,1387.5 L1834.8,1387.4 L1835.8,1387.3 L1836.8,1387.2 L1837.8,1387.1 L1838.8,1387.0 L1839.8,1386.9 L1840.8,1386.8 L1841.8,1386.7 L1842.8,1386.5 L1843.8,1386.4 L1844.8,1386.3 L1845.8,1386.2 L1846.8,1386.0 L1847.8,1385.9 L1848.8,1385.8 L1849.8,1385.6 L1850.8,1385.5 L1851.8,1385.4 L1852.8,1385.2 L1853.8,1385.1 L1854.8,1385.0 L1855.8,1384.8 L1856.8,1384.7 L1857.8,1384.6 L1858.8,1384.5 L1859.8,1384.3 L1860.8,1384.2 L1861.8,1384.1 L1862.8,1384.0 L1863.8,1383.9 L1864.8,1383.8 L1865.8,1383.7 L1866.8,1383.6 L1867.8,1383.5 L1868.8,1383.4 L1869.8,1383.3 L1870.8,1383.2 L1871.8,1383.1 L1872.8,1383.0 L1873.8,1382.9 L1874.8,1382.8 L1875.8,1382.7 L1876.8,1382.6 L1877.8,1382.5 L1878.8,1382.4 L1879.8,1382.3 L1880.8,1382.2 L1881.8,1382.1 L1882.8,1382.1 L1883.8,1382.0 L1884.8,1382.0 L1885.8,1381.9 L1886.8,1381.9 L1887.8,1381.8 L1888.8,1381.8 L1889.8,1381.8 L1890.8,1381.7 L1891.8,1381.7 L1892.8,1381.7 L1893.8,1381.6 L1894.8,1381.6 L1895.8,1381.6 L1896.8,1381.5 L1897.8,1381.5 L1898.8,1381.5 L1899.8,1381.4 L1900.8,1381.4 L1901.8,1381.4 L1902.8,1381.4 L1903.8,1381.4 L1904.8,1381.4 L1905.8,1381.4 L1906.8,1381.4 L1907.8,1381.5 L1908.8,1381.5 L1909.8,1381.5 L1910.8,1381.6 L1911.8,1381.6 L1912.8,1381.6 L1913.8,1381.7 L1914.8,1381.7 L1915.8,1381.7 L1916.8,1381.8 L1917.8,1381.8 L1918.8,1381.8 L1919.8,1381.9 L1920.8,1381.9 L1921.8,1382.0 L1922.8,1382.0 L1923.8,1382.1 L1924.8,1382.2 L1925.8,1382.3 L1926.8,1382.3 L1927.8,1382.4 L1928.8,1382.5 L1929.8,1382.6 L1930.8,1382.7 L1931.8,1382.8 L1932.8,1382.9 L1933.8,1383.0 L1934.8,1383.1 L1935.8,1383.2 L1936.8,1383.3 L1937.8,1383.4 L1938.8,1383.5 L1939.8,1383.6 L1940.8,1383.7 L1941.8,1383.9 L1942.8,1384.0 L1943.8,1384.1 L1944.8,1384.3 L1945.8,1384.5 L1946.8,1384.7 L1947.8,1384.9 L1948.8,1385.1 L1949.8,1385.3 L1950.8,1385.5 L1951.8,1385.8 L1952.8,1386.0 L1953.8,1386.2 L1954.8,1386.4 L1955.8,1386.6 L1956.8,1386.8 L1957.8,1387.0 L1958.8,1387.1 L1959.0,1387.2" fill="none" stroke="#7b2f95" stroke-width="4.2" stroke-linejoin="round" stroke-linecap="round" clip-path="url(#clipd)"/>
<path d="M1225.6,866 H1959.2" fill="none" stroke="#262626" stroke-width="2"/>
<path d="M1959.2,865 V1402.8" fill="none" stroke="#111" stroke-width="2.1"/>
<path d="M1225.6,865 V1402.8" fill="none" stroke="#000" stroke-width="2.4"/>
<path d="M1224.3999999999999,1402.8 H1960.4" fill="none" stroke="#000" stroke-width="3"/>
<text x="1225.6" y="1450.1" font-size="31" fill="#404040" text-anchor="middle" >0</text>
<text x="1409.0" y="1450.1" font-size="31" fill="#404040" text-anchor="middle" >1</text>
<text x="1592.4" y="1450.1" font-size="31" fill="#404040" text-anchor="middle" >2</text>
<text x="1775.8" y="1450.1" font-size="31" fill="#404040" text-anchor="middle" >3</text>
<text x="1959.2" y="1450.1" font-size="31" fill="#404040" text-anchor="middle" >4</text>
<text x="1210.9" y="1416.0" font-size="31" fill="#000" text-anchor="end" >0</text>
<text x="1210.9" y="1281.8" font-size="31" fill="#000" text-anchor="end" >3</text>
<text x="1210.9" y="1147.6" font-size="31" fill="#000" text-anchor="end" >6</text>
<text x="1210.9" y="1013.4" font-size="31" fill="#000" text-anchor="end" >9</text>
<text x="1210.9" y="879.2" font-size="31" fill="#000" text-anchor="end" >12</text>
<text x="1973.2" y="1416.0" font-size="31" fill="#000" text-anchor="start" >0</text>
<text x="1973.2" y="1281.8" font-size="31" fill="#000" text-anchor="start" >0.25</text>
<text x="1973.2" y="1147.6" font-size="31" fill="#000" text-anchor="start" >0.5</text>
<text x="1973.2" y="1013.4" font-size="31" fill="#000" text-anchor="start" >0.75</text>
<text x="1973.2" y="879.2" font-size="31" fill="#000" text-anchor="start" >1</text>
<text x="1157.3" y="1136.0" font-size="38" fill="#000" text-anchor="middle" transform="rotate(-90 1157.3 1136)">Number of angiosperm sites</text>
<text x="2086.5" y="1135.0" font-size="38" fill="#000" text-anchor="middle" transform="rotate(-90 2086.5 1135)">Kernel density</text>
<text x="1591.0" y="1500.0" font-size="38" fill="#404040" text-anchor="middle" >ln(Rs+1)</text>
<text x="1131.4" y="824.0" font-size="37" fill="#000" text-anchor="start" font-weight="bold" >d</text>
<text x="1225.8" y="824.5" font-size="38.3" fill="#000" text-anchor="start" >Temporal change of angiosperm resilience</text>
<circle cx="1724.8" cy="916.3" r="8.9" fill="#a0a0a0"/>
<text x="1762.0" y="928.2" font-size="31" fill="#000" text-anchor="start" >Before 1950</text>
<circle cx="1724.8" cy="958.7" r="8.9" fill="#4674bf"/>
<text x="1762.0" y="970.6" font-size="31" fill="#000" text-anchor="start" >1950-1969</text>
<circle cx="1724.8" cy="1001.1" r="8.9" fill="#eb8434"/>
<text x="1762.0" y="1013.0" font-size="31" fill="#000" text-anchor="start" >1970-1989</text>
<circle cx="1724.8" cy="1043.5" r="8.9" fill="#7d3a9e"/>
<text x="1762.0" y="1055.4" font-size="31" fill="#000" text-anchor="start" >1990-2009</text>
<rect x="1361.2" y="873.4" width="290.29999999999995" height="121.89999999999998" fill="#fff" stroke="#454545" stroke-width="2"/>
<text x="1361.2" y="1033.7" font-size="23" fill="#404040" text-anchor="middle" >-2</text>
<text x="1490.2" y="1033.7" font-size="23" fill="#404040" text-anchor="middle" >0</text>
<text x="1619.2" y="1033.7" font-size="23" fill="#404040" text-anchor="middle" >2</text>
<path d="M1361.2,873.4 v5 M1361.2,995.3 v-5 M1490.2,873.4 v5 M1490.2,995.3 v-5 M1619.2,873.4 v5 M1619.2,995.3 v-5 M1361.2,915.5 h5 M1651.5,915.5 h-5 M1361.2,952.7 h5 M1651.5,952.7 h-5" stroke="#333" stroke-width="1.6" fill="none"/>
<text x="1517.5" y="1061.3" font-size="27.3" fill="#404040" text-anchor="middle" textLength="277">Relative to 1950-1969</text>
<path d="M1490.2,874.4 V994.3" stroke="#d8d84c" stroke-width="2.2"/>
<path d="M1370.2,915.5 H1432.2 M1520.5,915.5 H1604.4" stroke="#7030a0" stroke-width="4.4" stroke-linecap="round"/>
<rect x="1432.2" y="907.8" width="88.4" height="15.5" fill="#c2a8dc" stroke="#7030a0" stroke-width="4.2" rx="1.5"/>
<circle cx="1485.1" cy="915.5" r="5" fill="#7030a0"/>
<path d="M1481.2,910.2 V920.8" stroke="#e0d84a" stroke-width="3"/>
<path d="M1370.2,952.7 H1455.4 M1547.0,952.7 H1619.2" stroke="#ed7d31" stroke-width="4.4" stroke-linecap="round"/>
<rect x="1455.4" y="945.0" width="91.6" height="15.5" fill="#f7bc8e" stroke="#ed7d31" stroke-width="4.2" rx="1.5"/>
<circle cx="1497.3" cy="952.7" r="5" fill="#ed7d31"/>
<path d="M1502.5,947.5 V958.0" stroke="#e0d84a" stroke-width="3"/>
<text x="1392.7" y="906.8" font-size="25" fill="#613a96" text-anchor="start" font-weight="bold" >(-) 55%</text>
<text x="1523.3" y="906.8" font-size="25" fill="#613a96" text-anchor="start" font-weight="bold" >(+) 45%</text>
<text x="1392.7" y="980.8" font-size="25" fill="#e47f30" text-anchor="start" font-weight="bold" >(-) 43%</text>
<text x="1523.3" y="980.8" font-size="25" fill="#e47f30" text-anchor="start" font-weight="bold" >(+) 57%</text>
<text x="1350.6" y="925.1" font-size="24.5" fill="#613a96" text-anchor="end" >1990-2009</text>
<text x="1350.6" y="966.3" font-size="24.5" fill="#e47f30" text-anchor="end" >1970-1989</text>
</svg></body></html>
